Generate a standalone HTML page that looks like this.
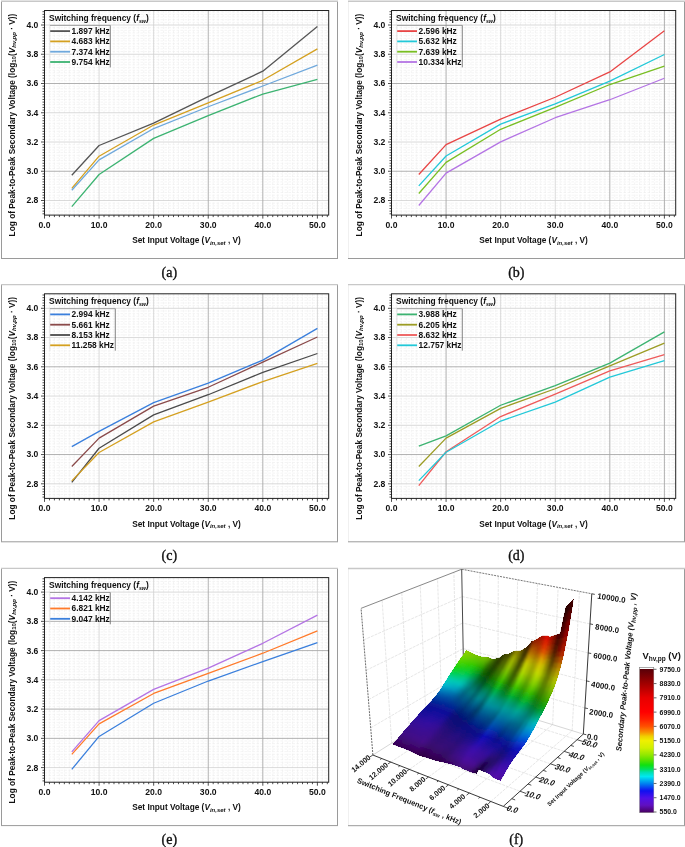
<!DOCTYPE html>
<html><head><meta charset="utf-8"><style>html,body{margin:0;padding:0;background:#fff;width:685px;height:847px;overflow:hidden} svg{display:block;filter:blur(0.3px)}</style></head>
<body><svg width="685" height="847" viewBox="0 0 685 847">
<style>text{font-family:'Liberation Sans', sans-serif;font-weight:bold;fill:#111} .tk{font-size:8.6px} .lg{font-size:8.4px} .at{font-size:8.3px} .cap{font-family:'Liberation Serif', serif;font-weight:normal;font-size:14px;stroke:#111;stroke-width:0.35px} .f3{font-size:7.9px} .f3v{font-size:8px} .f3f{font-size:7.4px} .f3t{font-size:7.5px} .f3t2{font-size:5.8px} .f3z{font-size:7.7px;font-style:italic} .cbl{font-size:6.9px} .cbt{font-size:9.4px}</style>
<rect width="685" height="847" fill="#fff"/>
<path d="M1.5 1V258.5" stroke="#9a9a9a" stroke-width="1" fill="none"/>
<path d="M337.5 1V258.5M1 258.5H338" stroke="#9a9a9a" stroke-width="1" fill="none"/>
<path d="M1 1.3H338" stroke="#c8c8c8" stroke-width="1.4" fill="none"/>
<path d="M49.46 10.50V215.10M54.42 10.50V215.10M59.39 10.50V215.10M64.35 10.50V215.10M69.31 10.50V215.10M74.27 10.50V215.10M79.23 10.50V215.10M84.19 10.50V215.10M89.16 10.50V215.10M94.12 10.50V215.10M104.04 10.50V215.10M109.00 10.50V215.10M113.97 10.50V215.10M118.93 10.50V215.10M123.89 10.50V215.10M128.85 10.50V215.10M133.81 10.50V215.10M138.77 10.50V215.10M143.74 10.50V215.10M148.70 10.50V215.10M158.62 10.50V215.10M163.58 10.50V215.10M168.55 10.50V215.10M173.51 10.50V215.10M178.47 10.50V215.10M183.43 10.50V215.10M188.39 10.50V215.10M193.35 10.50V215.10M198.32 10.50V215.10M203.28 10.50V215.10M213.20 10.50V215.10M218.16 10.50V215.10M223.13 10.50V215.10M228.09 10.50V215.10M233.05 10.50V215.10M238.01 10.50V215.10M242.97 10.50V215.10M247.93 10.50V215.10M252.90 10.50V215.10M257.86 10.50V215.10M267.78 10.50V215.10M272.74 10.50V215.10M277.71 10.50V215.10M282.67 10.50V215.10M287.63 10.50V215.10M292.59 10.50V215.10M297.55 10.50V215.10M302.51 10.50V215.10M307.48 10.50V215.10M312.44 10.50V215.10M322.36 10.50V215.10M327.32 10.50V215.10M44.50 213.80H328.70M44.50 211.14H328.70M44.50 208.48H328.70M44.50 205.82H328.70M44.50 203.16H328.70M44.50 197.84H328.70M44.50 195.18H328.70M44.50 192.52H328.70M44.50 189.86H328.70M44.50 187.20H328.70M44.50 184.55H328.70M44.50 181.89H328.70M44.50 179.23H328.70M44.50 176.57H328.70M44.50 173.91H328.70M44.50 168.59H328.70M44.50 165.93H328.70M44.50 163.27H328.70M44.50 160.61H328.70M44.50 157.95H328.70M44.50 155.30H328.70M44.50 152.64H328.70M44.50 149.98H328.70M44.50 147.32H328.70M44.50 144.66H328.70M44.50 139.34H328.70M44.50 136.68H328.70M44.50 134.02H328.70M44.50 131.36H328.70M44.50 128.70H328.70M44.50 126.05H328.70M44.50 123.39H328.70M44.50 120.73H328.70M44.50 118.07H328.70M44.50 115.41H328.70M44.50 110.09H328.70M44.50 107.43H328.70M44.50 104.77H328.70M44.50 102.11H328.70M44.50 99.45H328.70M44.50 96.80H328.70M44.50 94.14H328.70M44.50 91.48H328.70M44.50 88.82H328.70M44.50 86.16H328.70M44.50 80.84H328.70M44.50 78.18H328.70M44.50 75.52H328.70M44.50 72.86H328.70M44.50 70.20H328.70M44.50 67.55H328.70M44.50 64.89H328.70M44.50 62.23H328.70M44.50 59.57H328.70M44.50 56.91H328.70M44.50 51.59H328.70M44.50 48.93H328.70M44.50 46.27H328.70M44.50 43.61H328.70M44.50 40.95H328.70M44.50 38.30H328.70M44.50 35.64H328.70M44.50 32.98H328.70M44.50 30.32H328.70M44.50 27.66H328.70M44.50 22.34H328.70M44.50 19.68H328.70M44.50 17.02H328.70M44.50 14.36H328.70M44.50 11.70H328.70" stroke="#ececec" stroke-width="0.6" stroke-dasharray="2.5 1.5" fill="none"/>
<path d="M99.08 10.50V215.10M153.66 10.50V215.10M317.40 10.50V215.10M44.50 200.50H328.70M44.50 142.00H328.70M44.50 112.75H328.70M44.50 54.25H328.70M44.50 25.00H328.70" stroke="#d0d0d0" stroke-width="0.8" fill="none"/>
<path d="M208.24 10.50V215.10M262.82 10.50V215.10M44.50 171.25H328.70M44.50 83.50H328.70" stroke="#a8a8a8" stroke-width="0.9" fill="none"/>
<polyline points="71.79,175.20 99.08,145.51 153.66,123.13 208.24,96.66 262.82,71.21 317.40,26.61" fill="none" stroke="#555555" stroke-width="1.3" stroke-linejoin="round"/>
<polyline points="71.79,188.36 99.08,156.19 153.66,125.03 208.24,102.80 262.82,80.28 317.40,48.84" fill="none" stroke="#D4A020" stroke-width="1.3" stroke-linejoin="round"/>
<polyline points="71.79,190.26 99.08,159.84 153.66,128.55 208.24,106.75 262.82,85.99 317.40,65.22" fill="none" stroke="#6FA8DC" stroke-width="1.3" stroke-linejoin="round"/>
<polyline points="71.79,206.64 99.08,174.47 153.66,138.34 208.24,115.53 262.82,94.03 317.40,79.26" fill="none" stroke="#3CB371" stroke-width="1.3" stroke-linejoin="round"/>
<rect x="44.50" y="10.50" width="284.20" height="204.60" fill="none" stroke="#222" stroke-width="1"/>
<path d="M44.50 215.10v3.5M49.46 215.10v2.0M54.42 215.10v2.0M59.39 215.10v2.0M64.35 215.10v2.0M69.31 215.10v2.0M74.27 215.10v2.0M79.23 215.10v2.0M84.19 215.10v2.0M89.16 215.10v2.0M94.12 215.10v2.0M99.08 215.10v3.5M104.04 215.10v2.0M109.00 215.10v2.0M113.97 215.10v2.0M118.93 215.10v2.0M123.89 215.10v2.0M128.85 215.10v2.0M133.81 215.10v2.0M138.77 215.10v2.0M143.74 215.10v2.0M148.70 215.10v2.0M153.66 215.10v3.5M158.62 215.10v2.0M163.58 215.10v2.0M168.55 215.10v2.0M173.51 215.10v2.0M178.47 215.10v2.0M183.43 215.10v2.0M188.39 215.10v2.0M193.35 215.10v2.0M198.32 215.10v2.0M203.28 215.10v2.0M208.24 215.10v3.5M213.20 215.10v2.0M218.16 215.10v2.0M223.13 215.10v2.0M228.09 215.10v2.0M233.05 215.10v2.0M238.01 215.10v2.0M242.97 215.10v2.0M247.93 215.10v2.0M252.90 215.10v2.0M257.86 215.10v2.0M262.82 215.10v3.5M267.78 215.10v2.0M272.74 215.10v2.0M277.71 215.10v2.0M282.67 215.10v2.0M287.63 215.10v2.0M292.59 215.10v2.0M297.55 215.10v2.0M302.51 215.10v2.0M307.48 215.10v2.0M312.44 215.10v2.0M317.40 215.10v3.5M322.36 215.10v2.0M327.32 215.10v2.0M44.50 213.80h-2.0M44.50 211.14h-2.0M44.50 208.48h-2.0M44.50 205.82h-2.0M44.50 203.16h-2.0M44.50 200.50h-3.5M44.50 197.84h-2.0M44.50 195.18h-2.0M44.50 192.52h-2.0M44.50 189.86h-2.0M44.50 187.20h-2.0M44.50 184.55h-2.0M44.50 181.89h-2.0M44.50 179.23h-2.0M44.50 176.57h-2.0M44.50 173.91h-2.0M44.50 171.25h-3.5M44.50 168.59h-2.0M44.50 165.93h-2.0M44.50 163.27h-2.0M44.50 160.61h-2.0M44.50 157.95h-2.0M44.50 155.30h-2.0M44.50 152.64h-2.0M44.50 149.98h-2.0M44.50 147.32h-2.0M44.50 144.66h-2.0M44.50 142.00h-3.5M44.50 139.34h-2.0M44.50 136.68h-2.0M44.50 134.02h-2.0M44.50 131.36h-2.0M44.50 128.70h-2.0M44.50 126.05h-2.0M44.50 123.39h-2.0M44.50 120.73h-2.0M44.50 118.07h-2.0M44.50 115.41h-2.0M44.50 112.75h-3.5M44.50 110.09h-2.0M44.50 107.43h-2.0M44.50 104.77h-2.0M44.50 102.11h-2.0M44.50 99.45h-2.0M44.50 96.80h-2.0M44.50 94.14h-2.0M44.50 91.48h-2.0M44.50 88.82h-2.0M44.50 86.16h-2.0M44.50 83.50h-3.5M44.50 80.84h-2.0M44.50 78.18h-2.0M44.50 75.52h-2.0M44.50 72.86h-2.0M44.50 70.20h-2.0M44.50 67.55h-2.0M44.50 64.89h-2.0M44.50 62.23h-2.0M44.50 59.57h-2.0M44.50 56.91h-2.0M44.50 54.25h-3.5M44.50 51.59h-2.0M44.50 48.93h-2.0M44.50 46.27h-2.0M44.50 43.61h-2.0M44.50 40.95h-2.0M44.50 38.30h-2.0M44.50 35.64h-2.0M44.50 32.98h-2.0M44.50 30.32h-2.0M44.50 27.66h-2.0M44.50 25.00h-3.5M44.50 22.34h-2.0M44.50 19.68h-2.0M44.50 17.02h-2.0M44.50 14.36h-2.0M44.50 11.70h-2.0" stroke="#222" stroke-width="0.8" fill="none"/>
<text x="44.50" y="228.00" text-anchor="middle" class="tk">0.0</text>
<text x="99.08" y="228.00" text-anchor="middle" class="tk">10.0</text>
<text x="153.66" y="228.00" text-anchor="middle" class="tk">20.0</text>
<text x="208.24" y="228.00" text-anchor="middle" class="tk">30.0</text>
<text x="262.82" y="228.00" text-anchor="middle" class="tk">40.0</text>
<text x="317.40" y="228.00" text-anchor="middle" class="tk">50.0</text>
<text x="38.40" y="203.40" text-anchor="end" class="tk">2.8</text>
<text x="38.40" y="174.15" text-anchor="end" class="tk">3.0</text>
<text x="38.40" y="144.90" text-anchor="end" class="tk">3.2</text>
<text x="38.40" y="115.65" text-anchor="end" class="tk">3.4</text>
<text x="38.40" y="86.40" text-anchor="end" class="tk">3.6</text>
<text x="38.40" y="57.15" text-anchor="end" class="tk">3.8</text>
<text x="38.40" y="27.90" text-anchor="end" class="tk">4.0</text>
<text x="186.50" y="243.20" text-anchor="middle" class="at">Set Input Voltage (<tspan font-style="italic">V</tspan><tspan font-style="italic" font-size="6" dy="1.8">in,set</tspan><tspan dy="-1.8"> , V)</tspan></text>
<text transform="translate(14.60,125.00) rotate(-90)" text-anchor="middle" class="at" style="font-size:8.3px">Log of Peak-to-Peak Secondary Voltage (log<tspan font-size="6" dy="1.8">10</tspan><tspan dy="-1.8">(</tspan><tspan font-style="italic">V</tspan><tspan font-style="italic" font-size="6" dy="1.8">hv,pp</tspan><tspan dy="-1.8"> · V))</tspan></text>
<text x="49.10" y="20.60" class="lg">Switching frequency (<tspan font-style="italic">f</tspan><tspan font-style="italic" font-size="5.3" dy="2">sw</tspan><tspan dy="-2">)</tspan></text>
<path d="M49.90 67.40V25.40" fill="none" stroke="#ddd" stroke-width="0.7"/>
<path d="M49.90 25.40H110.30" fill="none" stroke="#8c8c8c" stroke-width="0.8"/>
<path d="M110.30 25.40V67.40" fill="none" stroke="#666" stroke-width="0.8"/>
<line x1="50.20" y1="31.10" x2="70.00" y2="31.10" stroke="#555555" stroke-width="1.8"/>
<text x="71.60" y="34.00" class="lg">1.897 kHz</text>
<line x1="50.20" y1="41.40" x2="70.00" y2="41.40" stroke="#D4A020" stroke-width="1.8"/>
<text x="71.60" y="44.30" class="lg">4.683 kHz</text>
<line x1="50.20" y1="51.70" x2="70.00" y2="51.70" stroke="#6FA8DC" stroke-width="1.8"/>
<text x="71.60" y="54.60" class="lg">7.374 kHz</text>
<line x1="50.20" y1="62.00" x2="70.00" y2="62.00" stroke="#3CB371" stroke-width="1.8"/>
<text x="71.60" y="64.90" class="lg">9.754 kHz</text>
<text x="169.30" y="277.00" text-anchor="middle" class="cap">(a)</text>
<path d="M348.5 1V258.5" stroke="#f0f0f0" stroke-width="1" fill="none"/>
<path d="M684.5 1V258.5M348 258.5H685" stroke="#9a9a9a" stroke-width="1" fill="none"/>
<path d="M348 1.3H685" stroke="#c8c8c8" stroke-width="1.4" fill="none"/>
<path d="M396.46 10.50V215.10M401.42 10.50V215.10M406.39 10.50V215.10M411.35 10.50V215.10M416.31 10.50V215.10M421.27 10.50V215.10M426.23 10.50V215.10M431.19 10.50V215.10M436.16 10.50V215.10M441.12 10.50V215.10M451.04 10.50V215.10M456.00 10.50V215.10M460.97 10.50V215.10M465.93 10.50V215.10M470.89 10.50V215.10M475.85 10.50V215.10M480.81 10.50V215.10M485.77 10.50V215.10M490.74 10.50V215.10M495.70 10.50V215.10M505.62 10.50V215.10M510.58 10.50V215.10M515.55 10.50V215.10M520.51 10.50V215.10M525.47 10.50V215.10M530.43 10.50V215.10M535.39 10.50V215.10M540.35 10.50V215.10M545.32 10.50V215.10M550.28 10.50V215.10M560.20 10.50V215.10M565.16 10.50V215.10M570.13 10.50V215.10M575.09 10.50V215.10M580.05 10.50V215.10M585.01 10.50V215.10M589.97 10.50V215.10M594.93 10.50V215.10M599.90 10.50V215.10M604.86 10.50V215.10M614.78 10.50V215.10M619.74 10.50V215.10M624.71 10.50V215.10M629.67 10.50V215.10M634.63 10.50V215.10M639.59 10.50V215.10M644.55 10.50V215.10M649.51 10.50V215.10M654.48 10.50V215.10M659.44 10.50V215.10M669.36 10.50V215.10M674.32 10.50V215.10M391.50 213.80H675.70M391.50 211.14H675.70M391.50 208.48H675.70M391.50 205.82H675.70M391.50 203.16H675.70M391.50 197.84H675.70M391.50 195.18H675.70M391.50 192.52H675.70M391.50 189.86H675.70M391.50 187.20H675.70M391.50 184.55H675.70M391.50 181.89H675.70M391.50 179.23H675.70M391.50 176.57H675.70M391.50 173.91H675.70M391.50 168.59H675.70M391.50 165.93H675.70M391.50 163.27H675.70M391.50 160.61H675.70M391.50 157.95H675.70M391.50 155.30H675.70M391.50 152.64H675.70M391.50 149.98H675.70M391.50 147.32H675.70M391.50 144.66H675.70M391.50 139.34H675.70M391.50 136.68H675.70M391.50 134.02H675.70M391.50 131.36H675.70M391.50 128.70H675.70M391.50 126.05H675.70M391.50 123.39H675.70M391.50 120.73H675.70M391.50 118.07H675.70M391.50 115.41H675.70M391.50 110.09H675.70M391.50 107.43H675.70M391.50 104.77H675.70M391.50 102.11H675.70M391.50 99.45H675.70M391.50 96.80H675.70M391.50 94.14H675.70M391.50 91.48H675.70M391.50 88.82H675.70M391.50 86.16H675.70M391.50 80.84H675.70M391.50 78.18H675.70M391.50 75.52H675.70M391.50 72.86H675.70M391.50 70.20H675.70M391.50 67.55H675.70M391.50 64.89H675.70M391.50 62.23H675.70M391.50 59.57H675.70M391.50 56.91H675.70M391.50 51.59H675.70M391.50 48.93H675.70M391.50 46.27H675.70M391.50 43.61H675.70M391.50 40.95H675.70M391.50 38.30H675.70M391.50 35.64H675.70M391.50 32.98H675.70M391.50 30.32H675.70M391.50 27.66H675.70M391.50 22.34H675.70M391.50 19.68H675.70M391.50 17.02H675.70M391.50 14.36H675.70M391.50 11.70H675.70" stroke="#ececec" stroke-width="0.6" stroke-dasharray="2.5 1.5" fill="none"/>
<path d="M500.66 10.50V215.10M555.24 10.50V215.10M391.50 200.50H675.70M391.50 142.00H675.70M391.50 112.75H675.70M391.50 54.25H675.70M391.50 25.00H675.70" stroke="#d0d0d0" stroke-width="0.8" fill="none"/>
<path d="M446.08 10.50V215.10M609.82 10.50V215.10M664.40 10.50V215.10M391.50 171.25H675.70M391.50 83.50H675.70" stroke="#a8a8a8" stroke-width="0.9" fill="none"/>
<polyline points="418.79,174.47 446.08,144.63 500.66,119.04 555.24,97.25 609.82,71.95 664.40,30.85" fill="none" stroke="#E84545" stroke-width="1.3" stroke-linejoin="round"/>
<polyline points="418.79,185.88 446.08,156.04 500.66,124.16 555.24,103.83 609.82,81.16 664.40,54.54" fill="none" stroke="#22C8D8" stroke-width="1.3" stroke-linejoin="round"/>
<polyline points="418.79,193.48 446.08,162.33 500.66,129.28 555.24,107.34 609.82,84.52 664.40,66.24" fill="none" stroke="#78BE22" stroke-width="1.3" stroke-linejoin="round"/>
<polyline points="418.79,205.47 446.08,173.15 500.66,141.85 555.24,117.72 609.82,99.73 664.40,78.23" fill="none" stroke="#B474E4" stroke-width="1.3" stroke-linejoin="round"/>
<rect x="391.50" y="10.50" width="284.20" height="204.60" fill="none" stroke="#222" stroke-width="1"/>
<path d="M391.50 215.10v3.5M396.46 215.10v2.0M401.42 215.10v2.0M406.39 215.10v2.0M411.35 215.10v2.0M416.31 215.10v2.0M421.27 215.10v2.0M426.23 215.10v2.0M431.19 215.10v2.0M436.16 215.10v2.0M441.12 215.10v2.0M446.08 215.10v3.5M451.04 215.10v2.0M456.00 215.10v2.0M460.97 215.10v2.0M465.93 215.10v2.0M470.89 215.10v2.0M475.85 215.10v2.0M480.81 215.10v2.0M485.77 215.10v2.0M490.74 215.10v2.0M495.70 215.10v2.0M500.66 215.10v3.5M505.62 215.10v2.0M510.58 215.10v2.0M515.55 215.10v2.0M520.51 215.10v2.0M525.47 215.10v2.0M530.43 215.10v2.0M535.39 215.10v2.0M540.35 215.10v2.0M545.32 215.10v2.0M550.28 215.10v2.0M555.24 215.10v3.5M560.20 215.10v2.0M565.16 215.10v2.0M570.13 215.10v2.0M575.09 215.10v2.0M580.05 215.10v2.0M585.01 215.10v2.0M589.97 215.10v2.0M594.93 215.10v2.0M599.90 215.10v2.0M604.86 215.10v2.0M609.82 215.10v3.5M614.78 215.10v2.0M619.74 215.10v2.0M624.71 215.10v2.0M629.67 215.10v2.0M634.63 215.10v2.0M639.59 215.10v2.0M644.55 215.10v2.0M649.51 215.10v2.0M654.48 215.10v2.0M659.44 215.10v2.0M664.40 215.10v3.5M669.36 215.10v2.0M674.32 215.10v2.0M391.50 213.80h-2.0M391.50 211.14h-2.0M391.50 208.48h-2.0M391.50 205.82h-2.0M391.50 203.16h-2.0M391.50 200.50h-3.5M391.50 197.84h-2.0M391.50 195.18h-2.0M391.50 192.52h-2.0M391.50 189.86h-2.0M391.50 187.20h-2.0M391.50 184.55h-2.0M391.50 181.89h-2.0M391.50 179.23h-2.0M391.50 176.57h-2.0M391.50 173.91h-2.0M391.50 171.25h-3.5M391.50 168.59h-2.0M391.50 165.93h-2.0M391.50 163.27h-2.0M391.50 160.61h-2.0M391.50 157.95h-2.0M391.50 155.30h-2.0M391.50 152.64h-2.0M391.50 149.98h-2.0M391.50 147.32h-2.0M391.50 144.66h-2.0M391.50 142.00h-3.5M391.50 139.34h-2.0M391.50 136.68h-2.0M391.50 134.02h-2.0M391.50 131.36h-2.0M391.50 128.70h-2.0M391.50 126.05h-2.0M391.50 123.39h-2.0M391.50 120.73h-2.0M391.50 118.07h-2.0M391.50 115.41h-2.0M391.50 112.75h-3.5M391.50 110.09h-2.0M391.50 107.43h-2.0M391.50 104.77h-2.0M391.50 102.11h-2.0M391.50 99.45h-2.0M391.50 96.80h-2.0M391.50 94.14h-2.0M391.50 91.48h-2.0M391.50 88.82h-2.0M391.50 86.16h-2.0M391.50 83.50h-3.5M391.50 80.84h-2.0M391.50 78.18h-2.0M391.50 75.52h-2.0M391.50 72.86h-2.0M391.50 70.20h-2.0M391.50 67.55h-2.0M391.50 64.89h-2.0M391.50 62.23h-2.0M391.50 59.57h-2.0M391.50 56.91h-2.0M391.50 54.25h-3.5M391.50 51.59h-2.0M391.50 48.93h-2.0M391.50 46.27h-2.0M391.50 43.61h-2.0M391.50 40.95h-2.0M391.50 38.30h-2.0M391.50 35.64h-2.0M391.50 32.98h-2.0M391.50 30.32h-2.0M391.50 27.66h-2.0M391.50 25.00h-3.5M391.50 22.34h-2.0M391.50 19.68h-2.0M391.50 17.02h-2.0M391.50 14.36h-2.0M391.50 11.70h-2.0" stroke="#222" stroke-width="0.8" fill="none"/>
<text x="391.50" y="228.00" text-anchor="middle" class="tk">0.0</text>
<text x="446.08" y="228.00" text-anchor="middle" class="tk">10.0</text>
<text x="500.66" y="228.00" text-anchor="middle" class="tk">20.0</text>
<text x="555.24" y="228.00" text-anchor="middle" class="tk">30.0</text>
<text x="609.82" y="228.00" text-anchor="middle" class="tk">40.0</text>
<text x="664.40" y="228.00" text-anchor="middle" class="tk">50.0</text>
<text x="385.40" y="203.40" text-anchor="end" class="tk">2.8</text>
<text x="385.40" y="174.15" text-anchor="end" class="tk">3.0</text>
<text x="385.40" y="144.90" text-anchor="end" class="tk">3.2</text>
<text x="385.40" y="115.65" text-anchor="end" class="tk">3.4</text>
<text x="385.40" y="86.40" text-anchor="end" class="tk">3.6</text>
<text x="385.40" y="57.15" text-anchor="end" class="tk">3.8</text>
<text x="385.40" y="27.90" text-anchor="end" class="tk">4.0</text>
<text x="533.50" y="243.20" text-anchor="middle" class="at">Set Input Voltage (<tspan font-style="italic">V</tspan><tspan font-style="italic" font-size="6" dy="1.8">in,set</tspan><tspan dy="-1.8"> , V)</tspan></text>
<text transform="translate(361.60,125.00) rotate(-90)" text-anchor="middle" class="at" style="font-size:8.3px">Log of Peak-to-Peak Secondary Voltage (log<tspan font-size="6" dy="1.8">10</tspan><tspan dy="-1.8">(</tspan><tspan font-style="italic">V</tspan><tspan font-style="italic" font-size="6" dy="1.8">hv,pp</tspan><tspan dy="-1.8"> · V))</tspan></text>
<text x="396.10" y="20.60" class="lg">Switching frequency (<tspan font-style="italic">f</tspan><tspan font-style="italic" font-size="5.3" dy="2">sw</tspan><tspan dy="-2">)</tspan></text>
<path d="M396.90 67.40V25.40" fill="none" stroke="#ddd" stroke-width="0.7"/>
<path d="M396.90 25.40H462.30" fill="none" stroke="#8c8c8c" stroke-width="0.8"/>
<path d="M462.30 25.40V67.40" fill="none" stroke="#666" stroke-width="0.8"/>
<line x1="397.20" y1="31.10" x2="417.00" y2="31.10" stroke="#E84545" stroke-width="1.8"/>
<text x="418.60" y="34.00" class="lg">2.596 kHz</text>
<line x1="397.20" y1="41.40" x2="417.00" y2="41.40" stroke="#22C8D8" stroke-width="1.8"/>
<text x="418.60" y="44.30" class="lg">5.632 kHz</text>
<line x1="397.20" y1="51.70" x2="417.00" y2="51.70" stroke="#78BE22" stroke-width="1.8"/>
<text x="418.60" y="54.60" class="lg">7.639 kHz</text>
<line x1="397.20" y1="62.00" x2="417.00" y2="62.00" stroke="#B474E4" stroke-width="1.8"/>
<text x="418.60" y="64.90" class="lg">10.334 kHz</text>
<text x="516.30" y="277.00" text-anchor="middle" class="cap">(b)</text>
<path d="M1.5 284.3V541.8" stroke="#9a9a9a" stroke-width="1" fill="none"/>
<path d="M337.5 284.3V541.8M1 541.8H338" stroke="#9a9a9a" stroke-width="1" fill="none"/>
<path d="M1 284.6H338" stroke="#c8c8c8" stroke-width="1.4" fill="none"/>
<path d="M49.46 293.80V498.40M54.42 293.80V498.40M59.39 293.80V498.40M64.35 293.80V498.40M69.31 293.80V498.40M74.27 293.80V498.40M79.23 293.80V498.40M84.19 293.80V498.40M89.16 293.80V498.40M94.12 293.80V498.40M104.04 293.80V498.40M109.00 293.80V498.40M113.97 293.80V498.40M118.93 293.80V498.40M123.89 293.80V498.40M128.85 293.80V498.40M133.81 293.80V498.40M138.77 293.80V498.40M143.74 293.80V498.40M148.70 293.80V498.40M158.62 293.80V498.40M163.58 293.80V498.40M168.55 293.80V498.40M173.51 293.80V498.40M178.47 293.80V498.40M183.43 293.80V498.40M188.39 293.80V498.40M193.35 293.80V498.40M198.32 293.80V498.40M203.28 293.80V498.40M213.20 293.80V498.40M218.16 293.80V498.40M223.13 293.80V498.40M228.09 293.80V498.40M233.05 293.80V498.40M238.01 293.80V498.40M242.97 293.80V498.40M247.93 293.80V498.40M252.90 293.80V498.40M257.86 293.80V498.40M267.78 293.80V498.40M272.74 293.80V498.40M277.71 293.80V498.40M282.67 293.80V498.40M287.63 293.80V498.40M292.59 293.80V498.40M297.55 293.80V498.40M302.51 293.80V498.40M307.48 293.80V498.40M312.44 293.80V498.40M322.36 293.80V498.40M327.32 293.80V498.40M44.50 497.10H328.70M44.50 494.44H328.70M44.50 491.78H328.70M44.50 489.12H328.70M44.50 486.46H328.70M44.50 481.14H328.70M44.50 478.48H328.70M44.50 475.82H328.70M44.50 473.16H328.70M44.50 470.50H328.70M44.50 467.85H328.70M44.50 465.19H328.70M44.50 462.53H328.70M44.50 459.87H328.70M44.50 457.21H328.70M44.50 451.89H328.70M44.50 449.23H328.70M44.50 446.57H328.70M44.50 443.91H328.70M44.50 441.25H328.70M44.50 438.60H328.70M44.50 435.94H328.70M44.50 433.28H328.70M44.50 430.62H328.70M44.50 427.96H328.70M44.50 422.64H328.70M44.50 419.98H328.70M44.50 417.32H328.70M44.50 414.66H328.70M44.50 412.00H328.70M44.50 409.35H328.70M44.50 406.69H328.70M44.50 404.03H328.70M44.50 401.37H328.70M44.50 398.71H328.70M44.50 393.39H328.70M44.50 390.73H328.70M44.50 388.07H328.70M44.50 385.41H328.70M44.50 382.75H328.70M44.50 380.10H328.70M44.50 377.44H328.70M44.50 374.78H328.70M44.50 372.12H328.70M44.50 369.46H328.70M44.50 364.14H328.70M44.50 361.48H328.70M44.50 358.82H328.70M44.50 356.16H328.70M44.50 353.50H328.70M44.50 350.85H328.70M44.50 348.19H328.70M44.50 345.53H328.70M44.50 342.87H328.70M44.50 340.21H328.70M44.50 334.89H328.70M44.50 332.23H328.70M44.50 329.57H328.70M44.50 326.91H328.70M44.50 324.25H328.70M44.50 321.60H328.70M44.50 318.94H328.70M44.50 316.28H328.70M44.50 313.62H328.70M44.50 310.96H328.70M44.50 305.64H328.70M44.50 302.98H328.70M44.50 300.32H328.70M44.50 297.66H328.70M44.50 295.00H328.70" stroke="#ececec" stroke-width="0.6" stroke-dasharray="2.5 1.5" fill="none"/>
<path d="M99.08 293.80V498.40M153.66 293.80V498.40M317.40 293.80V498.40M44.50 483.80H328.70M44.50 425.30H328.70M44.50 396.05H328.70M44.50 337.55H328.70M44.50 308.30H328.70" stroke="#d0d0d0" stroke-width="0.8" fill="none"/>
<path d="M208.24 293.80V498.40M262.82 293.80V498.40M44.50 454.55H328.70M44.50 366.80H328.70" stroke="#a8a8a8" stroke-width="0.9" fill="none"/>
<polyline points="71.79,446.65 99.08,431.44 153.66,402.63 208.24,383.18 262.82,360.07 317.40,328.34" fill="none" stroke="#3A7FDC" stroke-width="1.3" stroke-linejoin="round"/>
<polyline points="71.79,466.54 99.08,438.17 153.66,406.14 208.24,387.27 262.82,362.12 317.40,336.97" fill="none" stroke="#8A4A4A" stroke-width="1.3" stroke-linejoin="round"/>
<polyline points="71.79,482.34 99.08,448.26 153.66,414.92 208.24,394.73 262.82,372.36 317.40,353.49" fill="none" stroke="#4A4A4A" stroke-width="1.3" stroke-linejoin="round"/>
<polyline points="71.79,480.88 99.08,452.50 153.66,421.94 208.24,402.05 262.82,381.57 317.40,363.44" fill="none" stroke="#D4A020" stroke-width="1.3" stroke-linejoin="round"/>
<rect x="44.50" y="293.80" width="284.20" height="204.60" fill="none" stroke="#222" stroke-width="1"/>
<path d="M44.50 498.40v3.5M49.46 498.40v2.0M54.42 498.40v2.0M59.39 498.40v2.0M64.35 498.40v2.0M69.31 498.40v2.0M74.27 498.40v2.0M79.23 498.40v2.0M84.19 498.40v2.0M89.16 498.40v2.0M94.12 498.40v2.0M99.08 498.40v3.5M104.04 498.40v2.0M109.00 498.40v2.0M113.97 498.40v2.0M118.93 498.40v2.0M123.89 498.40v2.0M128.85 498.40v2.0M133.81 498.40v2.0M138.77 498.40v2.0M143.74 498.40v2.0M148.70 498.40v2.0M153.66 498.40v3.5M158.62 498.40v2.0M163.58 498.40v2.0M168.55 498.40v2.0M173.51 498.40v2.0M178.47 498.40v2.0M183.43 498.40v2.0M188.39 498.40v2.0M193.35 498.40v2.0M198.32 498.40v2.0M203.28 498.40v2.0M208.24 498.40v3.5M213.20 498.40v2.0M218.16 498.40v2.0M223.13 498.40v2.0M228.09 498.40v2.0M233.05 498.40v2.0M238.01 498.40v2.0M242.97 498.40v2.0M247.93 498.40v2.0M252.90 498.40v2.0M257.86 498.40v2.0M262.82 498.40v3.5M267.78 498.40v2.0M272.74 498.40v2.0M277.71 498.40v2.0M282.67 498.40v2.0M287.63 498.40v2.0M292.59 498.40v2.0M297.55 498.40v2.0M302.51 498.40v2.0M307.48 498.40v2.0M312.44 498.40v2.0M317.40 498.40v3.5M322.36 498.40v2.0M327.32 498.40v2.0M44.50 497.10h-2.0M44.50 494.44h-2.0M44.50 491.78h-2.0M44.50 489.12h-2.0M44.50 486.46h-2.0M44.50 483.80h-3.5M44.50 481.14h-2.0M44.50 478.48h-2.0M44.50 475.82h-2.0M44.50 473.16h-2.0M44.50 470.50h-2.0M44.50 467.85h-2.0M44.50 465.19h-2.0M44.50 462.53h-2.0M44.50 459.87h-2.0M44.50 457.21h-2.0M44.50 454.55h-3.5M44.50 451.89h-2.0M44.50 449.23h-2.0M44.50 446.57h-2.0M44.50 443.91h-2.0M44.50 441.25h-2.0M44.50 438.60h-2.0M44.50 435.94h-2.0M44.50 433.28h-2.0M44.50 430.62h-2.0M44.50 427.96h-2.0M44.50 425.30h-3.5M44.50 422.64h-2.0M44.50 419.98h-2.0M44.50 417.32h-2.0M44.50 414.66h-2.0M44.50 412.00h-2.0M44.50 409.35h-2.0M44.50 406.69h-2.0M44.50 404.03h-2.0M44.50 401.37h-2.0M44.50 398.71h-2.0M44.50 396.05h-3.5M44.50 393.39h-2.0M44.50 390.73h-2.0M44.50 388.07h-2.0M44.50 385.41h-2.0M44.50 382.75h-2.0M44.50 380.10h-2.0M44.50 377.44h-2.0M44.50 374.78h-2.0M44.50 372.12h-2.0M44.50 369.46h-2.0M44.50 366.80h-3.5M44.50 364.14h-2.0M44.50 361.48h-2.0M44.50 358.82h-2.0M44.50 356.16h-2.0M44.50 353.50h-2.0M44.50 350.85h-2.0M44.50 348.19h-2.0M44.50 345.53h-2.0M44.50 342.87h-2.0M44.50 340.21h-2.0M44.50 337.55h-3.5M44.50 334.89h-2.0M44.50 332.23h-2.0M44.50 329.57h-2.0M44.50 326.91h-2.0M44.50 324.25h-2.0M44.50 321.60h-2.0M44.50 318.94h-2.0M44.50 316.28h-2.0M44.50 313.62h-2.0M44.50 310.96h-2.0M44.50 308.30h-3.5M44.50 305.64h-2.0M44.50 302.98h-2.0M44.50 300.32h-2.0M44.50 297.66h-2.0M44.50 295.00h-2.0" stroke="#222" stroke-width="0.8" fill="none"/>
<text x="44.50" y="511.30" text-anchor="middle" class="tk">0.0</text>
<text x="99.08" y="511.30" text-anchor="middle" class="tk">10.0</text>
<text x="153.66" y="511.30" text-anchor="middle" class="tk">20.0</text>
<text x="208.24" y="511.30" text-anchor="middle" class="tk">30.0</text>
<text x="262.82" y="511.30" text-anchor="middle" class="tk">40.0</text>
<text x="317.40" y="511.30" text-anchor="middle" class="tk">50.0</text>
<text x="38.40" y="486.70" text-anchor="end" class="tk">2.8</text>
<text x="38.40" y="457.45" text-anchor="end" class="tk">3.0</text>
<text x="38.40" y="428.20" text-anchor="end" class="tk">3.2</text>
<text x="38.40" y="398.95" text-anchor="end" class="tk">3.4</text>
<text x="38.40" y="369.70" text-anchor="end" class="tk">3.6</text>
<text x="38.40" y="340.45" text-anchor="end" class="tk">3.8</text>
<text x="38.40" y="311.20" text-anchor="end" class="tk">4.0</text>
<text x="186.50" y="526.50" text-anchor="middle" class="at">Set Input Voltage (<tspan font-style="italic">V</tspan><tspan font-style="italic" font-size="6" dy="1.8">in,set</tspan><tspan dy="-1.8"> , V)</tspan></text>
<text transform="translate(14.60,408.30) rotate(-90)" text-anchor="middle" class="at" style="font-size:8.3px">Log of Peak-to-Peak Secondary Voltage (log<tspan font-size="6" dy="1.8">10</tspan><tspan dy="-1.8">(</tspan><tspan font-style="italic">V</tspan><tspan font-style="italic" font-size="6" dy="1.8">hv,pp</tspan><tspan dy="-1.8"> · V))</tspan></text>
<text x="49.10" y="303.90" class="lg">Switching frequency (<tspan font-style="italic">f</tspan><tspan font-style="italic" font-size="5.3" dy="2">sw</tspan><tspan dy="-2">)</tspan></text>
<path d="M49.90 350.70V308.70" fill="none" stroke="#ddd" stroke-width="0.7"/>
<path d="M49.90 308.70H115.30" fill="none" stroke="#8c8c8c" stroke-width="0.8"/>
<path d="M115.30 308.70V350.70" fill="none" stroke="#666" stroke-width="0.8"/>
<line x1="50.20" y1="314.40" x2="70.00" y2="314.40" stroke="#3A7FDC" stroke-width="1.8"/>
<text x="71.60" y="317.30" class="lg">2.994 kHz</text>
<line x1="50.20" y1="324.70" x2="70.00" y2="324.70" stroke="#8A4A4A" stroke-width="1.8"/>
<text x="71.60" y="327.60" class="lg">5.661 kHz</text>
<line x1="50.20" y1="335.00" x2="70.00" y2="335.00" stroke="#4A4A4A" stroke-width="1.8"/>
<text x="71.60" y="337.90" class="lg">8.153 kHz</text>
<line x1="50.20" y1="345.30" x2="70.00" y2="345.30" stroke="#D4A020" stroke-width="1.8"/>
<text x="71.60" y="348.20" class="lg">11.258 kHz</text>
<text x="169.30" y="560.30" text-anchor="middle" class="cap">(c)</text>
<path d="M348.5 284.3V541.8" stroke="#f0f0f0" stroke-width="1" fill="none"/>
<path d="M684.5 284.3V541.8M348 541.8H685" stroke="#9a9a9a" stroke-width="1" fill="none"/>
<path d="M348 284.6H685" stroke="#c8c8c8" stroke-width="1.4" fill="none"/>
<path d="M396.46 293.80V498.40M401.42 293.80V498.40M406.39 293.80V498.40M411.35 293.80V498.40M416.31 293.80V498.40M421.27 293.80V498.40M426.23 293.80V498.40M431.19 293.80V498.40M436.16 293.80V498.40M441.12 293.80V498.40M451.04 293.80V498.40M456.00 293.80V498.40M460.97 293.80V498.40M465.93 293.80V498.40M470.89 293.80V498.40M475.85 293.80V498.40M480.81 293.80V498.40M485.77 293.80V498.40M490.74 293.80V498.40M495.70 293.80V498.40M505.62 293.80V498.40M510.58 293.80V498.40M515.55 293.80V498.40M520.51 293.80V498.40M525.47 293.80V498.40M530.43 293.80V498.40M535.39 293.80V498.40M540.35 293.80V498.40M545.32 293.80V498.40M550.28 293.80V498.40M560.20 293.80V498.40M565.16 293.80V498.40M570.13 293.80V498.40M575.09 293.80V498.40M580.05 293.80V498.40M585.01 293.80V498.40M589.97 293.80V498.40M594.93 293.80V498.40M599.90 293.80V498.40M604.86 293.80V498.40M614.78 293.80V498.40M619.74 293.80V498.40M624.71 293.80V498.40M629.67 293.80V498.40M634.63 293.80V498.40M639.59 293.80V498.40M644.55 293.80V498.40M649.51 293.80V498.40M654.48 293.80V498.40M659.44 293.80V498.40M669.36 293.80V498.40M674.32 293.80V498.40M391.50 497.10H675.70M391.50 494.44H675.70M391.50 491.78H675.70M391.50 489.12H675.70M391.50 486.46H675.70M391.50 481.14H675.70M391.50 478.48H675.70M391.50 475.82H675.70M391.50 473.16H675.70M391.50 470.50H675.70M391.50 467.85H675.70M391.50 465.19H675.70M391.50 462.53H675.70M391.50 459.87H675.70M391.50 457.21H675.70M391.50 451.89H675.70M391.50 449.23H675.70M391.50 446.57H675.70M391.50 443.91H675.70M391.50 441.25H675.70M391.50 438.60H675.70M391.50 435.94H675.70M391.50 433.28H675.70M391.50 430.62H675.70M391.50 427.96H675.70M391.50 422.64H675.70M391.50 419.98H675.70M391.50 417.32H675.70M391.50 414.66H675.70M391.50 412.00H675.70M391.50 409.35H675.70M391.50 406.69H675.70M391.50 404.03H675.70M391.50 401.37H675.70M391.50 398.71H675.70M391.50 393.39H675.70M391.50 390.73H675.70M391.50 388.07H675.70M391.50 385.41H675.70M391.50 382.75H675.70M391.50 380.10H675.70M391.50 377.44H675.70M391.50 374.78H675.70M391.50 372.12H675.70M391.50 369.46H675.70M391.50 364.14H675.70M391.50 361.48H675.70M391.50 358.82H675.70M391.50 356.16H675.70M391.50 353.50H675.70M391.50 350.85H675.70M391.50 348.19H675.70M391.50 345.53H675.70M391.50 342.87H675.70M391.50 340.21H675.70M391.50 334.89H675.70M391.50 332.23H675.70M391.50 329.57H675.70M391.50 326.91H675.70M391.50 324.25H675.70M391.50 321.60H675.70M391.50 318.94H675.70M391.50 316.28H675.70M391.50 313.62H675.70M391.50 310.96H675.70M391.50 305.64H675.70M391.50 302.98H675.70M391.50 300.32H675.70M391.50 297.66H675.70M391.50 295.00H675.70" stroke="#ececec" stroke-width="0.6" stroke-dasharray="2.5 1.5" fill="none"/>
<path d="M500.66 293.80V498.40M555.24 293.80V498.40M391.50 483.80H675.70M391.50 425.30H675.70M391.50 396.05H675.70M391.50 337.55H675.70M391.50 308.30H675.70" stroke="#d0d0d0" stroke-width="0.8" fill="none"/>
<path d="M446.08 293.80V498.40M609.82 293.80V498.40M664.40 293.80V498.40M391.50 454.55H675.70M391.50 366.80H675.70" stroke="#a8a8a8" stroke-width="0.9" fill="none"/>
<polyline points="418.79,446.07 446.08,435.83 500.66,405.26 555.24,385.67 609.82,363.14 664.40,331.85" fill="none" stroke="#3CB371" stroke-width="1.3" stroke-linejoin="round"/>
<polyline points="418.79,466.54 446.08,438.17 500.66,408.34 555.24,388.74 609.82,365.78 664.40,343.11" fill="none" stroke="#9C9C24" stroke-width="1.3" stroke-linejoin="round"/>
<polyline points="418.79,485.56 446.08,451.77 500.66,416.53 555.24,394.15 609.82,370.89 664.40,354.66" fill="none" stroke="#EE5A5A" stroke-width="1.3" stroke-linejoin="round"/>
<polyline points="418.79,480.58 446.08,452.21 500.66,421.06 555.24,402.05 609.82,377.04 664.40,360.51" fill="none" stroke="#22C8D8" stroke-width="1.3" stroke-linejoin="round"/>
<rect x="391.50" y="293.80" width="284.20" height="204.60" fill="none" stroke="#222" stroke-width="1"/>
<path d="M391.50 498.40v3.5M396.46 498.40v2.0M401.42 498.40v2.0M406.39 498.40v2.0M411.35 498.40v2.0M416.31 498.40v2.0M421.27 498.40v2.0M426.23 498.40v2.0M431.19 498.40v2.0M436.16 498.40v2.0M441.12 498.40v2.0M446.08 498.40v3.5M451.04 498.40v2.0M456.00 498.40v2.0M460.97 498.40v2.0M465.93 498.40v2.0M470.89 498.40v2.0M475.85 498.40v2.0M480.81 498.40v2.0M485.77 498.40v2.0M490.74 498.40v2.0M495.70 498.40v2.0M500.66 498.40v3.5M505.62 498.40v2.0M510.58 498.40v2.0M515.55 498.40v2.0M520.51 498.40v2.0M525.47 498.40v2.0M530.43 498.40v2.0M535.39 498.40v2.0M540.35 498.40v2.0M545.32 498.40v2.0M550.28 498.40v2.0M555.24 498.40v3.5M560.20 498.40v2.0M565.16 498.40v2.0M570.13 498.40v2.0M575.09 498.40v2.0M580.05 498.40v2.0M585.01 498.40v2.0M589.97 498.40v2.0M594.93 498.40v2.0M599.90 498.40v2.0M604.86 498.40v2.0M609.82 498.40v3.5M614.78 498.40v2.0M619.74 498.40v2.0M624.71 498.40v2.0M629.67 498.40v2.0M634.63 498.40v2.0M639.59 498.40v2.0M644.55 498.40v2.0M649.51 498.40v2.0M654.48 498.40v2.0M659.44 498.40v2.0M664.40 498.40v3.5M669.36 498.40v2.0M674.32 498.40v2.0M391.50 497.10h-2.0M391.50 494.44h-2.0M391.50 491.78h-2.0M391.50 489.12h-2.0M391.50 486.46h-2.0M391.50 483.80h-3.5M391.50 481.14h-2.0M391.50 478.48h-2.0M391.50 475.82h-2.0M391.50 473.16h-2.0M391.50 470.50h-2.0M391.50 467.85h-2.0M391.50 465.19h-2.0M391.50 462.53h-2.0M391.50 459.87h-2.0M391.50 457.21h-2.0M391.50 454.55h-3.5M391.50 451.89h-2.0M391.50 449.23h-2.0M391.50 446.57h-2.0M391.50 443.91h-2.0M391.50 441.25h-2.0M391.50 438.60h-2.0M391.50 435.94h-2.0M391.50 433.28h-2.0M391.50 430.62h-2.0M391.50 427.96h-2.0M391.50 425.30h-3.5M391.50 422.64h-2.0M391.50 419.98h-2.0M391.50 417.32h-2.0M391.50 414.66h-2.0M391.50 412.00h-2.0M391.50 409.35h-2.0M391.50 406.69h-2.0M391.50 404.03h-2.0M391.50 401.37h-2.0M391.50 398.71h-2.0M391.50 396.05h-3.5M391.50 393.39h-2.0M391.50 390.73h-2.0M391.50 388.07h-2.0M391.50 385.41h-2.0M391.50 382.75h-2.0M391.50 380.10h-2.0M391.50 377.44h-2.0M391.50 374.78h-2.0M391.50 372.12h-2.0M391.50 369.46h-2.0M391.50 366.80h-3.5M391.50 364.14h-2.0M391.50 361.48h-2.0M391.50 358.82h-2.0M391.50 356.16h-2.0M391.50 353.50h-2.0M391.50 350.85h-2.0M391.50 348.19h-2.0M391.50 345.53h-2.0M391.50 342.87h-2.0M391.50 340.21h-2.0M391.50 337.55h-3.5M391.50 334.89h-2.0M391.50 332.23h-2.0M391.50 329.57h-2.0M391.50 326.91h-2.0M391.50 324.25h-2.0M391.50 321.60h-2.0M391.50 318.94h-2.0M391.50 316.28h-2.0M391.50 313.62h-2.0M391.50 310.96h-2.0M391.50 308.30h-3.5M391.50 305.64h-2.0M391.50 302.98h-2.0M391.50 300.32h-2.0M391.50 297.66h-2.0M391.50 295.00h-2.0" stroke="#222" stroke-width="0.8" fill="none"/>
<text x="391.50" y="511.30" text-anchor="middle" class="tk">0.0</text>
<text x="446.08" y="511.30" text-anchor="middle" class="tk">10.0</text>
<text x="500.66" y="511.30" text-anchor="middle" class="tk">20.0</text>
<text x="555.24" y="511.30" text-anchor="middle" class="tk">30.0</text>
<text x="609.82" y="511.30" text-anchor="middle" class="tk">40.0</text>
<text x="664.40" y="511.30" text-anchor="middle" class="tk">50.0</text>
<text x="385.40" y="486.70" text-anchor="end" class="tk">2.8</text>
<text x="385.40" y="457.45" text-anchor="end" class="tk">3.0</text>
<text x="385.40" y="428.20" text-anchor="end" class="tk">3.2</text>
<text x="385.40" y="398.95" text-anchor="end" class="tk">3.4</text>
<text x="385.40" y="369.70" text-anchor="end" class="tk">3.6</text>
<text x="385.40" y="340.45" text-anchor="end" class="tk">3.8</text>
<text x="385.40" y="311.20" text-anchor="end" class="tk">4.0</text>
<text x="533.50" y="526.50" text-anchor="middle" class="at">Set Input Voltage (<tspan font-style="italic">V</tspan><tspan font-style="italic" font-size="6" dy="1.8">in,set</tspan><tspan dy="-1.8"> , V)</tspan></text>
<text transform="translate(361.60,408.30) rotate(-90)" text-anchor="middle" class="at" style="font-size:8.3px">Log of Peak-to-Peak Secondary Voltage (log<tspan font-size="6" dy="1.8">10</tspan><tspan dy="-1.8">(</tspan><tspan font-style="italic">V</tspan><tspan font-style="italic" font-size="6" dy="1.8">hv,pp</tspan><tspan dy="-1.8"> · V))</tspan></text>
<text x="396.10" y="303.90" class="lg">Switching frequency (<tspan font-style="italic">f</tspan><tspan font-style="italic" font-size="5.3" dy="2">sw</tspan><tspan dy="-2">)</tspan></text>
<path d="M396.90 350.70V308.70" fill="none" stroke="#ddd" stroke-width="0.7"/>
<path d="M396.90 308.70H462.30" fill="none" stroke="#8c8c8c" stroke-width="0.8"/>
<path d="M462.30 308.70V350.70" fill="none" stroke="#666" stroke-width="0.8"/>
<line x1="397.20" y1="314.40" x2="417.00" y2="314.40" stroke="#3CB371" stroke-width="1.8"/>
<text x="418.60" y="317.30" class="lg">3.988 kHz</text>
<line x1="397.20" y1="324.70" x2="417.00" y2="324.70" stroke="#9C9C24" stroke-width="1.8"/>
<text x="418.60" y="327.60" class="lg">6.205 kHz</text>
<line x1="397.20" y1="335.00" x2="417.00" y2="335.00" stroke="#EE5A5A" stroke-width="1.8"/>
<text x="418.60" y="337.90" class="lg">8.632 kHz</text>
<line x1="397.20" y1="345.30" x2="417.00" y2="345.30" stroke="#22C8D8" stroke-width="1.8"/>
<text x="418.60" y="348.20" class="lg">12.757 kHz</text>
<text x="516.30" y="560.30" text-anchor="middle" class="cap">(d)</text>
<path d="M1.5 568.1V825.6" stroke="#9a9a9a" stroke-width="1" fill="none"/>
<path d="M337.5 568.1V825.6M1 825.6H338" stroke="#9a9a9a" stroke-width="1" fill="none"/>
<path d="M1 568.4H338" stroke="#c8c8c8" stroke-width="1.4" fill="none"/>
<path d="M49.46 577.60V782.20M54.42 577.60V782.20M59.39 577.60V782.20M64.35 577.60V782.20M69.31 577.60V782.20M74.27 577.60V782.20M79.23 577.60V782.20M84.19 577.60V782.20M89.16 577.60V782.20M94.12 577.60V782.20M104.04 577.60V782.20M109.00 577.60V782.20M113.97 577.60V782.20M118.93 577.60V782.20M123.89 577.60V782.20M128.85 577.60V782.20M133.81 577.60V782.20M138.77 577.60V782.20M143.74 577.60V782.20M148.70 577.60V782.20M158.62 577.60V782.20M163.58 577.60V782.20M168.55 577.60V782.20M173.51 577.60V782.20M178.47 577.60V782.20M183.43 577.60V782.20M188.39 577.60V782.20M193.35 577.60V782.20M198.32 577.60V782.20M203.28 577.60V782.20M213.20 577.60V782.20M218.16 577.60V782.20M223.13 577.60V782.20M228.09 577.60V782.20M233.05 577.60V782.20M238.01 577.60V782.20M242.97 577.60V782.20M247.93 577.60V782.20M252.90 577.60V782.20M257.86 577.60V782.20M267.78 577.60V782.20M272.74 577.60V782.20M277.71 577.60V782.20M282.67 577.60V782.20M287.63 577.60V782.20M292.59 577.60V782.20M297.55 577.60V782.20M302.51 577.60V782.20M307.48 577.60V782.20M312.44 577.60V782.20M322.36 577.60V782.20M327.32 577.60V782.20M44.50 780.90H328.70M44.50 778.24H328.70M44.50 775.58H328.70M44.50 772.92H328.70M44.50 770.26H328.70M44.50 764.94H328.70M44.50 762.28H328.70M44.50 759.62H328.70M44.50 756.96H328.70M44.50 754.30H328.70M44.50 751.65H328.70M44.50 748.99H328.70M44.50 746.33H328.70M44.50 743.67H328.70M44.50 741.01H328.70M44.50 735.69H328.70M44.50 733.03H328.70M44.50 730.37H328.70M44.50 727.71H328.70M44.50 725.05H328.70M44.50 722.40H328.70M44.50 719.74H328.70M44.50 717.08H328.70M44.50 714.42H328.70M44.50 711.76H328.70M44.50 706.44H328.70M44.50 703.78H328.70M44.50 701.12H328.70M44.50 698.46H328.70M44.50 695.80H328.70M44.50 693.15H328.70M44.50 690.49H328.70M44.50 687.83H328.70M44.50 685.17H328.70M44.50 682.51H328.70M44.50 677.19H328.70M44.50 674.53H328.70M44.50 671.87H328.70M44.50 669.21H328.70M44.50 666.55H328.70M44.50 663.90H328.70M44.50 661.24H328.70M44.50 658.58H328.70M44.50 655.92H328.70M44.50 653.26H328.70M44.50 647.94H328.70M44.50 645.28H328.70M44.50 642.62H328.70M44.50 639.96H328.70M44.50 637.30H328.70M44.50 634.65H328.70M44.50 631.99H328.70M44.50 629.33H328.70M44.50 626.67H328.70M44.50 624.01H328.70M44.50 618.69H328.70M44.50 616.03H328.70M44.50 613.37H328.70M44.50 610.71H328.70M44.50 608.05H328.70M44.50 605.40H328.70M44.50 602.74H328.70M44.50 600.08H328.70M44.50 597.42H328.70M44.50 594.76H328.70M44.50 589.44H328.70M44.50 586.78H328.70M44.50 584.12H328.70M44.50 581.46H328.70M44.50 578.80H328.70" stroke="#ececec" stroke-width="0.6" stroke-dasharray="2.5 1.5" fill="none"/>
<path d="M99.08 577.60V782.20M153.66 577.60V782.20M317.40 577.60V782.20M44.50 767.60H328.70M44.50 679.85H328.70M44.50 592.10H328.70" stroke="#d0d0d0" stroke-width="0.8" fill="none"/>
<path d="M208.24 577.60V782.20M262.82 577.60V782.20M44.50 738.35H328.70M44.50 709.10H328.70M44.50 650.60H328.70M44.50 621.35H328.70" stroke="#a8a8a8" stroke-width="0.9" fill="none"/>
<polyline points="71.79,751.81 99.08,720.65 153.66,689.36 208.24,668.15 262.82,643.29 317.40,615.06" fill="none" stroke="#B474E4" stroke-width="1.3" stroke-linejoin="round"/>
<polyline points="71.79,754.44 99.08,723.87 153.66,693.45 208.24,673.27 262.82,653.23 317.40,630.86" fill="none" stroke="#FF7A2A" stroke-width="1.3" stroke-linejoin="round"/>
<polyline points="71.79,769.36 99.08,736.45 153.66,703.25 208.24,681.02 262.82,661.57 317.40,642.70" fill="none" stroke="#3A7FDC" stroke-width="1.3" stroke-linejoin="round"/>
<rect x="44.50" y="577.60" width="284.20" height="204.60" fill="none" stroke="#222" stroke-width="1"/>
<path d="M44.50 782.20v3.5M49.46 782.20v2.0M54.42 782.20v2.0M59.39 782.20v2.0M64.35 782.20v2.0M69.31 782.20v2.0M74.27 782.20v2.0M79.23 782.20v2.0M84.19 782.20v2.0M89.16 782.20v2.0M94.12 782.20v2.0M99.08 782.20v3.5M104.04 782.20v2.0M109.00 782.20v2.0M113.97 782.20v2.0M118.93 782.20v2.0M123.89 782.20v2.0M128.85 782.20v2.0M133.81 782.20v2.0M138.77 782.20v2.0M143.74 782.20v2.0M148.70 782.20v2.0M153.66 782.20v3.5M158.62 782.20v2.0M163.58 782.20v2.0M168.55 782.20v2.0M173.51 782.20v2.0M178.47 782.20v2.0M183.43 782.20v2.0M188.39 782.20v2.0M193.35 782.20v2.0M198.32 782.20v2.0M203.28 782.20v2.0M208.24 782.20v3.5M213.20 782.20v2.0M218.16 782.20v2.0M223.13 782.20v2.0M228.09 782.20v2.0M233.05 782.20v2.0M238.01 782.20v2.0M242.97 782.20v2.0M247.93 782.20v2.0M252.90 782.20v2.0M257.86 782.20v2.0M262.82 782.20v3.5M267.78 782.20v2.0M272.74 782.20v2.0M277.71 782.20v2.0M282.67 782.20v2.0M287.63 782.20v2.0M292.59 782.20v2.0M297.55 782.20v2.0M302.51 782.20v2.0M307.48 782.20v2.0M312.44 782.20v2.0M317.40 782.20v3.5M322.36 782.20v2.0M327.32 782.20v2.0M44.50 780.90h-2.0M44.50 778.24h-2.0M44.50 775.58h-2.0M44.50 772.92h-2.0M44.50 770.26h-2.0M44.50 767.60h-3.5M44.50 764.94h-2.0M44.50 762.28h-2.0M44.50 759.62h-2.0M44.50 756.96h-2.0M44.50 754.30h-2.0M44.50 751.65h-2.0M44.50 748.99h-2.0M44.50 746.33h-2.0M44.50 743.67h-2.0M44.50 741.01h-2.0M44.50 738.35h-3.5M44.50 735.69h-2.0M44.50 733.03h-2.0M44.50 730.37h-2.0M44.50 727.71h-2.0M44.50 725.05h-2.0M44.50 722.40h-2.0M44.50 719.74h-2.0M44.50 717.08h-2.0M44.50 714.42h-2.0M44.50 711.76h-2.0M44.50 709.10h-3.5M44.50 706.44h-2.0M44.50 703.78h-2.0M44.50 701.12h-2.0M44.50 698.46h-2.0M44.50 695.80h-2.0M44.50 693.15h-2.0M44.50 690.49h-2.0M44.50 687.83h-2.0M44.50 685.17h-2.0M44.50 682.51h-2.0M44.50 679.85h-3.5M44.50 677.19h-2.0M44.50 674.53h-2.0M44.50 671.87h-2.0M44.50 669.21h-2.0M44.50 666.55h-2.0M44.50 663.90h-2.0M44.50 661.24h-2.0M44.50 658.58h-2.0M44.50 655.92h-2.0M44.50 653.26h-2.0M44.50 650.60h-3.5M44.50 647.94h-2.0M44.50 645.28h-2.0M44.50 642.62h-2.0M44.50 639.96h-2.0M44.50 637.30h-2.0M44.50 634.65h-2.0M44.50 631.99h-2.0M44.50 629.33h-2.0M44.50 626.67h-2.0M44.50 624.01h-2.0M44.50 621.35h-3.5M44.50 618.69h-2.0M44.50 616.03h-2.0M44.50 613.37h-2.0M44.50 610.71h-2.0M44.50 608.05h-2.0M44.50 605.40h-2.0M44.50 602.74h-2.0M44.50 600.08h-2.0M44.50 597.42h-2.0M44.50 594.76h-2.0M44.50 592.10h-3.5M44.50 589.44h-2.0M44.50 586.78h-2.0M44.50 584.12h-2.0M44.50 581.46h-2.0M44.50 578.80h-2.0" stroke="#222" stroke-width="0.8" fill="none"/>
<text x="44.50" y="795.10" text-anchor="middle" class="tk">0.0</text>
<text x="99.08" y="795.10" text-anchor="middle" class="tk">10.0</text>
<text x="153.66" y="795.10" text-anchor="middle" class="tk">20.0</text>
<text x="208.24" y="795.10" text-anchor="middle" class="tk">30.0</text>
<text x="262.82" y="795.10" text-anchor="middle" class="tk">40.0</text>
<text x="317.40" y="795.10" text-anchor="middle" class="tk">50.0</text>
<text x="38.40" y="770.50" text-anchor="end" class="tk">2.8</text>
<text x="38.40" y="741.25" text-anchor="end" class="tk">3.0</text>
<text x="38.40" y="712.00" text-anchor="end" class="tk">3.2</text>
<text x="38.40" y="682.75" text-anchor="end" class="tk">3.4</text>
<text x="38.40" y="653.50" text-anchor="end" class="tk">3.6</text>
<text x="38.40" y="624.25" text-anchor="end" class="tk">3.8</text>
<text x="38.40" y="595.00" text-anchor="end" class="tk">4.0</text>
<text x="186.50" y="810.30" text-anchor="middle" class="at">Set Input Voltage (<tspan font-style="italic">V</tspan><tspan font-style="italic" font-size="6" dy="1.8">in,set</tspan><tspan dy="-1.8"> , V)</tspan></text>
<text transform="translate(14.60,692.10) rotate(-90)" text-anchor="middle" class="at" style="font-size:8.3px">Log of Peak-to-Peak Secondary Voltage (log<tspan font-size="6" dy="1.8">10</tspan><tspan dy="-1.8">(</tspan><tspan font-style="italic">V</tspan><tspan font-style="italic" font-size="6" dy="1.8">hv,pp</tspan><tspan dy="-1.8"> · V))</tspan></text>
<text x="49.10" y="587.70" class="lg">Switching frequency (<tspan font-style="italic">f</tspan><tspan font-style="italic" font-size="5.3" dy="2">sw</tspan><tspan dy="-2">)</tspan></text>
<path d="M49.90 624.30V592.50" fill="none" stroke="#ddd" stroke-width="0.7"/>
<path d="M49.90 592.50H110.30" fill="none" stroke="#8c8c8c" stroke-width="0.8"/>
<path d="M110.30 592.50V624.30" fill="none" stroke="#666" stroke-width="0.8"/>
<line x1="50.20" y1="598.20" x2="70.00" y2="598.20" stroke="#B474E4" stroke-width="1.8"/>
<text x="71.60" y="601.10" class="lg">4.142 kHz</text>
<line x1="50.20" y1="608.50" x2="70.00" y2="608.50" stroke="#FF7A2A" stroke-width="1.8"/>
<text x="71.60" y="611.40" class="lg">6.821 kHz</text>
<line x1="50.20" y1="618.80" x2="70.00" y2="618.80" stroke="#3A7FDC" stroke-width="1.8"/>
<text x="71.60" y="621.70" class="lg">9.047 kHz</text>
<text x="169.30" y="844.10" text-anchor="middle" class="cap">(e)</text>
<path d="M348.5 568.2V825.7" stroke="#f0f0f0" stroke-width="1" fill="none"/>
<path d="M684.5 568.2V825.7M348 825.7H685" stroke="#9a9a9a" stroke-width="1" fill="none"/>
<path d="M348 568.5H685" stroke="#c8c8c8" stroke-width="1.4" fill="none"/>
<text x="516.30" y="844.40" text-anchor="middle" class="cap">(f)</text>
<defs><clipPath id="cf"><rect x="349" y="569" width="335" height="256"/></clipPath></defs>
<g clip-path="url(#cf)">
<line x1="391.72" y1="743.14" x2="382.10" y2="600.16" stroke="#d2d2d2" stroke-width="0.55" stroke-dasharray="3 1"/>
<line x1="409.45" y1="731.95" x2="401.77" y2="592.52" stroke="#d2d2d2" stroke-width="0.55" stroke-dasharray="3 1"/>
<line x1="426.17" y1="721.40" x2="420.22" y2="585.35" stroke="#d2d2d2" stroke-width="0.55" stroke-dasharray="3 1"/>
<line x1="441.95" y1="711.43" x2="437.56" y2="578.62" stroke="#d2d2d2" stroke-width="0.55" stroke-dasharray="3 1"/>
<line x1="456.89" y1="702.00" x2="453.89" y2="572.28" stroke="#d2d2d2" stroke-width="0.55" stroke-dasharray="3 1"/>
<line x1="370.70" y1="727.84" x2="463.62" y2="673.42" stroke="#d2d2d2" stroke-width="0.55" stroke-dasharray="3 1"/>
<line x1="368.43" y1="699.64" x2="463.16" y2="648.62" stroke="#d2d2d2" stroke-width="0.55" stroke-dasharray="3 1"/>
<line x1="366.07" y1="670.36" x2="462.69" y2="623.01" stroke="#d2d2d2" stroke-width="0.55" stroke-dasharray="3 1"/>
<line x1="363.62" y1="639.94" x2="462.20" y2="596.57" stroke="#d2d2d2" stroke-width="0.55" stroke-dasharray="3 1"/>
<line x1="572.14" y1="730.66" x2="579.50" y2="591.45" stroke="#d2d2d2" stroke-width="0.55" stroke-dasharray="3 1"/>
<line x1="552.65" y1="724.67" x2="558.11" y2="587.42" stroke="#d2d2d2" stroke-width="0.55" stroke-dasharray="3 1"/>
<line x1="533.79" y1="718.88" x2="537.47" y2="583.53" stroke="#d2d2d2" stroke-width="0.55" stroke-dasharray="3 1"/>
<line x1="515.52" y1="713.27" x2="517.54" y2="579.77" stroke="#d2d2d2" stroke-width="0.55" stroke-dasharray="3 1"/>
<line x1="497.83" y1="707.84" x2="498.29" y2="576.14" stroke="#d2d2d2" stroke-width="0.55" stroke-dasharray="3 1"/>
<line x1="480.68" y1="702.57" x2="479.69" y2="572.63" stroke="#d2d2d2" stroke-width="0.55" stroke-dasharray="3 1"/>
<line x1="584.89" y1="707.97" x2="463.62" y2="673.42" stroke="#d2d2d2" stroke-width="0.55" stroke-dasharray="3 1"/>
<line x1="586.53" y1="680.94" x2="463.16" y2="648.62" stroke="#d2d2d2" stroke-width="0.55" stroke-dasharray="3 1"/>
<line x1="588.22" y1="652.93" x2="462.69" y2="623.01" stroke="#d2d2d2" stroke-width="0.55" stroke-dasharray="3 1"/>
<line x1="589.97" y1="623.89" x2="462.20" y2="596.57" stroke="#d2d2d2" stroke-width="0.55" stroke-dasharray="3 1"/>
<line x1="490.84" y1="801.48" x2="572.14" y2="730.66" stroke="#d2d2d2" stroke-width="0.55" stroke-dasharray="3 1"/>
<line x1="469.26" y1="792.99" x2="552.65" y2="724.67" stroke="#d2d2d2" stroke-width="0.55" stroke-dasharray="3 1"/>
<line x1="448.51" y1="784.81" x2="533.79" y2="718.88" stroke="#d2d2d2" stroke-width="0.55" stroke-dasharray="3 1"/>
<line x1="428.54" y1="776.95" x2="515.52" y2="713.27" stroke="#d2d2d2" stroke-width="0.55" stroke-dasharray="3 1"/>
<line x1="409.31" y1="769.38" x2="497.83" y2="707.84" stroke="#d2d2d2" stroke-width="0.55" stroke-dasharray="3 1"/>
<line x1="390.77" y1="762.08" x2="480.68" y2="702.57" stroke="#d2d2d2" stroke-width="0.55" stroke-dasharray="3 1"/>
<line x1="520.06" y1="791.22" x2="391.72" y2="743.14" stroke="#d2d2d2" stroke-width="0.55" stroke-dasharray="3 1"/>
<line x1="535.74" y1="777.06" x2="409.45" y2="731.95" stroke="#d2d2d2" stroke-width="0.55" stroke-dasharray="3 1"/>
<line x1="550.42" y1="763.80" x2="426.17" y2="721.40" stroke="#d2d2d2" stroke-width="0.55" stroke-dasharray="3 1"/>
<line x1="564.19" y1="751.36" x2="441.95" y2="711.43" stroke="#d2d2d2" stroke-width="0.55" stroke-dasharray="3 1"/>
<line x1="577.13" y1="739.68" x2="456.89" y2="702.00" stroke="#d2d2d2" stroke-width="0.55" stroke-dasharray="3 1"/>
<line x1="372.89" y1="755.04" x2="464.06" y2="697.47" stroke="#bbb" stroke-width="0.6"/>
<line x1="464.06" y1="697.47" x2="583.32" y2="734.09" stroke="#bbb" stroke-width="0.6"/>
<line x1="361.07" y1="608.32" x2="461.70" y2="569.24" stroke="#555" stroke-width="0.7"/>
<line x1="372.89" y1="755.04" x2="361.07" y2="608.32" stroke="#444" stroke-width="0.8" stroke-dasharray="2 1"/>
<line x1="464.06" y1="697.47" x2="461.70" y2="569.24" stroke="#333" stroke-width="0.9"/>
<line x1="461.70" y1="569.24" x2="591.79" y2="593.77" stroke="#555" stroke-width="0.8" stroke-dasharray="2 1"/>
</g>
<defs><filter id="sblur0" x="-5%" y="-5%" width="110%" height="110%"><feGaussianBlur stdDeviation="0.35"/></filter></defs>
<defs><filter id="sblur" x="-5%" y="-5%" width="110%" height="110%"><feGaussianBlur stdDeviation="1.0"/></filter>
<clipPath id="ssil"><path d="M421.9 710.6L401.8 733.4L392.8 744.4L406.4 749.5L415.1 753.8L420.5 756.0L435.9 760.8L443.5 762.3L455.2 765.5L460.7 767.5L461.0 768.1L470.8 772.2L476.5 773.7L478.9 769.8L488.7 773.6L493.0 777.8L500.7 780.8L509.3 765.6L513.4 759.5L521.6 748.8L525.6 743.1L529.5 736.8L533.5 730.0L541.2 715.2L548.9 700.0L552.7 691.6L556.5 681.4L560.5 668.3L564.6 651.2L569.0 628.8L573.7 599.2L565.6 607.3L560.0 633.5L549.6 636.7L548.1 635.4L542.5 635.5L532.7 641.6L532.4 640.3L526.8 647.2L520.8 650.5L515.4 650.8L512.9 651.4L508.0 654.4L503.5 654.4L499.6 657.6L493.1 659.2L487.8 656.9L479.6 656.4L466.3 650.3L458.8 660.7L451.3 671.9L439.7 690.3L435.7 695.7L431.6 700.4L421.9 710.6Z" clip-rule="evenodd"/></clipPath>
<g id="surf" shape-rendering="crispEdges">
<path d="M467.7 653.3L465.1 652.0L466.3 650.4L469.0 651.6Z" fill="#8bce00"/>
<path d="M466.5 655.0L463.9 653.7L465.1 652.0L467.7 653.3Z" fill="#83d000"/>
<path d="M470.4 654.5L467.7 653.3L469.0 651.6L471.6 652.8Z" fill="#84ca00"/>
<path d="M465.3 656.7L462.6 655.4L463.9 653.7L466.5 655.0Z" fill="#7ad200"/>
<path d="M469.1 656.3L466.5 655.0L467.7 653.3L470.4 654.5Z" fill="#7bcd00"/>
<path d="M473.0 655.8L470.4 654.5L471.6 652.8L474.2 654.0Z" fill="#7dc700"/>
<path d="M464.0 658.5L461.4 657.1L462.6 655.4L465.3 656.7Z" fill="#70d300"/>
<path d="M467.9 658.1L465.3 656.7L466.5 655.0L469.1 656.3Z" fill="#72cf00"/>
<path d="M471.8 657.6L469.1 656.3L470.4 654.5L473.0 655.8Z" fill="#74ca00"/>
<path d="M475.7 657.0L473.0 655.8L474.2 654.0L476.9 655.2Z" fill="#76c400"/>
<path d="M462.8 660.3L460.1 658.9L461.4 657.1L464.0 658.5Z" fill="#63d301"/>
<path d="M466.7 659.9L464.0 658.5L465.3 656.7L467.9 658.1Z" fill="#67d001"/>
<path d="M470.5 659.4L467.9 658.1L469.1 656.3L471.8 657.6Z" fill="#6acc00"/>
<path d="M474.4 658.9L471.8 657.6L473.0 655.8L475.7 657.0Z" fill="#6cc700"/>
<path d="M478.3 658.3L475.7 657.0L476.9 655.2L479.5 656.4Z" fill="#6fc100"/>
<path d="M461.5 662.1L458.9 660.7L460.1 658.9L462.8 660.3Z" fill="#56d401"/>
<path d="M465.4 661.7L462.8 660.3L464.0 658.5L466.7 659.9Z" fill="#59d102"/>
<path d="M469.3 661.2L466.7 659.9L467.9 658.1L470.5 659.4Z" fill="#5ecd01"/>
<path d="M473.2 660.8L470.5 659.4L471.8 657.6L474.4 658.9Z" fill="#62c900"/>
<path d="M477.1 660.2L474.4 658.9L475.7 657.0L478.3 658.3Z" fill="#64c400"/>
<path d="M460.3 664.0L457.6 662.6L458.9 660.7L461.5 662.1Z" fill="#47d404"/>
<path d="M464.2 663.5L461.5 662.1L462.8 660.3L465.4 661.7Z" fill="#4bd103"/>
<path d="M481.1 658.6L478.3 658.3L479.5 656.4L482.3 656.6Z" fill="#6ebf00"/>
<path d="M468.1 663.1L465.4 661.7L466.7 659.9L469.3 661.2Z" fill="#4fce03"/>
<path d="M472.0 662.6L469.3 661.2L470.5 659.4L473.2 660.8Z" fill="#55cb01"/>
<path d="M475.9 662.1L473.2 660.8L474.4 658.9L477.1 660.2Z" fill="#59c600"/>
<path d="M459.0 665.8L456.4 664.4L457.6 662.6L460.3 664.0Z" fill="#35d409"/>
<path d="M462.9 665.4L460.3 664.0L461.5 662.1L464.2 663.5Z" fill="#3cd207"/>
<path d="M479.9 660.7L477.1 660.2L478.3 658.3L481.1 658.6Z" fill="#61c000"/>
<path d="M466.8 664.9L464.2 663.5L465.4 661.7L468.1 663.1Z" fill="#40cf04"/>
<path d="M470.7 664.5L468.1 663.1L469.3 661.2L472.0 662.6Z" fill="#45cc04"/>
<path d="M474.6 664.0L472.0 662.6L473.2 660.8L475.9 662.1Z" fill="#4cc802"/>
<path d="M457.8 667.7L455.1 666.3L456.4 664.4L459.0 665.8Z" fill="#24d40e"/>
<path d="M483.8 659.0L481.1 658.6L482.3 656.6L485.0 656.8Z" fill="#72be00"/>
<path d="M461.7 667.2L459.0 665.8L460.3 664.0L462.9 665.4Z" fill="#2dd10f"/>
<path d="M478.6 662.7L475.9 662.1L477.1 660.2L479.9 660.7Z" fill="#55c100"/>
<path d="M465.6 666.8L462.9 665.4L464.2 663.5L466.8 664.9Z" fill="#32cf0b"/>
<path d="M469.5 666.4L466.8 664.9L468.1 663.1L470.7 664.5Z" fill="#35cd06"/>
<path d="M473.4 665.9L470.7 664.5L472.0 662.6L474.6 664.0Z" fill="#3bc905"/>
<path d="M482.6 661.1L479.9 660.7L481.1 658.6L483.8 659.0Z" fill="#63bc00"/>
<path d="M456.5 669.6L453.9 668.2L455.1 666.3L457.8 667.7Z" fill="#18d31b"/>
<path d="M460.4 669.1L457.8 667.7L459.0 665.8L461.7 667.2Z" fill="#1ed117"/>
<path d="M477.4 664.7L474.6 664.0L475.9 662.1L478.6 662.7Z" fill="#46c102"/>
<path d="M464.3 668.6L461.7 667.2L462.9 665.4L465.6 666.8Z" fill="#25cf15"/>
<path d="M468.3 668.2L465.6 666.8L466.8 664.9L469.5 666.4Z" fill="#28cd0e"/>
<path d="M486.6 659.3L483.8 659.0L485.0 656.8L487.8 656.9Z" fill="#76bd00"/>
<path d="M472.2 667.8L469.5 666.4L470.7 664.5L473.4 665.9Z" fill="#2bca08"/>
<path d="M481.4 663.4L478.6 662.7L479.9 660.7L482.6 661.1Z" fill="#53b900"/>
<path d="M455.2 671.4L452.6 670.1L453.9 668.2L456.5 669.6Z" fill="#10d32f"/>
<path d="M476.2 666.7L473.4 665.9L474.6 664.0L477.4 664.7Z" fill="#35c105"/>
<path d="M459.1 671.0L456.5 669.6L457.8 667.7L460.4 669.1Z" fill="#13d126"/>
<path d="M463.1 670.5L460.4 669.1L461.7 667.2L464.3 668.6Z" fill="#18cf20"/>
<path d="M485.4 661.6L482.6 661.1L483.8 659.0L486.6 659.3Z" fill="#64b700"/>
<path d="M467.0 670.1L464.3 668.6L465.6 666.8L468.3 668.2Z" fill="#1dcd1c"/>
<path d="M480.2 665.4L477.4 664.7L478.6 662.7L481.4 663.4Z" fill="#43b702"/>
<path d="M470.9 669.6L468.3 668.2L469.5 666.4L472.2 667.8Z" fill="#1ecb12"/>
<path d="M454.0 673.3L451.3 672.0L452.6 670.1L455.2 671.4Z" fill="#08d343"/>
<path d="M474.9 668.7L472.2 667.8L473.4 665.9L476.2 666.7Z" fill="#24c209"/>
<path d="M457.9 672.8L455.2 671.4L456.5 669.6L459.1 671.0Z" fill="#0dd13b"/>
<path d="M489.2 660.1L486.6 659.3L487.8 656.9L490.4 658.1Z" fill="#6cab00"/>
<path d="M461.8 672.4L459.1 671.0L460.4 669.1L463.1 670.5Z" fill="#0fcf31"/>
<path d="M484.2 664.0L481.4 663.4L482.6 661.1L485.4 661.6Z" fill="#52b200"/>
<path d="M465.7 671.9L463.1 670.5L464.3 668.6L467.0 670.1Z" fill="#12cd29"/>
<path d="M478.9 667.5L476.2 666.7L477.4 664.7L480.2 665.4Z" fill="#31b505"/>
<path d="M469.7 671.5L467.0 670.1L468.3 668.2L470.9 669.6Z" fill="#15cb22"/>
<path d="M452.7 675.3L450.0 674.0L451.3 672.0L454.0 673.3Z" fill="#03d25d"/>
<path d="M488.0 662.0L485.4 661.6L486.6 659.3L489.2 660.1Z" fill="#5ca500"/>
<path d="M473.7 670.6L470.9 669.6L472.2 667.8L474.9 668.7Z" fill="#17c113"/>
<path d="M456.6 674.7L454.0 673.3L455.2 671.4L457.9 672.8Z" fill="#06d051"/>
<path d="M482.9 666.1L480.2 665.4L481.4 663.4L484.2 664.0Z" fill="#40ac02"/>
<path d="M460.5 674.2L457.9 672.8L459.1 671.0L461.8 672.4Z" fill="#0ace48"/>
<path d="M491.9 660.8L489.2 660.1L490.4 658.1L493.1 659.2Z" fill="#558800"/>
<path d="M464.5 673.8L461.8 672.4L463.1 670.5L465.7 671.9Z" fill="#0bcd3c"/>
<path d="M477.7 669.6L474.9 668.7L476.2 666.7L478.9 667.5Z" fill="#20b208"/>
<path d="M468.4 673.4L465.7 671.9L467.0 670.1L469.7 671.5Z" fill="#0ccb32"/>
<path d="M451.4 677.3L448.8 676.0L450.0 674.0L452.7 675.3Z" fill="#02d17c"/>
<path d="M486.8 664.0L484.2 664.0L485.4 661.6L488.0 662.0Z" fill="#4c9e00"/>
<path d="M472.4 672.5L469.7 671.5L470.9 669.6L473.7 670.6Z" fill="#10c024"/>
<path d="M455.3 676.6L452.7 675.3L454.0 673.3L456.6 674.7Z" fill="#03d06a"/>
<path d="M481.7 668.3L478.9 667.5L480.2 665.4L482.9 666.1Z" fill="#2ea805"/>
<path d="M459.3 676.1L456.6 674.7L457.9 672.8L460.5 674.2Z" fill="#05ce5f"/>
<path d="M490.7 662.5L488.0 662.0L489.2 660.1L491.9 660.8Z" fill="#4a8400"/>
<path d="M476.5 671.5L473.7 670.6L474.9 668.7L477.7 669.6Z" fill="#14b012"/>
<path d="M463.2 675.6L460.5 674.2L461.8 672.4L464.5 673.8Z" fill="#07cc55"/>
<path d="M467.2 675.2L464.5 673.8L465.7 671.9L468.4 673.4Z" fill="#06ca47"/>
<path d="M450.1 679.2L447.5 678.0L448.8 676.0L451.4 677.3Z" fill="#01d09c"/>
<path d="M485.6 666.0L482.9 666.1L484.2 664.0L486.8 664.0Z" fill="#3c9901"/>
<path d="M480.5 670.5L477.7 669.6L478.9 667.5L481.7 668.3Z" fill="#1ca308"/>
<path d="M471.2 674.4L468.4 673.4L469.7 671.5L472.4 672.5Z" fill="#08c035"/>
<path d="M454.1 678.6L451.4 677.3L452.7 675.3L455.3 676.6Z" fill="#02cf86"/>
<path d="M495.1 660.3L491.9 660.8L493.1 659.2L496.3 658.4Z" fill="#416700"/>
<path d="M458.0 678.0L455.3 676.6L456.6 674.7L459.3 676.1Z" fill="#02cd77"/>
<path d="M475.2 673.5L472.4 672.5L473.7 670.6L476.5 671.5Z" fill="#0dae22"/>
<path d="M489.4 664.1L486.8 664.0L488.0 662.0L490.7 662.5Z" fill="#407f00"/>
<path d="M462.0 677.4L459.3 676.1L460.5 674.2L463.2 675.6Z" fill="#03cb6e"/>
<path d="M448.8 681.3L446.2 680.1L447.5 678.0L450.1 679.2Z" fill="#00cdb2"/>
<path d="M484.3 667.9L481.7 668.3L482.9 666.1L485.6 666.0Z" fill="#2d9404"/>
<path d="M465.9 677.0L463.2 675.6L464.5 673.8L467.2 675.2Z" fill="#04c962"/>
<path d="M479.2 672.5L476.5 671.5L477.7 669.6L480.5 670.5Z" fill="#109f11"/>
<path d="M452.8 680.5L450.1 679.2L451.4 677.3L454.1 678.6Z" fill="#01cea2"/>
<path d="M469.9 676.2L467.2 675.2L468.4 673.4L471.2 674.4Z" fill="#03be4a"/>
<path d="M493.9 662.2L490.7 662.5L491.9 660.8L495.1 660.3Z" fill="#3b6400"/>
<path d="M456.7 679.8L454.1 678.6L455.3 676.6L458.0 678.0Z" fill="#01cc90"/>
<path d="M474.0 675.5L471.2 674.4L472.4 672.5L475.2 673.5Z" fill="#06ab33"/>
<path d="M488.2 665.8L485.6 666.0L486.8 664.0L489.4 664.1Z" fill="#367b00"/>
<path d="M460.7 679.3L458.0 678.0L459.3 676.1L462.0 677.4Z" fill="#01ca84"/>
<path d="M447.5 683.3L444.9 682.2L446.2 680.1L448.8 681.3Z" fill="#00c6be"/>
<path d="M483.1 669.8L480.5 670.5L481.7 668.3L484.3 667.9Z" fill="#1d8f06"/>
<path d="M464.6 678.8L462.0 677.4L463.2 675.6L465.9 677.0Z" fill="#02c87c"/>
<path d="M478.0 674.5L475.2 673.5L476.5 671.5L479.2 672.5Z" fill="#0a9b21"/>
<path d="M451.5 682.5L448.8 681.3L450.1 679.2L452.8 680.5Z" fill="#00c9b5"/>
<path d="M468.7 678.1L465.9 677.0L467.2 675.2L469.9 676.2Z" fill="#02bd64"/>
<path d="M455.4 681.7L452.8 680.5L454.1 678.6L456.7 679.8Z" fill="#00cba8"/>
<path d="M492.7 664.0L489.4 664.1L490.7 662.5L493.9 662.2Z" fill="#346200"/>
<path d="M472.7 677.3L469.9 676.2L471.2 674.4L474.0 675.5Z" fill="#02a946"/>
<path d="M487.0 667.5L484.3 667.9L485.6 666.0L488.2 665.8Z" fill="#2c7801"/>
<path d="M498.4 659.7L495.1 660.3L496.3 658.4L499.6 657.6Z" fill="#304600"/>
<path d="M446.3 685.4L443.6 684.3L444.9 682.2L447.5 683.3Z" fill="#00bfca"/>
<path d="M459.4 681.1L456.7 679.8L458.0 678.0L460.7 679.3Z" fill="#01c999"/>
<path d="M481.9 671.7L479.2 672.5L480.5 670.5L483.1 669.8Z" fill="#128b0d"/>
<path d="M463.4 680.6L460.7 679.3L462.0 677.4L464.6 678.8Z" fill="#00c792"/>
<path d="M476.8 676.5L474.0 675.5L475.2 673.5L478.0 674.5Z" fill="#059730"/>
<path d="M450.2 684.4L447.5 683.3L448.8 681.3L451.5 682.5Z" fill="#00c1be"/>
<path d="M467.4 679.9L464.6 678.8L465.9 677.0L468.7 678.1Z" fill="#01bb7d"/>
<path d="M454.2 683.7L451.5 682.5L452.8 680.5L455.4 681.7Z" fill="#00c5b7"/>
<path d="M491.5 665.9L488.2 665.8L489.4 664.1L492.7 664.0Z" fill="#2f6000"/>
<path d="M471.5 679.2L468.7 678.1L469.9 676.2L472.7 677.3Z" fill="#01a65c"/>
<path d="M497.2 661.9L493.9 662.2L495.1 660.3L498.4 659.7Z" fill="#2d4700"/>
<path d="M445.0 687.3L442.3 686.3L443.6 684.3L446.3 685.4Z" fill="#00b1cd"/>
<path d="M485.7 669.2L483.1 669.8L484.3 667.9L487.0 667.5Z" fill="#237602"/>
<path d="M458.1 683.0L455.4 681.7L456.7 679.8L459.4 681.1Z" fill="#00c8ae"/>
<path d="M480.6 673.6L478.0 674.5L479.2 672.5L481.9 671.7Z" fill="#0c8719"/>
<path d="M462.1 682.4L459.4 681.1L460.7 679.3L463.4 680.6Z" fill="#00c6a3"/>
<path d="M475.5 678.4L472.7 677.3L474.0 675.5L476.8 676.5Z" fill="#019341"/>
<path d="M448.9 686.4L446.3 685.4L447.5 683.3L450.2 684.4Z" fill="#00b8c7"/>
<path d="M466.1 681.7L463.4 680.6L464.6 678.8L467.4 679.9Z" fill="#00ba91"/>
<path d="M452.9 685.6L450.2 684.4L451.5 682.5L454.2 683.7Z" fill="#00bbbd"/>
<path d="M490.2 667.8L487.0 667.5L488.2 665.8L491.5 665.9Z" fill="#296000"/>
<path d="M495.9 664.0L492.7 664.0L493.9 662.2L497.2 661.9Z" fill="#2a4700"/>
<path d="M470.2 681.1L467.4 679.9L468.7 678.1L471.5 679.2Z" fill="#00a472"/>
<path d="M443.6 689.3L441.0 688.3L442.3 686.3L445.0 687.3Z" fill="#009bc6"/>
<path d="M479.4 675.5L476.8 676.5L478.0 674.5L480.6 673.6Z" fill="#068425"/>
<path d="M484.5 670.9L481.9 671.7L483.1 669.8L485.7 669.2Z" fill="#1a7406"/>
<path d="M456.8 684.8L454.2 683.7L455.4 681.7L458.1 683.0Z" fill="#00c1ba"/>
<path d="M474.3 680.3L471.5 679.2L472.7 677.3L475.5 678.4Z" fill="#019054"/>
<path d="M460.8 684.3L458.1 683.0L459.4 681.1L462.1 682.4Z" fill="#00c5b3"/>
<path d="M447.6 688.3L445.0 687.3L446.3 685.4L448.9 686.4Z" fill="#00aac8"/>
<path d="M464.9 683.5L462.1 682.4L463.4 680.6L466.1 681.7Z" fill="#00b99e"/>
<path d="M451.6 687.5L448.9 686.4L450.2 684.4L452.9 685.6Z" fill="#00b1c4"/>
<path d="M494.7 666.1L491.5 665.9L492.7 664.0L495.9 664.0Z" fill="#264800"/>
<path d="M489.0 669.7L485.7 669.2L487.0 667.5L490.2 667.8Z" fill="#235f00"/>
<path d="M442.3 691.2L439.7 690.3L441.0 688.3L443.6 689.3Z" fill="#0085bf"/>
<path d="M468.9 682.8L466.1 681.7L467.4 679.9L470.2 681.1Z" fill="#00a282"/>
<path d="M502.3 656.3L498.4 659.7L499.6 657.6L503.5 654.5Z" fill="#2b3500"/>
<path d="M478.1 677.4L475.5 678.4L476.8 676.5L479.4 675.5Z" fill="#038132"/>
<path d="M455.6 686.7L452.9 685.6L454.2 683.7L456.8 684.8Z" fill="#00b6bd"/>
<path d="M483.3 672.7L480.6 673.6L481.9 671.7L484.5 670.9Z" fill="#13730b"/>
<path d="M473.0 682.2L470.2 681.1L471.5 679.2L474.3 680.3Z" fill="#008d66"/>
<path d="M459.5 686.1L456.8 684.8L458.1 683.0L460.8 684.3Z" fill="#00bebc"/>
<path d="M446.3 690.2L443.6 689.3L445.0 687.3L447.6 688.3Z" fill="#0095c2"/>
<path d="M463.6 685.3L460.8 684.3L462.1 682.4L464.9 683.5Z" fill="#00b7ac"/>
<path d="M450.3 689.3L447.6 688.3L448.9 686.4L451.6 687.5Z" fill="#00a3c4"/>
<path d="M493.5 668.2L490.2 667.8L491.5 665.9L494.7 666.1Z" fill="#214900"/>
<path d="M501.0 658.2L497.2 661.9L498.4 659.7L502.3 656.3Z" fill="#293600"/>
<path d="M487.8 671.6L484.5 670.9L485.7 669.2L489.0 669.7Z" fill="#1c5f02"/>
<path d="M441.0 693.0L438.4 692.1L439.7 690.3L442.3 691.2Z" fill="#0071b9"/>
<path d="M467.7 684.6L464.9 683.5L466.1 681.7L468.9 682.8Z" fill="#00a08d"/>
<path d="M476.9 679.2L474.3 680.3L475.5 678.4L478.1 677.4Z" fill="#027e41"/>
<path d="M454.3 688.6L451.6 687.5L452.9 685.6L455.6 686.7Z" fill="#00aac0"/>
<path d="M482.0 674.5L479.4 675.5L480.6 673.6L483.3 672.7Z" fill="#0b7210"/>
<path d="M445.0 692.1L442.3 691.2L443.6 689.3L446.3 690.2Z" fill="#0080bb"/>
<path d="M471.7 683.9L468.9 682.8L470.2 681.1L473.0 682.2Z" fill="#008a73"/>
<path d="M458.2 687.8L455.6 686.7L456.8 684.8L459.5 686.1Z" fill="#00b0bd"/>
<path d="M462.3 687.0L459.5 686.1L460.8 684.3L463.6 685.3Z" fill="#00b0b2"/>
<path d="M449.0 691.2L446.3 690.2L447.6 688.3L450.3 689.3Z" fill="#008fbd"/>
<path d="M492.3 670.2L489.0 669.7L490.2 667.8L493.5 668.2Z" fill="#1d4a00"/>
<path d="M499.8 660.0L495.9 664.0L497.2 661.9L501.0 658.2Z" fill="#273700"/>
<path d="M486.5 673.5L483.3 672.7L484.5 670.9L487.8 671.6Z" fill="#146003"/>
<path d="M439.7 694.8L437.0 693.9L438.4 692.1L441.0 693.0Z" fill="#0160b1"/>
<path d="M475.6 681.0L473.0 682.2L474.3 680.3L476.9 679.2Z" fill="#017c50"/>
<path d="M466.4 686.3L463.6 685.3L464.9 683.5L467.7 684.6Z" fill="#009f97"/>
<path d="M453.0 690.4L450.3 689.3L451.6 687.5L454.3 688.6Z" fill="#009cbf"/>
<path d="M480.8 676.3L478.1 677.4L479.4 675.5L482.0 674.5Z" fill="#067119"/>
<path d="M443.7 693.9L441.0 693.0L442.3 691.2L445.0 692.1Z" fill="#006eb5"/>
<path d="M470.5 685.7L467.7 684.6L468.9 682.8L471.7 683.9Z" fill="#00887b"/>
<path d="M456.9 689.6L454.3 688.6L455.6 686.7L458.2 687.8Z" fill="#00a3bd"/>
<path d="M504.5 656.5L502.3 656.3L503.5 654.5L505.7 654.4Z" fill="#363d00"/>
<path d="M447.7 693.0L445.0 692.1L446.3 690.2L449.0 691.2Z" fill="#007cb7"/>
<path d="M461.0 688.8L458.2 687.8L459.5 686.1L462.3 687.0Z" fill="#00a3b2"/>
<path d="M491.0 672.2L487.8 671.6L489.0 669.7L492.3 670.2Z" fill="#184c01"/>
<path d="M498.6 662.0L494.7 666.1L495.9 664.0L499.8 660.0Z" fill="#263900"/>
<path d="M485.3 675.4L482.0 674.5L483.3 672.7L486.5 673.5Z" fill="#0d6005"/>
<path d="M438.4 696.5L435.7 695.7L437.0 693.9L439.7 694.8Z" fill="#0250aa"/>
<path d="M474.3 682.8L471.7 683.9L473.0 682.2L475.6 681.0Z" fill="#007a5d"/>
<path d="M465.1 688.0L462.3 687.0L463.6 685.3L466.4 686.3Z" fill="#00999c"/>
<path d="M451.6 692.1L449.0 691.2L450.3 689.3L453.0 690.4Z" fill="#0089b9"/>
<path d="M479.5 678.1L476.9 679.2L478.1 677.4L480.8 676.3Z" fill="#047125"/>
<path d="M503.3 658.5L501.0 658.2L502.3 656.3L504.5 656.5Z" fill="#363f00"/>
<path d="M442.3 695.6L439.7 694.8L441.0 693.0L443.7 693.9Z" fill="#015eae"/>
<path d="M455.6 691.4L453.0 690.4L454.3 688.6L456.9 689.6Z" fill="#0094bb"/>
<path d="M469.2 687.4L466.4 686.3L467.7 684.6L470.5 685.7Z" fill="#008683"/>
<path d="M489.8 674.2L486.5 673.5L487.8 671.6L491.0 672.2Z" fill="#114d03"/>
<path d="M497.4 663.9L493.5 668.2L494.7 666.1L498.6 662.0Z" fill="#243c00"/>
<path d="M446.3 694.8L443.7 693.9L445.0 692.1L447.7 693.0Z" fill="#006bb1"/>
<path d="M506.8 656.6L504.5 656.5L505.7 654.4L508.0 654.4Z" fill="#464d00"/>
<path d="M459.7 690.5L456.9 689.6L458.2 687.8L461.0 688.8Z" fill="#0096b1"/>
<path d="M484.0 677.2L480.8 676.3L482.0 674.5L485.3 675.4Z" fill="#08610b"/>
<path d="M473.1 684.6L470.5 685.7L471.7 683.9L474.3 682.8Z" fill="#007966"/>
<path d="M437.0 698.1L434.4 697.3L435.7 695.7L438.4 696.5Z" fill="#0342a4"/>
<path d="M450.3 693.9L447.7 693.0L449.0 691.2L451.6 692.1Z" fill="#0077b3"/>
<path d="M478.3 679.9L475.6 681.0L476.9 679.2L479.5 678.1Z" fill="#027131"/>
<path d="M463.8 689.7L461.0 688.8L462.3 687.0L465.1 688.0Z" fill="#008e9c"/>
<path d="M502.1 660.5L499.8 660.0L501.0 658.2L503.3 658.5Z" fill="#354000"/>
<path d="M441.0 697.4L438.4 696.5L439.7 694.8L442.3 695.6Z" fill="#024ea8"/>
<path d="M454.3 693.1L451.6 692.1L453.0 690.4L455.6 691.4Z" fill="#0084b5"/>
<path d="M467.9 689.0L465.1 688.0L466.4 686.3L469.2 687.4Z" fill="#008186"/>
<path d="M505.5 658.8L503.3 658.5L504.5 656.5L506.8 656.6Z" fill="#475300"/>
<path d="M496.1 665.9L492.3 670.2L493.5 668.2L497.4 663.9Z" fill="#223e00"/>
<path d="M488.5 676.2L485.3 675.4L486.5 673.5L489.8 674.2Z" fill="#0b4f04"/>
<path d="M445.0 696.5L442.3 695.6L443.7 693.9L446.3 694.8Z" fill="#015cab"/>
<path d="M458.4 692.2L455.6 691.4L456.9 689.6L459.7 690.5Z" fill="#0089ae"/>
<path d="M482.8 679.1L479.5 678.1L480.8 676.3L484.0 677.2Z" fill="#056315"/>
<path d="M477.0 681.8L474.3 682.8L475.6 681.0L478.3 679.9Z" fill="#01723e"/>
<path d="M471.8 686.5L469.2 687.4L470.5 685.7L473.1 684.6Z" fill="#00796f"/>
<path d="M449.0 695.6L446.3 694.8L447.7 693.0L450.3 693.9Z" fill="#0067ad"/>
<path d="M462.5 691.4L459.7 690.5L461.0 688.8L463.8 689.7Z" fill="#00849c"/>
<path d="M435.7 699.7L433.0 698.8L434.4 697.3L437.0 698.1Z" fill="#04379f"/>
<path d="M500.8 662.6L498.6 662.0L499.8 660.0L502.1 660.5Z" fill="#344300"/>
<path d="M509.2 655.1L506.8 656.6L508.0 654.4L510.4 652.9Z" fill="#484e00"/>
<path d="M453.0 694.9L450.3 693.9L451.6 692.1L454.3 693.1Z" fill="#0073af"/>
<path d="M439.7 698.9L437.0 698.1L438.4 696.5L441.0 697.4Z" fill="#0341a2"/>
<path d="M504.3 661.0L502.1 660.5L503.3 658.5L505.5 658.8Z" fill="#495800"/>
<path d="M466.6 690.6L463.8 689.7L465.1 688.0L467.9 689.0Z" fill="#007986"/>
<path d="M494.9 667.9L491.0 672.2L492.3 670.2L496.1 665.9Z" fill="#1f4100"/>
<path d="M487.3 678.2L484.0 677.2L485.3 675.4L488.5 676.2Z" fill="#07510a"/>
<path d="M443.7 698.2L441.0 697.4L442.3 695.6L445.0 696.5Z" fill="#024da5"/>
<path d="M457.1 693.9L454.3 693.1L455.6 691.4L458.4 692.2Z" fill="#007baa"/>
<path d="M481.5 681.0L478.3 679.9L479.5 678.1L482.8 679.1Z" fill="#03651f"/>
<path d="M475.7 683.6L473.1 684.6L474.3 682.8L477.0 681.8Z" fill="#01744d"/>
<path d="M470.5 688.2L467.9 689.0L469.2 687.4L471.8 686.5Z" fill="#007675"/>
<path d="M447.7 697.3L445.0 696.5L446.3 694.8L449.0 695.6Z" fill="#0159a8"/>
<path d="M499.6 664.6L497.4 663.9L498.6 662.0L500.8 662.6Z" fill="#334600"/>
<path d="M508.0 657.3L505.5 658.8L506.8 656.6L509.2 655.1Z" fill="#4c5700"/>
<path d="M461.2 693.0L458.4 692.2L459.7 690.5L462.5 691.4Z" fill="#00799b"/>
<path d="M434.3 701.2L431.7 700.4L433.0 698.8L435.7 699.7Z" fill="#052c9a"/>
<path d="M503.1 663.2L500.8 662.6L502.1 660.5L504.3 661.0Z" fill="#485d00"/>
<path d="M493.7 669.9L489.8 674.2L491.0 672.2L494.9 667.9Z" fill="#1b4401"/>
<path d="M451.7 696.5L449.0 695.6L450.3 693.9L453.0 694.9Z" fill="#0064aa"/>
<path d="M486.1 680.1L482.8 679.1L484.0 677.2L487.3 678.2Z" fill="#045313"/>
<path d="M438.3 700.5L435.7 699.7L437.0 698.1L439.7 698.9Z" fill="#04379e"/>
<path d="M465.3 692.3L462.5 691.4L463.8 689.7L466.6 690.6Z" fill="#007187"/>
<path d="M455.8 695.6L453.0 694.9L454.3 693.1L457.1 693.9Z" fill="#006ca6"/>
<path d="M442.3 699.8L439.7 698.9L441.0 697.4L443.7 698.2Z" fill="#0340a0"/>
<path d="M480.3 682.9L477.0 681.8L478.3 679.9L481.5 681.0Z" fill="#01672c"/>
<path d="M506.8 659.5L504.3 661.0L505.5 658.8L508.0 657.3Z" fill="#515f00"/>
<path d="M474.4 685.5L471.8 686.5L473.1 684.6L475.7 683.6Z" fill="#00765d"/>
<path d="M498.4 666.7L496.1 665.9L497.4 663.9L499.6 664.6Z" fill="#324a00"/>
<path d="M469.2 690.0L466.6 690.6L467.9 689.0L470.5 688.2Z" fill="#007279"/>
<path d="M446.4 699.0L443.7 698.2L445.0 696.5L447.7 697.3Z" fill="#024ba3"/>
<path d="M501.9 665.4L499.6 664.6L500.8 662.6L503.1 663.2Z" fill="#466100"/>
<path d="M459.9 694.7L457.1 693.9L458.4 692.2L461.2 693.0Z" fill="#006e99"/>
<path d="M511.7 653.6L509.2 655.1L510.4 652.9L512.9 651.4Z" fill="#3e4000"/>
<path d="M432.9 702.7L430.3 701.9L431.7 700.4L434.3 701.2Z" fill="#062397"/>
<path d="M492.4 671.9L488.5 676.2L489.8 674.2L493.7 669.9Z" fill="#174702"/>
<path d="M484.8 682.1L481.5 681.0L482.8 679.1L486.1 680.1Z" fill="#02551b"/>
<path d="M450.4 698.2L447.7 697.3L449.0 695.6L451.7 696.5Z" fill="#0157a5"/>
<path d="M464.0 693.9L461.2 693.0L462.5 691.4L465.3 692.3Z" fill="#006987"/>
<path d="M437.0 702.1L434.3 701.2L435.7 699.7L438.3 700.5Z" fill="#052c9a"/>
<path d="M479.0 684.7L475.7 683.6L477.0 681.8L480.3 682.9Z" fill="#016a3d"/>
<path d="M505.5 661.8L503.1 663.2L504.3 661.0L506.8 659.5Z" fill="#526500"/>
<path d="M454.5 697.3L451.7 696.5L453.0 694.9L455.8 695.6Z" fill="#005fa2"/>
<path d="M441.0 701.4L438.3 700.5L439.7 698.9L442.3 699.8Z" fill="#04369d"/>
<path d="M497.2 668.8L494.9 667.9L496.1 665.9L498.4 666.7Z" fill="#2f4d00"/>
<path d="M473.2 687.4L470.5 688.2L471.8 686.5L474.4 685.5Z" fill="#007869"/>
<path d="M500.6 667.6L498.4 666.7L499.6 664.6L501.9 665.4Z" fill="#436500"/>
<path d="M510.5 655.8L508.0 657.3L509.2 655.1L511.7 653.6Z" fill="#454a00"/>
<path d="M467.9 691.8L465.3 692.3L466.6 690.6L469.2 690.0Z" fill="#006e7d"/>
<path d="M445.0 700.6L442.3 699.8L443.7 698.2L446.4 699.0Z" fill="#03409f"/>
<path d="M458.6 696.3L455.8 695.6L457.1 693.9L459.9 694.7Z" fill="#006497"/>
<path d="M491.2 674.0L487.3 678.2L488.5 676.2L492.4 671.9Z" fill="#134a05"/>
<path d="M483.5 683.9L480.3 682.9L481.5 681.0L484.8 682.1Z" fill="#015827"/>
<path d="M431.6 704.2L428.9 703.3L430.3 701.9L432.9 702.7Z" fill="#071c95"/>
<path d="M449.1 699.9L446.4 699.0L447.7 697.3L450.4 698.2Z" fill="#024aa0"/>
<path d="M462.7 695.5L459.9 694.7L461.2 693.0L464.0 693.9Z" fill="#006288"/>
<path d="M504.3 664.0L501.9 665.4L503.1 663.2L505.5 661.8Z" fill="#506b00"/>
<path d="M435.6 703.6L432.9 702.7L434.3 701.2L437.0 702.1Z" fill="#062397"/>
<path d="M477.7 686.6L474.4 685.5L475.7 683.6L479.0 684.7Z" fill="#006d4e"/>
<path d="M495.9 670.9L493.7 669.9L494.9 667.9L497.2 668.8Z" fill="#2c5100"/>
<path d="M453.2 698.9L450.4 698.2L451.7 696.5L454.5 697.3Z" fill="#01549f"/>
<path d="M509.2 658.1L506.8 659.5L508.0 657.3L510.5 655.8Z" fill="#4c5500"/>
<path d="M499.4 669.7L497.2 668.8L498.4 666.7L500.6 667.6Z" fill="#3f6800"/>
<path d="M471.9 689.4L469.2 690.0L470.5 688.2L473.2 687.4Z" fill="#007974"/>
<path d="M514.2 653.5L511.7 653.6L512.9 651.4L515.4 650.9Z" fill="#686500"/>
<path d="M439.6 702.9L437.0 702.1L438.3 700.5L441.0 701.4Z" fill="#052c99"/>
<path d="M466.7 693.6L464.0 693.9L465.3 692.3L467.9 691.8Z" fill="#00697f"/>
<path d="M489.9 676.0L486.1 680.1L487.3 678.2L491.2 674.0Z" fill="#0f4e09"/>
<path d="M443.7 702.2L441.0 701.4L442.3 699.8L445.0 700.6Z" fill="#04369c"/>
<path d="M457.3 698.0L454.5 697.3L455.8 695.6L458.6 696.3Z" fill="#005996"/>
<path d="M482.3 685.8L479.0 684.7L480.3 682.9L483.5 683.9Z" fill="#015b36"/>
<path d="M503.1 666.2L500.6 667.6L501.9 665.4L504.3 664.0Z" fill="#4e7000"/>
<path d="M430.2 705.6L427.5 704.8L428.9 703.3L431.6 704.2Z" fill="#081494"/>
<path d="M447.7 701.5L445.0 700.6L446.4 699.0L449.1 699.9Z" fill="#033f9d"/>
<path d="M461.4 697.1L458.6 696.3L459.9 694.7L462.7 695.5Z" fill="#005b89"/>
<path d="M494.7 673.0L492.4 671.9L493.7 669.9L495.9 670.9Z" fill="#285400"/>
<path d="M476.4 688.5L473.2 687.4L474.4 685.5L477.7 686.6Z" fill="#00715d"/>
<path d="M513.0 656.1L510.5 655.8L511.7 653.6L514.2 653.5Z" fill="#727400"/>
<path d="M508.0 660.3L505.5 661.8L506.8 659.5L509.2 658.1Z" fill="#515d00"/>
<path d="M498.2 671.9L495.9 670.9L497.2 668.8L499.4 669.7Z" fill="#396b00"/>
<path d="M434.2 705.0L431.6 704.2L432.9 702.7L435.6 703.6Z" fill="#071c96"/>
<path d="M470.6 691.3L467.9 691.8L469.2 690.0L471.9 689.4Z" fill="#007b7e"/>
<path d="M451.8 700.6L449.1 699.9L450.4 698.2L453.2 698.9Z" fill="#02489b"/>
<path d="M438.3 704.4L435.6 703.6L437.0 702.1L439.6 702.9Z" fill="#062397"/>
<path d="M488.7 678.1L484.8 682.1L486.1 680.1L489.9 676.0Z" fill="#0c510e"/>
<path d="M465.4 695.3L462.7 695.5L464.0 693.9L466.7 693.6Z" fill="#006382"/>
<path d="M481.0 687.7L477.7 686.6L479.0 684.7L482.3 685.8Z" fill="#005d44"/>
<path d="M456.0 699.7L453.2 698.9L454.5 697.3L457.3 698.0Z" fill="#015095"/>
<path d="M442.3 703.8L439.6 702.9L441.0 701.4L443.7 702.2Z" fill="#052c99"/>
<path d="M501.9 668.4L499.4 669.7L500.6 667.6L503.1 666.2Z" fill="#4a7400"/>
<path d="M511.8 658.7L509.2 658.1L510.5 655.8L513.0 656.1Z" fill="#7b8300"/>
<path d="M516.9 653.5L514.2 653.5L515.4 650.9L518.1 650.7Z" fill="#8f8700"/>
<path d="M506.8 662.5L504.3 664.0L505.5 661.8L508.0 660.3Z" fill="#526400"/>
<path d="M493.4 675.1L491.2 674.0L492.4 671.9L494.7 673.0Z" fill="#235801"/>
<path d="M446.4 703.1L443.7 702.2L445.0 700.6L447.7 701.5Z" fill="#04359b"/>
<path d="M496.9 674.1L494.7 673.0L495.9 670.9L498.2 671.9Z" fill="#336e00"/>
<path d="M475.2 690.4L471.9 689.4L473.2 687.4L476.4 688.5Z" fill="#00756a"/>
<path d="M428.8 707.1L426.2 706.2L427.5 704.8L430.2 705.6Z" fill="#0a0f93"/>
<path d="M460.1 698.7L457.3 698.0L458.6 696.3L461.4 697.1Z" fill="#00538a"/>
<path d="M469.3 693.2L466.7 693.6L467.9 691.8L470.6 691.3Z" fill="#007884"/>
<path d="M432.9 706.5L430.2 705.6L431.6 704.2L434.2 705.0Z" fill="#081495"/>
<path d="M450.5 702.2L447.7 701.5L449.1 699.9L451.8 700.6Z" fill="#033e99"/>
<path d="M487.4 680.2L483.5 683.9L484.8 682.1L488.7 678.1Z" fill="#095516"/>
<path d="M515.7 656.2L513.0 656.1L514.2 653.5L516.9 653.5Z" fill="#979700"/>
<path d="M436.9 705.9L434.2 705.0L435.6 703.6L438.3 704.4Z" fill="#081c96"/>
<path d="M500.6 670.6L498.2 671.9L499.4 669.7L501.9 668.4Z" fill="#437700"/>
<path d="M464.0 697.1L461.4 697.1L462.7 695.5L465.4 695.3Z" fill="#005c84"/>
<path d="M510.5 661.2L508.0 660.3L509.2 658.1L511.8 658.7Z" fill="#7f8e00"/>
<path d="M479.7 689.5L476.4 688.5L477.7 686.6L481.0 687.7Z" fill="#006151"/>
<path d="M505.6 664.8L503.1 666.2L504.3 664.0L506.8 662.5Z" fill="#536a00"/>
<path d="M454.6 701.3L451.8 700.6L453.2 698.9L456.0 699.7Z" fill="#024794"/>
<path d="M441.0 705.3L438.3 704.4L439.6 702.9L442.3 703.8Z" fill="#062397"/>
<path d="M492.2 677.2L489.9 676.0L491.2 674.0L493.4 675.1Z" fill="#1d5c02"/>
<path d="M495.7 676.2L493.4 675.1L494.7 673.0L496.9 674.1Z" fill="#2b7101"/>
<path d="M473.9 692.2L470.6 691.3L471.9 689.4L475.2 690.4Z" fill="#007976"/>
<path d="M445.0 704.6L442.3 703.8L443.7 702.2L446.4 703.1Z" fill="#052c98"/>
<path d="M458.8 700.4L456.0 699.7L457.3 698.0L460.1 698.7Z" fill="#014c8c"/>
<path d="M427.4 708.6L424.8 707.7L426.2 706.2L428.8 707.1Z" fill="#0d0d94"/>
<path d="M514.4 659.0L511.8 658.7L513.0 656.1L515.7 656.2Z" fill="#9fa800"/>
<path d="M468.0 695.2L465.4 695.3L466.7 693.6L469.3 693.2Z" fill="#007086"/>
<path d="M486.1 682.3L482.3 685.8L483.5 683.9L487.4 680.2Z" fill="#065a21"/>
<path d="M519.6 653.4L516.9 653.5L518.1 650.7L520.8 650.5Z" fill="#7f7400"/>
<path d="M509.3 663.7L506.8 662.5L508.0 660.3L510.5 661.2Z" fill="#7e9500"/>
<path d="M431.5 708.0L428.8 707.1L430.2 705.6L432.9 706.5Z" fill="#0b0f95"/>
<path d="M499.4 672.8L496.9 674.1L498.2 671.9L500.6 670.6Z" fill="#3d7900"/>
<path d="M449.2 703.8L446.4 703.1L447.7 701.5L450.5 702.2Z" fill="#043598"/>
<path d="M504.3 667.0L501.9 668.4L503.1 666.2L505.6 664.8Z" fill="#516f00"/>
<path d="M462.7 698.8L460.1 698.7L461.4 697.1L464.0 697.1Z" fill="#005686"/>
<path d="M478.4 691.3L475.2 690.4L476.4 688.5L479.7 689.5Z" fill="#00655c"/>
<path d="M435.5 707.4L432.9 706.5L434.2 705.0L436.9 705.9Z" fill="#091496"/>
<path d="M490.9 679.3L488.7 678.1L489.9 676.0L492.2 677.2Z" fill="#166003"/>
<path d="M494.4 678.3L492.2 677.2L493.4 675.1L495.7 676.2Z" fill="#217403"/>
<path d="M453.3 703.0L450.5 702.2L451.8 700.6L454.6 701.3Z" fill="#033e94"/>
<path d="M513.2 661.6L510.5 661.2L511.8 658.7L514.4 659.0Z" fill="#a1b300"/>
<path d="M439.6 706.8L436.9 705.9L438.3 704.4L441.0 705.3Z" fill="#081c97"/>
<path d="M472.6 694.1L469.3 693.2L470.6 691.3L473.9 692.2Z" fill="#00787e"/>
<path d="M518.3 656.3L515.7 656.2L516.9 653.5L519.6 653.4Z" fill="#827f00"/>
<path d="M443.7 706.2L441.0 705.3L442.3 703.8L445.0 704.6Z" fill="#072397"/>
<path d="M508.1 666.2L505.6 664.8L506.8 662.5L509.3 663.7Z" fill="#7d9c00"/>
<path d="M484.9 684.4L481.0 687.7L482.3 685.8L486.1 682.3Z" fill="#035f2c"/>
<path d="M457.5 702.0L454.6 701.3L456.0 699.7L458.8 700.4Z" fill="#01458d"/>
<path d="M466.7 697.1L464.0 697.1L465.4 695.3L468.0 695.2Z" fill="#006889"/>
<path d="M498.1 675.0L495.7 676.2L496.9 674.1L499.4 672.8Z" fill="#347c01"/>
<path d="M426.0 710.0L423.4 709.1L424.8 707.7L427.4 708.6Z" fill="#100b95"/>
<path d="M503.1 669.3L500.6 670.6L501.9 668.4L504.3 667.0Z" fill="#4c7300"/>
<path d="M447.8 705.5L445.0 704.6L446.4 703.1L449.2 703.8Z" fill="#052c97"/>
<path d="M430.1 709.5L427.4 708.6L428.8 707.1L431.5 708.0Z" fill="#0e0d96"/>
<path d="M477.2 693.2L473.9 692.2L475.2 690.4L478.4 691.3Z" fill="#006966"/>
<path d="M489.7 681.4L487.4 680.2L488.7 678.1L490.9 679.3Z" fill="#106509"/>
<path d="M512.0 664.1L509.3 663.7L510.5 661.2L513.2 661.6Z" fill="#9cb800"/>
<path d="M517.1 659.2L514.4 659.0L515.7 656.2L518.3 656.3Z" fill="#868b00"/>
<path d="M493.2 680.5L490.9 679.3L492.2 677.2L494.4 678.3Z" fill="#177705"/>
<path d="M461.4 700.6L458.8 700.4L460.1 698.7L462.7 698.8Z" fill="#014e88"/>
<path d="M434.2 708.9L431.5 708.0L432.9 706.5L435.5 707.4Z" fill="#0b0f96"/>
<path d="M452.0 704.6L449.2 703.8L450.5 702.2L453.3 703.0Z" fill="#043594"/>
<path d="M471.3 695.9L468.0 695.2L469.3 693.2L472.6 694.1Z" fill="#007181"/>
<path d="M506.8 668.6L504.3 667.0L505.6 664.8L508.1 666.2Z" fill="#78a100"/>
<path d="M438.2 708.3L435.5 707.4L436.9 705.9L439.6 706.8Z" fill="#091497"/>
<path d="M483.6 686.6L479.7 689.5L481.0 687.7L484.9 684.4Z" fill="#016439"/>
<path d="M496.9 677.2L494.4 678.3L495.7 676.2L498.1 675.0Z" fill="#2a7e03"/>
<path d="M465.4 698.9L462.7 698.8L464.0 697.1L466.7 697.1Z" fill="#00608a"/>
<path d="M522.6 651.8L519.6 653.4L520.8 650.5L523.8 648.9Z" fill="#665700"/>
<path d="M501.8 671.5L499.4 672.8L500.6 670.6L503.1 669.3Z" fill="#477700"/>
<path d="M456.1 703.7L453.3 703.0L454.6 701.3L457.5 702.0Z" fill="#023d8f"/>
<path d="M442.3 707.7L439.6 706.8L441.0 705.3L443.7 706.2Z" fill="#081c98"/>
<path d="M515.9 661.9L513.2 661.6L514.4 659.0L517.1 659.2Z" fill="#859300"/>
<path d="M510.7 666.7L508.1 666.2L509.3 663.7L512.0 664.1Z" fill="#98be00"/>
<path d="M424.6 711.6L422.0 710.6L423.4 709.1L426.0 710.0Z" fill="#140a97"/>
<path d="M488.4 683.5L486.1 682.3L487.4 680.2L489.7 681.4Z" fill="#0b6a13"/>
<path d="M491.9 682.6L489.7 681.4L490.9 679.3L493.2 680.5Z" fill="#0f7a0d"/>
<path d="M446.5 707.0L443.7 706.2L445.0 704.6L447.8 705.5Z" fill="#062397"/>
<path d="M475.9 695.0L472.6 694.1L473.9 692.2L477.2 693.2Z" fill="#00696e"/>
<path d="M428.7 711.0L426.0 710.0L427.4 708.6L430.1 709.5Z" fill="#110b97"/>
<path d="M460.1 702.3L457.5 702.0L458.8 700.4L461.4 700.6Z" fill="#01478a"/>
<path d="M505.6 670.9L503.1 669.3L504.3 667.0L506.8 668.6Z" fill="#70a400"/>
<path d="M521.4 654.8L518.3 656.3L519.6 653.4L522.6 651.8Z" fill="#676000"/>
<path d="M432.8 710.4L430.1 709.5L431.5 708.0L434.2 708.9Z" fill="#0e0d98"/>
<path d="M470.0 697.8L466.7 697.1L468.0 695.2L471.3 695.9Z" fill="#006a84"/>
<path d="M450.6 706.3L447.8 705.5L449.2 703.8L452.0 704.6Z" fill="#052c95"/>
<path d="M514.6 664.6L512.0 664.1L513.2 661.6L515.9 661.9Z" fill="#809500"/>
<path d="M495.6 679.3L493.2 680.5L494.4 678.3L496.9 677.2Z" fill="#1f8005"/>
<path d="M482.3 688.8L478.4 691.3L479.7 689.5L483.6 686.6Z" fill="#01694a"/>
<path d="M500.6 673.7L498.1 675.0L499.4 672.8L501.8 671.5Z" fill="#407900"/>
<path d="M509.5 669.2L506.8 668.6L508.1 666.2L510.7 666.7Z" fill="#8fc100"/>
<path d="M436.9 709.8L434.2 708.9L435.5 707.4L438.2 708.3Z" fill="#0b0f98"/>
<path d="M464.1 700.8L461.4 700.6L462.7 698.8L465.4 698.9Z" fill="#00578a"/>
<path d="M454.8 705.4L452.0 704.6L453.3 703.0L456.1 703.7Z" fill="#043491"/>
<path d="M487.1 685.7L484.9 684.4L486.1 682.3L488.4 683.5Z" fill="#06701d"/>
<path d="M441.0 709.2L438.2 708.3L439.6 706.8L442.3 707.7Z" fill="#091498"/>
<path d="M490.7 684.7L488.4 683.5L489.7 681.4L491.9 682.6Z" fill="#0a7d1a"/>
<path d="M520.1 657.7L517.1 659.2L518.3 656.3L521.4 654.8Z" fill="#686900"/>
<path d="M423.2 713.1L420.6 712.2L422.0 710.6L424.6 711.6Z" fill="#190a98"/>
<path d="M474.6 696.7L471.3 695.9L472.6 694.1L475.9 695.0Z" fill="#006471"/>
<path d="M504.4 673.3L501.8 671.5L503.1 669.3L505.6 670.9Z" fill="#67a600"/>
<path d="M445.1 708.6L442.3 707.7L443.7 706.2L446.5 707.0Z" fill="#081b97"/>
<path d="M513.4 667.3L510.7 666.7L512.0 664.1L514.6 664.6Z" fill="#7b9800"/>
<path d="M458.8 704.0L456.1 703.7L457.5 702.0L460.1 702.3Z" fill="#023f8b"/>
<path d="M427.3 712.5L424.6 711.6L426.0 710.0L428.7 711.0Z" fill="#150a98"/>
<path d="M494.4 681.5L491.9 682.6L493.2 680.5L495.6 679.3Z" fill="#16820b"/>
<path d="M468.7 699.6L465.4 698.9L466.7 697.1L470.0 697.8Z" fill="#006185"/>
<path d="M508.3 671.6L505.6 670.9L506.8 668.6L509.5 669.2Z" fill="#82c200"/>
<path d="M499.3 676.0L496.9 677.2L498.1 675.0L500.6 673.7Z" fill="#377b01"/>
<path d="M481.0 691.0L477.2 693.2L478.4 691.3L482.3 688.8Z" fill="#006e5b"/>
<path d="M449.3 707.9L446.5 707.0L447.8 705.5L450.6 706.3Z" fill="#062395"/>
<path d="M431.4 711.9L428.7 711.0L430.1 709.5L432.8 710.4Z" fill="#110b99"/>
<path d="M518.9 660.5L515.9 661.9L517.1 659.2L520.1 657.7Z" fill="#676e00"/>
<path d="M462.8 702.6L460.1 702.3L461.4 700.6L464.1 700.8Z" fill="#004d8a"/>
<path d="M435.5 711.3L432.8 710.4L434.2 708.9L436.9 709.8Z" fill="#0e0d99"/>
<path d="M485.8 687.8L483.6 686.6L484.9 684.4L487.1 685.7Z" fill="#02752e"/>
<path d="M489.4 686.9L487.1 685.7L488.4 683.5L490.7 684.7Z" fill="#057f27"/>
<path d="M453.5 707.1L450.6 706.3L452.0 704.6L454.8 705.4Z" fill="#052c92"/>
<path d="M512.2 669.8L509.5 669.2L510.7 666.7L513.4 667.3Z" fill="#739a00"/>
<path d="M503.1 675.6L500.6 673.7L501.8 671.5L504.4 673.3Z" fill="#5ca800"/>
<path d="M525.7 650.2L522.6 651.8L523.8 648.9L526.9 647.2Z" fill="#473300"/>
<path d="M439.6 710.7L436.9 709.8L438.2 708.3L441.0 709.2Z" fill="#0b0f99"/>
<path d="M473.3 698.5L470.0 697.8L471.3 695.9L474.6 696.7Z" fill="#006075"/>
<path d="M421.8 714.6L419.2 713.7L420.6 712.2L423.2 713.1Z" fill="#1e0a99"/>
<path d="M507.0 674.0L504.4 673.3L505.6 670.9L508.3 671.6Z" fill="#76c400"/>
<path d="M493.1 683.7L490.7 684.7L491.9 682.6L494.4 681.5Z" fill="#0f8317"/>
<path d="M517.7 663.2L514.6 664.6L515.9 661.9L518.9 660.5Z" fill="#637000"/>
<path d="M443.8 710.2L441.0 709.2L442.3 707.7L445.1 708.6Z" fill="#091498"/>
<path d="M457.4 705.8L454.8 705.4L456.1 703.7L458.8 704.0Z" fill="#03368c"/>
<path d="M498.1 678.2L495.6 679.3L496.9 677.2L499.3 676.0Z" fill="#2e7d02"/>
<path d="M425.9 714.1L423.2 713.1L424.6 711.6L427.3 712.5Z" fill="#1a0a9a"/>
<path d="M467.4 701.4L464.1 700.8L465.4 698.9L468.7 699.6Z" fill="#005885"/>
<path d="M479.7 693.1L475.9 695.0L477.2 693.2L481.0 691.0Z" fill="#007168"/>
<path d="M524.4 653.2L521.4 654.8L522.6 651.8L525.7 650.2Z" fill="#463a00"/>
<path d="M447.9 709.6L445.1 708.6L446.5 707.0L449.3 707.9Z" fill="#081b96"/>
<path d="M430.0 713.5L427.3 712.5L428.7 711.0L431.4 711.9Z" fill="#160a9a"/>
<path d="M484.6 690.0L482.3 688.8L483.6 686.6L485.8 687.8Z" fill="#017a44"/>
<path d="M488.1 689.0L485.8 687.8L487.1 685.7L489.4 686.9Z" fill="#028238"/>
<path d="M510.9 672.3L508.3 671.6L509.5 669.2L512.2 669.8Z" fill="#689b00"/>
<path d="M461.4 704.3L458.8 704.0L460.1 702.3L462.8 702.6Z" fill="#014489"/>
<path d="M501.9 677.9L499.3 676.0L500.6 673.7L503.1 675.6Z" fill="#4fa800"/>
<path d="M434.1 712.8L431.4 711.9L432.8 710.4L435.5 711.3Z" fill="#120b9b"/>
<path d="M452.1 708.8L449.3 707.9L450.6 706.3L453.5 707.1Z" fill="#062394"/>
<path d="M516.4 666.0L513.4 667.3L514.6 664.6L517.7 663.2Z" fill="#5e7200"/>
<path d="M505.8 676.3L503.1 675.6L504.4 673.3L507.0 674.0Z" fill="#67c300"/>
<path d="M472.0 700.3L468.7 699.6L470.0 697.8L473.3 698.5Z" fill="#005a77"/>
<path d="M491.8 685.9L489.4 686.9L490.7 684.7L493.1 683.7Z" fill="#078423"/>
<path d="M438.2 712.3L435.5 711.3L436.9 709.8L439.6 710.7Z" fill="#0f0d9b"/>
<path d="M523.2 656.2L520.1 657.7L521.4 654.8L524.4 653.2Z" fill="#464200"/>
<path d="M496.8 680.4L494.4 681.5L495.6 679.3L498.1 678.2Z" fill="#247e05"/>
<path d="M420.4 716.2L417.7 715.3L419.2 713.7L421.8 714.6Z" fill="#230a9a"/>
<path d="M456.1 707.5L453.5 707.1L454.8 705.4L457.4 705.8Z" fill="#042e8e"/>
<path d="M442.4 711.8L439.6 710.7L441.0 709.2L443.8 710.2Z" fill="#0b0f99"/>
<path d="M478.4 695.3L474.6 696.7L475.9 695.0L479.7 693.1Z" fill="#007272"/>
<path d="M466.0 703.2L462.8 702.6L464.1 700.8L467.4 701.4Z" fill="#004f84"/>
<path d="M509.7 674.8L507.0 674.0L508.3 671.6L510.9 672.3Z" fill="#5e9b00"/>
<path d="M424.5 715.6L421.8 714.6L423.2 713.1L425.9 714.1Z" fill="#1e0b9b"/>
<path d="M483.3 692.1L481.0 691.0L482.3 688.8L484.6 690.0Z" fill="#007f5b"/>
<path d="M486.8 691.1L484.6 690.0L485.8 687.8L488.1 689.0Z" fill="#01834e"/>
<path d="M500.6 680.1L498.1 678.2L499.3 676.0L501.9 677.9Z" fill="#41a701"/>
<path d="M515.2 668.6L512.2 669.8L513.4 667.3L516.4 666.0Z" fill="#597400"/>
<path d="M446.6 711.2L443.8 710.2L445.1 708.6L447.9 709.6Z" fill="#091397"/>
<path d="M428.6 715.0L425.9 714.1L427.3 712.5L430.0 713.5Z" fill="#1a0a9b"/>
<path d="M522.0 659.0L518.9 660.5L520.1 657.7L523.2 656.2Z" fill="#464700"/>
<path d="M460.1 706.1L457.4 705.8L458.8 704.0L461.4 704.3Z" fill="#023a88"/>
<path d="M504.5 678.6L501.9 677.9L503.1 675.6L505.8 676.3Z" fill="#57c201"/>
<path d="M450.8 710.5L447.9 709.6L449.3 707.9L452.1 708.8Z" fill="#081a95"/>
<path d="M432.7 714.4L430.0 713.5L431.4 711.9L434.1 712.8Z" fill="#160a9c"/>
<path d="M490.6 688.1L488.1 689.0L489.4 686.9L491.8 685.9Z" fill="#038532"/>
<path d="M495.6 682.7L493.1 683.7L494.4 681.5L496.8 680.4Z" fill="#197e0a"/>
<path d="M470.7 702.1L467.4 701.4L468.7 699.6L472.0 700.3Z" fill="#005278"/>
<path d="M436.8 713.8L434.1 712.8L435.5 711.3L438.2 712.3Z" fill="#120c9c"/>
<path d="M508.5 677.1L505.8 676.3L507.0 674.0L509.7 674.8Z" fill="#529c00"/>
<path d="M477.2 697.4L473.3 698.5L474.6 696.7L478.4 695.3Z" fill="#00737c"/>
<path d="M419.0 717.8L416.3 716.9L417.7 715.3L420.4 716.2Z" fill="#280b9a"/>
<path d="M528.4 647.1L525.7 650.2L526.9 647.2L529.7 643.8Z" fill="#391c00"/>
<path d="M514.0 671.2L510.9 672.3L512.2 669.8L515.2 668.6Z" fill="#527600"/>
<path d="M454.8 709.2L452.1 708.8L453.5 707.1L456.1 707.5Z" fill="#06258e"/>
<path d="M482.0 694.2L479.7 693.1L481.0 691.0L483.3 692.1Z" fill="#00826d"/>
<path d="M464.7 705.0L461.4 704.3L462.8 702.6L466.0 703.2Z" fill="#014583"/>
<path d="M520.7 661.8L517.7 663.2L518.9 660.5L522.0 659.0Z" fill="#444900"/>
<path d="M485.6 693.3L483.3 692.1L484.6 690.0L486.8 691.1Z" fill="#008564"/>
<path d="M499.4 682.3L496.8 680.4L498.1 678.2L500.6 680.1Z" fill="#33a704"/>
<path d="M441.0 713.4L438.2 712.3L439.6 710.7L442.4 711.8Z" fill="#0f0d9b"/>
<path d="M423.1 717.2L420.4 716.2L421.8 714.6L424.5 715.6Z" fill="#230b9c"/>
<path d="M503.3 680.9L500.6 680.1L501.9 677.9L504.5 678.6Z" fill="#46c101"/>
<path d="M445.2 712.9L442.4 711.8L443.8 710.2L446.6 711.2Z" fill="#0c0e98"/>
<path d="M458.8 707.8L456.1 707.5L457.4 705.8L460.1 706.1Z" fill="#033187"/>
<path d="M427.2 716.6L424.5 715.6L425.9 714.1L428.6 715.0Z" fill="#1f0b9d"/>
<path d="M494.3 684.9L491.8 685.9L493.1 683.7L495.6 682.7Z" fill="#0e7f10"/>
<path d="M489.3 690.3L486.8 691.1L488.1 689.0L490.6 688.1Z" fill="#028446"/>
<path d="M527.2 650.3L524.4 653.2L525.7 650.2L528.4 647.1Z" fill="#3b2500"/>
<path d="M449.4 712.3L446.6 711.2L447.9 709.6L450.8 710.5Z" fill="#091296"/>
<path d="M519.5 664.7L516.4 666.0L517.7 663.2L520.7 661.8Z" fill="#434c00"/>
<path d="M507.2 679.4L504.5 678.6L505.8 676.3L508.5 677.1Z" fill="#459b01"/>
<path d="M431.3 716.0L428.6 715.0L430.0 713.5L432.7 714.4Z" fill="#1b0b9d"/>
<path d="M512.7 673.7L509.7 674.8L510.9 672.3L514.0 671.2Z" fill="#4b7700"/>
<path d="M469.3 703.8L466.0 703.2L467.4 701.4L470.7 702.1Z" fill="#004b79"/>
<path d="M475.9 699.4L472.0 700.3L473.3 698.5L477.2 697.4Z" fill="#006e82"/>
<path d="M480.7 696.3L478.4 695.3L479.7 693.1L482.0 694.2Z" fill="#00857b"/>
<path d="M498.1 684.5L495.6 682.7L496.8 680.4L499.4 682.3Z" fill="#23a50a"/>
<path d="M435.4 715.4L432.7 714.4L434.1 712.8L436.8 713.8Z" fill="#170b9e"/>
<path d="M484.3 695.3L482.0 694.2L483.3 692.1L485.6 693.3Z" fill="#008573"/>
<path d="M525.9 653.6L523.2 656.2L524.4 653.2L527.2 650.3Z" fill="#3e2d00"/>
<path d="M417.6 719.4L414.9 718.5L416.3 716.9L419.0 717.8Z" fill="#2d0b9a"/>
<path d="M453.4 710.9L450.8 710.5L452.1 708.8L454.8 709.2Z" fill="#071c8f"/>
<path d="M463.4 706.7L460.1 706.1L461.4 704.3L464.7 705.0Z" fill="#023c81"/>
<path d="M502.0 683.1L499.4 682.3L500.6 680.1L503.3 680.9Z" fill="#35bf06"/>
<path d="M439.6 715.0L436.8 713.8L438.2 712.3L441.0 713.4Z" fill="#130b9c"/>
<path d="M421.7 718.8L419.0 717.8L420.4 716.2L423.1 717.2Z" fill="#280b9c"/>
<path d="M493.0 687.2L490.6 688.1L491.8 685.9L494.3 684.9Z" fill="#077e1b"/>
<path d="M518.2 667.4L515.2 668.6L516.4 666.0L519.5 664.7Z" fill="#414f00"/>
<path d="M488.0 692.5L485.6 693.3L486.8 691.1L489.3 690.3Z" fill="#01835a"/>
<path d="M443.8 714.5L441.0 713.4L442.4 711.8L445.2 712.9Z" fill="#100c99"/>
<path d="M457.4 709.5L454.8 709.2L456.1 707.5L458.8 707.8Z" fill="#042885"/>
<path d="M511.5 676.2L508.5 677.1L509.7 674.8L512.7 673.7Z" fill="#437900"/>
<path d="M506.0 681.8L503.3 680.9L504.5 678.6L507.2 679.4Z" fill="#389b01"/>
<path d="M425.8 718.2L423.1 717.2L424.5 715.6L427.2 716.6Z" fill="#240b9d"/>
<path d="M524.7 656.6L522.0 659.0L523.2 656.2L525.9 653.6Z" fill="#413600"/>
<path d="M448.0 714.0L445.2 712.9L446.6 711.2L449.4 712.3Z" fill="#0c0d97"/>
<path d="M468.0 705.6L464.7 705.0L466.0 703.2L469.3 703.8Z" fill="#00447a"/>
<path d="M496.8 686.6L494.3 684.9L495.6 682.7L498.1 684.5Z" fill="#13a310"/>
<path d="M429.9 717.5L427.2 716.6L428.6 715.0L431.3 716.0Z" fill="#200b9e"/>
<path d="M479.4 698.4L477.2 697.4L478.4 695.3L480.7 696.3Z" fill="#00888a"/>
<path d="M483.0 697.3L480.7 696.3L482.0 694.2L484.3 695.3Z" fill="#00837d"/>
<path d="M474.5 701.4L470.7 702.1L472.0 700.3L475.9 699.4Z" fill="#006582"/>
<path d="M500.8 685.3L498.1 684.5L499.4 682.3L502.0 683.1Z" fill="#24bd0f"/>
<path d="M434.0 716.9L431.3 716.0L432.7 714.4L435.4 715.4Z" fill="#1c0b9f"/>
<path d="M517.0 670.0L514.0 671.2L515.2 668.6L518.2 667.4Z" fill="#3f5300"/>
<path d="M462.1 708.4L458.8 707.8L460.1 706.1L463.4 706.7Z" fill="#033380"/>
<path d="M452.1 712.6L449.4 712.3L450.8 710.5L453.4 710.9Z" fill="#081390"/>
<path d="M416.1 721.0L413.5 720.1L414.9 718.5L417.6 719.4Z" fill="#310b99"/>
<path d="M491.7 689.4L489.3 690.3L490.6 688.1L493.0 687.2Z" fill="#047c2c"/>
<path d="M523.5 659.7L520.7 661.8L522.0 659.0L524.7 656.6Z" fill="#443f00"/>
<path d="M486.7 694.6L484.3 695.3L485.6 693.3L488.0 692.5Z" fill="#008168"/>
<path d="M438.2 716.6L435.4 715.4L436.8 713.8L439.6 715.0Z" fill="#180b9e"/>
<path d="M510.2 678.6L507.2 679.4L508.5 677.1L511.5 676.2Z" fill="#397a01"/>
<path d="M504.7 683.9L502.0 683.1L503.3 680.9L506.0 681.8Z" fill="#2a9b05"/>
<path d="M420.3 720.4L417.6 719.4L419.0 717.8L421.7 718.8Z" fill="#2d0b9c"/>
<path d="M442.5 716.2L439.6 715.0L441.0 713.4L443.8 714.5Z" fill="#150b9b"/>
<path d="M531.2 643.9L528.4 647.1L529.7 643.8L532.4 640.3Z" fill="#3d1500"/>
<path d="M456.1 711.2L453.4 710.9L454.8 709.2L457.4 709.5Z" fill="#062084"/>
<path d="M424.4 719.8L421.7 718.8L423.1 717.2L425.8 718.2Z" fill="#290b9d"/>
<path d="M495.6 688.7L493.0 687.2L494.3 684.9L496.8 686.6Z" fill="#09a01c"/>
<path d="M478.1 700.4L475.9 699.4L477.2 697.4L479.4 698.4Z" fill="#008390"/>
<path d="M446.7 715.7L443.8 714.5L445.2 712.9L448.0 714.0Z" fill="#110c98"/>
<path d="M515.8 672.7L512.7 673.7L514.0 671.2L517.0 670.0Z" fill="#3d5700"/>
<path d="M481.7 699.4L479.4 698.4L480.7 696.3L483.0 697.3Z" fill="#008287"/>
<path d="M466.7 707.3L463.4 706.7L464.7 705.0L468.0 705.6Z" fill="#013c79"/>
<path d="M522.2 662.7L519.5 664.7L520.7 661.8L523.5 659.7Z" fill="#484800"/>
<path d="M499.5 687.5L496.8 686.6L498.1 684.5L500.8 685.3Z" fill="#13bb17"/>
<path d="M473.2 703.4L469.3 703.8L470.7 702.1L474.5 701.4Z" fill="#005c83"/>
<path d="M428.5 719.1L425.8 718.2L427.2 716.6L429.9 717.5Z" fill="#250b9f"/>
<path d="M530.0 647.4L527.2 650.3L528.4 647.1L531.2 643.9Z" fill="#462100"/>
<path d="M490.5 691.7L488.0 692.5L489.3 690.3L491.7 689.4Z" fill="#017a3d"/>
<path d="M509.0 681.1L506.0 681.8L507.2 679.4L510.2 678.6Z" fill="#307c01"/>
<path d="M460.7 710.1L457.4 709.5L458.8 707.8L462.1 708.4Z" fill="#042a7e"/>
<path d="M450.7 714.2L448.0 714.0L449.4 712.3L452.1 712.6Z" fill="#0b0e90"/>
<path d="M432.6 718.5L429.9 717.5L431.3 716.0L434.0 716.9Z" fill="#210ba0"/>
<path d="M485.4 696.7L483.0 697.3L484.3 695.3L486.7 694.6Z" fill="#007e71"/>
<path d="M414.7 722.7L412.0 721.7L413.5 720.1L416.1 721.0Z" fill="#330b97"/>
<path d="M503.4 686.1L500.8 685.3L502.0 683.1L504.7 683.9Z" fill="#1d9b0d"/>
<path d="M436.9 718.2L434.0 716.9L435.4 715.4L438.2 716.6Z" fill="#1d0b9e"/>
<path d="M528.7 650.9L525.9 653.6L527.2 650.3L530.0 647.4Z" fill="#502d00"/>
<path d="M521.0 665.6L518.2 667.4L519.5 664.7L522.2 662.7Z" fill="#4a4f00"/>
<path d="M418.8 722.0L416.1 721.0L417.6 719.4L420.3 720.4Z" fill="#310b9b"/>
<path d="M514.5 675.3L511.5 676.2L512.7 673.7L515.8 672.7Z" fill="#395b00"/>
<path d="M494.3 690.8L491.7 689.4L493.0 687.2L495.6 688.7Z" fill="#069c30"/>
<path d="M441.1 717.8L438.2 716.6L439.6 715.0L442.5 716.2Z" fill="#190a9b"/>
<path d="M454.7 712.9L452.1 712.6L453.4 710.9L456.1 711.2Z" fill="#071783"/>
<path d="M531.5 645.4L531.2 643.9L532.4 640.3L532.7 641.6Z" fill="#641f00"/>
<path d="M476.8 702.3L474.5 701.4L475.9 699.4L478.1 700.4Z" fill="#00778f"/>
<path d="M480.4 701.3L478.1 700.4L479.4 698.4L481.7 699.4Z" fill="#007b8a"/>
<path d="M423.0 721.4L420.3 720.4L421.7 718.8L424.4 719.8Z" fill="#2e0b9d"/>
<path d="M498.2 689.5L495.6 688.7L496.8 686.6L499.5 687.5Z" fill="#09b826"/>
<path d="M445.3 717.4L442.5 716.2L443.8 714.5L446.7 715.7Z" fill="#160b99"/>
<path d="M465.4 709.1L462.1 708.4L463.4 706.7L466.7 707.3Z" fill="#023478"/>
<path d="M471.9 705.2L468.0 705.6L469.3 703.8L473.2 703.4Z" fill="#005382"/>
<path d="M527.5 654.2L524.7 656.6L525.9 653.6L528.7 650.9Z" fill="#593c00"/>
<path d="M507.7 683.4L504.7 683.9L506.0 681.8L509.0 681.1Z" fill="#267e04"/>
<path d="M489.2 693.9L486.7 694.6L488.0 692.5L490.5 691.7Z" fill="#00774c"/>
<path d="M427.1 720.8L424.4 719.8L425.8 718.2L428.5 719.1Z" fill="#2a0b9f"/>
<path d="M530.2 649.2L530.0 647.4L531.2 643.9L531.5 645.4Z" fill="#733500"/>
<path d="M484.1 698.8L481.7 699.4L483.0 697.3L485.4 696.7Z" fill="#007a7a"/>
<path d="M502.2 688.3L499.5 687.5L500.8 685.3L503.4 686.1Z" fill="#0f9c14"/>
<path d="M519.7 668.5L517.0 670.0L518.2 667.4L521.0 665.6Z" fill="#4a5600"/>
<path d="M459.4 711.8L456.1 711.2L457.4 709.5L460.7 710.1Z" fill="#05227c"/>
<path d="M449.3 715.9L446.7 715.7L448.0 714.0L450.7 714.2Z" fill="#100c90"/>
<path d="M431.2 720.1L428.5 719.1L429.9 717.5L432.6 718.5Z" fill="#260ba1"/>
<path d="M513.3 677.8L510.2 678.6L511.5 676.2L514.5 675.3Z" fill="#345f00"/>
<path d="M413.3 724.3L410.6 723.3L412.0 721.7L414.7 722.7Z" fill="#360b95"/>
<path d="M528.9 653.0L528.7 650.9L530.0 647.4L530.2 649.2Z" fill="#834b00"/>
<path d="M493.0 692.9L490.5 691.7L491.7 689.4L494.3 690.8Z" fill="#029843"/>
<path d="M526.2 657.5L523.5 659.7L524.7 656.6L527.5 654.2Z" fill="#635100"/>
<path d="M435.5 719.8L432.6 718.5L434.0 716.9L436.9 718.2Z" fill="#220b9f"/>
<path d="M417.4 723.7L414.7 722.7L416.1 721.0L418.8 722.0Z" fill="#340b99"/>
<path d="M534.7 643.8L531.5 645.4L532.7 641.6L535.9 639.6Z" fill="#8d2700"/>
<path d="M475.5 704.3L473.2 703.4L474.5 701.4L476.8 702.3Z" fill="#006b8e"/>
<path d="M497.0 691.6L494.3 690.8L495.6 688.7L498.2 689.5Z" fill="#05b43c"/>
<path d="M439.7 719.5L436.9 718.2L438.2 716.6L441.1 717.8Z" fill="#1f0b9c"/>
<path d="M453.4 714.5L450.7 714.2L452.1 712.6L454.7 712.9Z" fill="#091183"/>
<path d="M479.1 703.2L476.8 702.3L478.1 700.4L480.4 701.3Z" fill="#006f88"/>
<path d="M506.5 685.7L503.4 686.1L504.7 683.9L507.7 683.4Z" fill="#1b8009"/>
<path d="M518.5 671.3L515.8 672.7L517.0 670.0L519.7 668.5Z" fill="#4b5d00"/>
<path d="M527.7 656.4L527.5 654.2L528.7 650.9L528.9 653.0Z" fill="#906400"/>
<path d="M421.5 723.0L418.8 722.0L420.3 720.4L423.0 721.4Z" fill="#320b9c"/>
<path d="M487.9 696.0L485.4 696.7L486.7 694.6L489.2 693.9Z" fill="#007458"/>
<path d="M533.4 647.9L530.2 649.2L531.5 645.4L534.7 643.8Z" fill="#9d4400"/>
<path d="M464.0 710.7L460.7 710.1L462.1 708.4L465.4 709.1Z" fill="#032c78"/>
<path d="M470.6 707.1L466.7 707.3L468.0 705.6L471.9 705.2Z" fill="#014980"/>
<path d="M443.9 719.1L441.1 717.8L442.5 716.2L445.3 717.4Z" fill="#1b0a99"/>
<path d="M525.0 660.7L522.2 662.7L523.5 659.7L526.2 657.5Z" fill="#6c6500"/>
<path d="M500.9 690.3L498.2 689.5L499.5 687.5L502.2 688.3Z" fill="#079c22"/>
<path d="M482.8 700.8L480.4 701.3L481.7 699.4L484.1 698.8Z" fill="#00737e"/>
<path d="M512.0 680.3L509.0 681.1L510.2 678.6L513.3 677.8Z" fill="#2e6300"/>
<path d="M425.7 722.4L423.0 721.4L424.4 719.8L427.1 720.8Z" fill="#2f0b9f"/>
<path d="M532.1 652.1L528.9 653.0L530.2 649.2L533.4 647.9Z" fill="#ac6100"/>
<path d="M458.0 713.5L454.7 712.9L456.1 711.2L459.4 711.8Z" fill="#061b7b"/>
<path d="M448.0 717.6L445.3 717.4L446.7 715.7L449.3 715.9Z" fill="#140b91"/>
<path d="M526.4 659.8L526.2 657.5L527.5 654.2L527.7 656.4Z" fill="#9b8000"/>
<path d="M491.7 694.9L489.2 693.9L490.5 691.7L493.0 692.9Z" fill="#009455"/>
<path d="M429.8 721.7L427.1 720.8L428.5 719.1L431.2 720.1Z" fill="#2b0ba0"/>
<path d="M411.8 726.0L409.1 725.0L410.6 723.3L413.3 724.3Z" fill="#380b93"/>
<path d="M517.2 674.0L514.5 675.3L515.8 672.7L518.5 671.3Z" fill="#496200"/>
<path d="M530.9 655.7L527.7 656.4L528.9 653.0L532.1 652.1Z" fill="#b87e00"/>
<path d="M523.7 663.8L521.0 665.6L522.2 662.7L525.0 660.7Z" fill="#727400"/>
<path d="M434.1 721.4L431.2 720.1L432.6 718.5L435.5 719.8Z" fill="#270ba0"/>
<path d="M495.7 693.7L493.0 692.9L494.3 690.8L497.0 691.6Z" fill="#02b053"/>
<path d="M474.2 706.1L471.9 705.2L473.2 703.4L475.5 704.3Z" fill="#005f8b"/>
<path d="M505.2 688.0L502.2 688.3L503.4 686.1L506.5 685.7Z" fill="#10830f"/>
<path d="M415.9 725.3L413.3 724.3L414.7 722.7L417.4 723.7Z" fill="#370b96"/>
<path d="M477.8 705.1L475.5 704.3L476.8 702.3L479.1 703.2Z" fill="#006385"/>
<path d="M486.6 698.2L484.1 698.8L485.4 696.7L487.9 696.0Z" fill="#007164"/>
<path d="M452.0 716.2L449.3 715.9L450.7 714.2L453.4 714.5Z" fill="#0c0e82"/>
<path d="M525.2 663.2L525.0 660.7L526.2 657.5L526.4 659.8Z" fill="#a59d00"/>
<path d="M438.3 721.2L435.5 719.8L436.9 718.2L439.7 719.5Z" fill="#240b9c"/>
<path d="M510.8 682.8L507.7 683.4L509.0 681.1L512.0 680.3Z" fill="#276802"/>
<path d="M529.6 659.4L526.4 659.8L527.7 656.4L530.9 655.7Z" fill="#be9d00"/>
<path d="M420.1 724.6L417.4 723.7L418.8 722.0L421.5 723.0Z" fill="#350b9a"/>
<path d="M469.3 708.9L465.4 709.1L466.7 707.3L470.6 707.1Z" fill="#01407f"/>
<path d="M499.7 692.4L497.0 691.6L498.2 689.5L500.9 690.3Z" fill="#049c35"/>
<path d="M462.7 712.5L459.4 711.8L460.7 710.1L464.0 710.7Z" fill="#042577"/>
<path d="M442.5 720.8L439.7 719.5L441.1 717.8L443.9 719.1Z" fill="#200a99"/>
<path d="M481.5 702.8L479.1 703.2L480.4 701.3L482.8 700.8Z" fill="#00697c"/>
<path d="M522.5 666.9L519.7 668.5L521.0 665.6L523.7 663.8Z" fill="#747d00"/>
<path d="M424.2 724.0L421.5 723.0L423.0 721.4L425.7 722.4Z" fill="#330b9d"/>
<path d="M516.0 676.7L513.3 677.8L514.5 675.3L517.2 674.0Z" fill="#446700"/>
<path d="M490.4 696.9L487.9 696.0L489.2 693.9L491.7 694.9Z" fill="#008f64"/>
<path d="M524.0 666.3L523.7 663.8L525.0 660.7L525.2 663.2Z" fill="#a9af00"/>
<path d="M456.7 715.2L453.4 714.5L454.7 712.9L458.0 713.5Z" fill="#07147a"/>
<path d="M446.6 719.3L443.9 719.1L445.3 717.4L448.0 717.6Z" fill="#190a91"/>
<path d="M528.4 663.1L525.2 663.2L526.4 659.8L529.6 659.4Z" fill="#c4bc00"/>
<path d="M428.4 723.4L425.7 722.4L427.1 720.8L429.8 721.7Z" fill="#300ba0"/>
<path d="M410.4 727.6L407.7 726.7L409.1 725.0L411.8 726.0Z" fill="#390b90"/>
<path d="M494.4 695.6L491.7 694.9L493.0 692.9L495.7 693.7Z" fill="#00ad66"/>
<path d="M503.9 690.2L500.9 690.3L502.2 688.3L505.2 688.0Z" fill="#09861a"/>
<path d="M472.9 707.9L470.6 707.1L471.9 705.2L474.2 706.1Z" fill="#005488"/>
<path d="M509.5 685.2L506.5 685.7L507.7 683.4L510.8 682.8Z" fill="#1e6d05"/>
<path d="M432.6 723.1L429.8 721.7L431.2 720.1L434.1 721.4Z" fill="#2c0b9f"/>
<path d="M485.3 700.2L482.8 700.8L484.1 698.8L486.6 698.2Z" fill="#006b6b"/>
<path d="M476.5 706.9L474.2 706.1L475.5 704.3L477.8 705.1Z" fill="#005882"/>
<path d="M414.5 727.0L411.8 726.0L413.3 724.3L415.9 725.3Z" fill="#380b94"/>
<path d="M521.2 669.9L518.5 671.3L519.7 668.5L522.5 666.9Z" fill="#778700"/>
<path d="M450.6 717.9L448.0 717.6L449.3 715.9L452.0 716.2Z" fill="#0f0a82"/>
<path d="M527.1 666.3L524.0 666.3L525.2 663.2L528.4 663.1Z" fill="#c3cd00"/>
<path d="M436.9 722.8L434.1 721.4L435.5 719.8L438.3 721.2Z" fill="#290b9c"/>
<path d="M498.4 694.4L495.7 693.7L497.0 691.6L499.7 692.4Z" fill="#019c49"/>
<path d="M522.7 669.3L522.5 666.9L523.7 663.8L524.0 666.3Z" fill="#a6b700"/>
<path d="M537.9 642.1L534.7 643.8L535.9 639.6L539.2 637.6Z" fill="#951e00"/>
<path d="M514.7 679.4L512.0 680.3L513.3 677.8L516.0 676.7Z" fill="#3f6c00"/>
<path d="M467.9 710.6L464.0 710.7L465.4 709.1L469.3 708.9Z" fill="#02377d"/>
<path d="M480.2 704.7L477.8 705.1L479.1 703.2L481.5 702.8Z" fill="#005e7a"/>
<path d="M418.7 726.3L415.9 725.3L417.4 723.7L420.1 724.6Z" fill="#370b97"/>
<path d="M461.3 714.2L458.0 713.5L459.4 711.8L462.7 712.5Z" fill="#051d77"/>
<path d="M441.2 722.5L438.3 721.2L439.7 719.5L442.5 720.8Z" fill="#260a99"/>
<path d="M536.6 646.6L533.4 647.9L534.7 643.8L537.9 642.1Z" fill="#a03600"/>
<path d="M489.2 698.9L486.6 698.2L487.9 696.0L490.4 696.9Z" fill="#008b74"/>
<path d="M535.4 651.2L532.1 652.1L533.4 647.9L536.6 646.6Z" fill="#aa4f00"/>
<path d="M422.8 725.6L420.1 724.6L421.5 723.0L424.2 724.0Z" fill="#350b9b"/>
<path d="M525.9 669.5L522.7 669.3L524.0 666.3L527.1 666.3Z" fill="#bbd200"/>
<path d="M455.3 716.9L452.0 716.2L453.4 714.5L456.7 715.2Z" fill="#090f7a"/>
<path d="M445.2 721.1L442.5 720.8L443.9 719.1L446.6 719.3Z" fill="#1e0a91"/>
<path d="M520.0 672.8L517.2 674.0L518.5 671.3L521.2 669.9Z" fill="#748e00"/>
<path d="M502.7 692.4L499.7 692.4L500.9 690.3L503.9 690.2Z" fill="#06892c"/>
<path d="M521.4 672.4L521.2 669.9L522.5 666.9L522.7 669.3Z" fill="#a3bf00"/>
<path d="M493.1 697.6L490.4 696.9L491.7 694.9L494.4 695.6Z" fill="#00a978"/>
<path d="M508.2 687.7L505.2 688.0L506.5 685.7L509.5 685.2Z" fill="#157208"/>
<path d="M534.1 655.1L530.9 655.7L532.1 652.1L535.4 651.2Z" fill="#b16b00"/>
<path d="M427.0 725.0L424.2 724.0L425.7 722.4L428.4 723.4Z" fill="#340b9e"/>
<path d="M408.9 729.3L406.2 728.3L407.7 726.7L410.4 727.6Z" fill="#3b0b8c"/>
<path d="M484.0 702.3L481.5 702.8L482.8 700.8L485.3 700.2Z" fill="#00646c"/>
<path d="M471.5 709.7L469.3 708.9L470.6 707.1L472.9 707.9Z" fill="#004984"/>
<path d="M513.5 682.0L510.8 682.8L512.0 680.3L514.7 679.4Z" fill="#387001"/>
<path d="M475.2 708.7L472.9 707.9L474.2 706.1L476.5 706.9Z" fill="#004e7f"/>
<path d="M431.2 724.7L428.4 723.4L429.8 721.7L432.6 723.1Z" fill="#310b9f"/>
<path d="M497.1 696.4L494.4 695.6L495.7 693.7L498.4 694.4Z" fill="#009c5d"/>
<path d="M532.8 659.0L529.6 659.4L530.9 655.7L534.1 655.1Z" fill="#b48900"/>
<path d="M413.1 728.6L410.4 727.6L411.8 726.0L414.5 727.0Z" fill="#3a0b90"/>
<path d="M449.3 719.6L446.6 719.3L448.0 717.6L450.6 717.9Z" fill="#130982"/>
<path d="M524.6 672.7L521.4 672.4L522.7 669.3L525.9 669.5Z" fill="#b3d600"/>
<path d="M435.5 724.4L432.6 723.1L434.1 721.4L436.9 722.8Z" fill="#2d0b9b"/>
<path d="M478.9 706.6L476.5 706.9L477.8 705.1L480.2 704.7Z" fill="#005478"/>
<path d="M466.6 712.4L462.7 712.5L464.0 710.7L467.9 710.6Z" fill="#032f7b"/>
<path d="M520.2 675.2L520.0 672.8L521.2 669.9L521.4 672.4Z" fill="#9bc300"/>
<path d="M460.0 715.9L456.7 715.2L458.0 713.5L461.3 714.2Z" fill="#061777"/>
<path d="M518.7 675.6L516.0 676.7L517.2 674.0L520.0 672.8Z" fill="#6b9200"/>
<path d="M417.2 727.9L414.5 727.0L415.9 725.3L418.7 726.3Z" fill="#390b94"/>
<path d="M487.9 700.9L485.3 700.2L486.6 698.2L489.2 698.9Z" fill="#00857d"/>
<path d="M439.8 724.1L436.9 722.8L438.3 721.2L441.2 722.5Z" fill="#2a0a98"/>
<path d="M531.6 662.9L528.4 663.1L529.6 659.4L532.8 659.0Z" fill="#b6a700"/>
<path d="M507.0 690.0L503.9 690.2L505.2 688.0L508.2 687.7Z" fill="#0e7811"/>
<path d="M501.4 694.6L498.4 694.4L499.7 692.4L502.7 692.4Z" fill="#028c3d"/>
<path d="M421.4 727.3L418.7 726.3L420.1 724.6L422.8 725.6Z" fill="#380b98"/>
<path d="M491.8 699.6L489.2 698.9L490.4 696.9L493.1 697.6Z" fill="#00a58a"/>
<path d="M512.2 684.6L509.5 685.2L510.8 682.8L513.5 682.0Z" fill="#2e7502"/>
<path d="M443.8 722.8L441.2 722.5L442.5 720.8L445.2 721.1Z" fill="#230a90"/>
<path d="M453.9 718.6L450.6 717.9L452.0 716.2L455.3 716.9Z" fill="#0b0b7a"/>
<path d="M523.4 675.6L520.2 675.2L521.4 672.4L524.6 672.7Z" fill="#a5d800"/>
<path d="M482.7 704.3L480.2 704.7L481.5 702.8L484.0 702.3Z" fill="#005c6c"/>
<path d="M530.3 666.3L527.1 666.3L528.4 663.1L531.6 662.9Z" fill="#b4b800"/>
<path d="M407.4 731.0L404.7 730.0L406.2 728.3L408.9 729.3Z" fill="#3c0b8a"/>
<path d="M425.5 726.6L422.8 725.6L424.2 724.0L427.0 725.0Z" fill="#360b9c"/>
<path d="M470.2 711.4L467.9 710.6L469.3 708.9L471.5 709.7Z" fill="#013f81"/>
<path d="M518.9 678.0L518.7 675.6L520.0 672.8L520.2 675.2Z" fill="#8cc400"/>
<path d="M473.8 710.4L471.5 709.7L472.9 707.9L475.2 708.7Z" fill="#00447c"/>
<path d="M495.8 698.4L493.1 697.6L494.4 695.6L497.1 696.4Z" fill="#009c6f"/>
<path d="M517.4 678.5L514.7 679.4L516.0 676.7L518.7 675.6Z" fill="#639600"/>
<path d="M429.8 726.3L427.0 725.0L428.4 723.4L431.2 724.7Z" fill="#340b9d"/>
<path d="M411.6 730.3L408.9 729.3L410.4 727.6L413.1 728.6Z" fill="#3b0b8d"/>
<path d="M447.9 721.3L445.2 721.1L446.6 719.3L449.3 719.6Z" fill="#170982"/>
<path d="M477.6 708.4L475.2 708.7L476.5 706.9L478.9 706.6Z" fill="#004b75"/>
<path d="M434.1 726.1L431.2 724.7L432.6 723.1L435.5 724.4Z" fill="#310b9a"/>
<path d="M486.6 702.8L484.0 702.3L485.3 700.2L487.9 700.9Z" fill="#007d7f"/>
<path d="M529.1 669.7L525.9 669.5L527.1 666.3L530.3 666.3Z" fill="#acbc00"/>
<path d="M465.2 714.1L461.3 714.2L462.7 712.5L466.6 712.4Z" fill="#042679"/>
<path d="M458.6 717.6L455.3 716.9L456.7 715.2L460.0 715.9Z" fill="#081177"/>
<path d="M505.7 692.4L502.7 692.4L503.9 690.2L507.0 690.0Z" fill="#097d20"/>
<path d="M415.8 729.6L413.1 728.6L414.5 727.0L417.2 727.9Z" fill="#3a0b91"/>
<path d="M522.1 678.5L518.9 678.0L520.2 675.2L523.4 675.6Z" fill="#92d600"/>
<path d="M510.9 687.2L508.2 687.7L509.5 685.2L512.2 684.6Z" fill="#237a03"/>
<path d="M438.4 725.8L435.5 724.4L436.9 722.8L439.8 724.1Z" fill="#2e0a97"/>
<path d="M541.2 640.4L537.9 642.1L539.2 637.6L542.5 635.5Z" fill="#9e1400"/>
<path d="M500.1 696.7L497.1 696.4L498.4 694.4L501.4 694.6Z" fill="#008f50"/>
<path d="M539.9 645.3L536.6 646.6L537.9 642.1L541.2 640.4Z" fill="#a32900"/>
<path d="M538.6 650.2L535.4 651.2L536.6 646.6L539.9 645.3Z" fill="#a83e00"/>
<path d="M517.7 680.7L517.4 678.5L518.7 675.6L518.9 678.0Z" fill="#7dc500"/>
<path d="M490.5 701.6L487.9 700.9L489.2 698.9L491.8 699.6Z" fill="#00a095"/>
<path d="M537.3 654.4L534.1 655.1L535.4 651.2L538.6 650.2Z" fill="#aa5700"/>
<path d="M419.9 728.9L417.2 727.9L418.7 726.3L421.4 727.3Z" fill="#390b95"/>
<path d="M516.2 681.3L513.5 682.0L514.7 679.4L517.4 678.5Z" fill="#589800"/>
<path d="M452.6 720.3L449.3 719.6L450.6 717.9L453.9 718.6Z" fill="#0e087a"/>
<path d="M442.4 724.5L439.8 724.1L441.2 722.5L443.8 722.8Z" fill="#280a90"/>
<path d="M481.4 706.2L478.9 706.6L480.2 704.7L482.7 704.3Z" fill="#00546c"/>
<path d="M527.8 673.1L524.6 672.7L525.9 669.5L529.1 669.7Z" fill="#a4c000"/>
<path d="M406.0 732.7L403.3 731.7L404.7 730.0L407.4 731.0Z" fill="#3e0b87"/>
<path d="M536.1 658.6L532.8 659.0L534.1 655.1L537.3 654.4Z" fill="#a97500"/>
<path d="M494.5 700.3L491.8 699.6L493.1 697.6L495.8 698.4Z" fill="#009c82"/>
<path d="M424.1 728.3L421.4 727.3L422.8 725.6L425.5 726.6Z" fill="#380b99"/>
<path d="M468.9 713.1L466.6 712.4L467.9 710.6L470.2 711.4Z" fill="#02367e"/>
<path d="M472.5 712.1L470.2 711.4L471.5 709.7L473.8 710.4Z" fill="#013b79"/>
<path d="M520.8 681.4L517.7 680.7L518.9 678.0L522.1 678.5Z" fill="#7fd400"/>
<path d="M428.4 727.9L425.5 726.6L427.0 725.0L429.8 726.3Z" fill="#360b9a"/>
<path d="M534.8 662.7L531.6 662.9L532.8 659.0L536.1 658.6Z" fill="#a99300"/>
<path d="M410.1 732.0L407.4 731.0L408.9 729.3L411.6 730.3Z" fill="#3d0b8a"/>
<path d="M446.5 723.1L443.8 722.8L445.2 721.1L447.9 721.3Z" fill="#1c0982"/>
<path d="M485.3 704.8L482.7 704.3L484.0 702.3L486.6 702.8Z" fill="#007681"/>
<path d="M509.7 689.7L507.0 690.0L508.2 687.7L510.9 687.2Z" fill="#1a7e0a"/>
<path d="M504.4 694.7L501.4 694.6L502.7 692.4L505.7 692.4Z" fill="#04832f"/>
<path d="M476.3 710.2L473.8 710.4L475.2 708.7L477.6 708.4Z" fill="#004273"/>
<path d="M516.4 683.3L516.2 681.3L517.4 678.5L517.7 680.7Z" fill="#6bc400"/>
<path d="M526.5 676.0L523.4 675.6L524.6 672.7L527.8 673.1Z" fill="#97c100"/>
<path d="M463.9 715.9L460.0 715.9L461.3 714.2L465.2 714.1Z" fill="#051f78"/>
<path d="M432.7 727.7L429.8 726.3L431.2 724.7L434.1 726.1Z" fill="#350b99"/>
<path d="M514.9 684.0L512.2 684.6L513.5 682.0L516.2 681.3Z" fill="#499901"/>
<path d="M498.8 698.7L495.8 698.4L497.1 696.4L500.1 696.7Z" fill="#009265"/>
<path d="M457.3 719.3L453.9 718.6L455.3 716.9L458.6 717.6Z" fill="#090b78"/>
<path d="M414.3 731.3L411.6 730.3L413.1 728.6L415.8 729.6Z" fill="#3b0b8e"/>
<path d="M533.5 666.3L530.3 666.3L531.6 662.9L534.8 662.7Z" fill="#a4a300"/>
<path d="M436.9 727.4L434.1 726.1L435.5 724.4L438.4 725.8Z" fill="#320a96"/>
<path d="M489.2 703.5L486.6 702.8L487.9 700.9L490.5 701.6Z" fill="#009899"/>
<path d="M480.1 708.1L477.6 708.4L478.9 706.6L481.4 706.2Z" fill="#004c6b"/>
<path d="M418.5 730.6L415.8 729.6L417.2 727.9L419.9 728.9Z" fill="#3b0b92"/>
<path d="M519.6 683.9L516.4 683.3L517.7 680.7L520.8 681.4Z" fill="#6ad101"/>
<path d="M451.2 722.1L447.9 721.3L449.3 719.6L452.6 720.3Z" fill="#13087a"/>
<path d="M441.0 726.2L438.4 725.8L439.8 724.1L442.4 724.5Z" fill="#2c0a8f"/>
<path d="M493.2 702.3L490.5 701.6L491.8 699.6L494.5 700.3Z" fill="#009a8e"/>
<path d="M532.3 669.8L529.1 669.7L530.3 666.3L533.5 666.3Z" fill="#9ca700"/>
<path d="M525.3 679.0L522.1 678.5L523.4 675.6L526.5 676.0Z" fill="#85bf00"/>
<path d="M404.5 734.4L401.8 733.5L403.3 731.7L406.0 732.7Z" fill="#400b85"/>
<path d="M515.2 685.8L514.9 684.0L516.2 681.3L516.4 683.3Z" fill="#57c101"/>
<path d="M467.5 714.8L465.2 714.1L466.6 712.4L468.9 713.1Z" fill="#032d7b"/>
<path d="M422.7 729.9L419.9 728.9L421.4 727.3L424.1 728.3Z" fill="#3a0b96"/>
<path d="M508.4 692.2L505.7 692.4L507.0 690.0L509.7 689.7Z" fill="#118317"/>
<path d="M471.2 713.7L468.9 713.1L470.2 711.4L472.5 712.1Z" fill="#023378"/>
<path d="M503.1 696.9L500.1 696.7L501.4 694.6L504.4 694.7Z" fill="#018842"/>
<path d="M513.6 686.7L510.9 687.2L512.2 684.6L514.9 684.0Z" fill="#3a9a01"/>
<path d="M483.9 706.7L481.4 706.2L482.7 704.3L485.3 704.8Z" fill="#006d82"/>
<path d="M427.0 729.6L424.1 728.3L425.5 726.6L428.4 727.9Z" fill="#380b98"/>
<path d="M445.1 724.8L442.4 724.5L443.8 722.8L446.5 723.1Z" fill="#210983"/>
<path d="M408.7 733.7L406.0 732.7L407.4 731.0L410.1 732.0Z" fill="#3e0b88"/>
<path d="M474.9 711.9L472.5 712.1L473.8 710.4L476.3 710.2Z" fill="#013b72"/>
<path d="M544.0 640.1L541.2 640.4L542.5 635.5L545.3 635.5Z" fill="#b40e00"/>
<path d="M497.5 700.8L494.5 700.3L495.8 698.4L498.8 698.7Z" fill="#009479"/>
<path d="M542.7 644.8L539.9 645.3L541.2 640.4L544.0 640.1Z" fill="#b62100"/>
<path d="M541.4 649.4L538.6 650.2L539.9 645.3L542.7 644.8Z" fill="#b73400"/>
<path d="M462.5 717.6L458.6 717.6L460.0 715.9L463.9 715.9Z" fill="#061778"/>
<path d="M531.0 673.4L527.8 673.1L529.1 669.7L532.3 669.8Z" fill="#94aa00"/>
<path d="M431.2 729.3L428.4 727.9L429.8 726.3L432.7 727.7Z" fill="#370b97"/>
<path d="M455.9 721.0L452.6 720.3L453.9 718.6L457.3 719.3Z" fill="#0c0878"/>
<path d="M540.1 653.4L537.3 654.4L538.6 650.2L541.4 649.4Z" fill="#b74d00"/>
<path d="M518.3 686.5L515.2 685.8L516.4 683.3L519.6 683.9Z" fill="#54cc02"/>
<path d="M487.9 705.4L485.3 704.8L486.6 702.8L489.2 703.5Z" fill="#00919d"/>
<path d="M412.8 733.0L410.1 732.0L411.6 730.3L414.3 731.3Z" fill="#3d0b8b"/>
<path d="M524.0 682.0L520.8 681.4L522.1 678.5L525.3 679.0Z" fill="#73bd00"/>
<path d="M435.5 729.0L432.7 727.7L434.1 726.1L436.9 727.4Z" fill="#350a95"/>
<path d="M513.9 688.4L513.6 686.7L514.9 684.0L515.2 685.8Z" fill="#43bd02"/>
<path d="M538.9 657.5L536.1 658.6L537.3 654.4L540.1 653.4Z" fill="#b46c00"/>
<path d="M478.7 710.0L476.3 710.2L477.6 708.4L480.1 708.1Z" fill="#00456a"/>
<path d="M417.0 732.3L414.3 731.3L415.8 729.6L418.5 730.6Z" fill="#3c0b8f"/>
<path d="M507.1 694.6L504.4 694.7L505.7 692.4L508.4 692.2Z" fill="#088724"/>
<path d="M449.8 723.8L446.5 723.1L447.9 721.3L451.2 722.1Z" fill="#17087a"/>
<path d="M512.4 689.3L509.7 689.7L510.9 687.2L513.6 686.7Z" fill="#2c9a07"/>
<path d="M491.9 704.2L489.2 703.5L490.5 701.6L493.2 702.3Z" fill="#009595"/>
<path d="M439.6 727.9L436.9 727.4L438.4 725.8L441.0 726.2Z" fill="#300a8f"/>
<path d="M529.7 676.5L526.5 676.0L527.8 673.1L531.0 673.4Z" fill="#88aa00"/>
<path d="M537.6 661.5L534.8 662.7L536.1 658.6L538.9 657.5Z" fill="#b18b00"/>
<path d="M501.9 699.1L498.8 698.7L500.1 696.7L503.1 696.9Z" fill="#018c59"/>
<path d="M403.0 736.2L400.3 735.3L401.8 733.5L404.5 734.4Z" fill="#400a80"/>
<path d="M466.2 716.5L463.9 715.9L465.2 714.1L467.5 714.8Z" fill="#04257a"/>
<path d="M421.2 731.6L418.5 730.6L419.9 728.9L422.7 729.9Z" fill="#3b0b93"/>
<path d="M469.8 715.4L467.5 714.8L468.9 713.1L471.2 713.7Z" fill="#032c76"/>
<path d="M482.6 708.5L480.1 708.1L481.4 706.2L483.9 706.7Z" fill="#00627f"/>
<path d="M517.1 689.1L513.9 688.4L515.2 685.8L518.3 686.5Z" fill="#3dc604"/>
<path d="M522.8 684.6L519.6 683.9L520.8 681.4L524.0 682.0Z" fill="#61b901"/>
<path d="M496.3 702.8L493.2 702.3L494.5 700.3L497.5 700.8Z" fill="#009588"/>
<path d="M443.7 726.6L441.0 726.2L442.4 724.5L445.1 724.8Z" fill="#250983"/>
<path d="M536.3 665.0L533.5 666.3L534.8 662.7L537.6 661.5Z" fill="#ab9e00"/>
<path d="M407.2 735.4L404.5 734.4L406.0 732.7L408.7 733.7Z" fill="#400b86"/>
<path d="M425.5 731.2L422.7 729.9L424.1 728.3L427.0 729.6Z" fill="#3a0b95"/>
<path d="M473.6 713.7L471.2 713.7L472.5 712.1L474.9 711.9Z" fill="#013471"/>
<path d="M461.2 719.3L457.3 719.3L458.6 717.6L462.5 717.6Z" fill="#071078"/>
<path d="M512.6 690.7L512.4 689.3L513.6 686.7L513.9 688.4Z" fill="#30b909"/>
<path d="M486.6 707.3L483.9 706.7L485.3 704.8L487.9 705.4Z" fill="#00869d"/>
<path d="M454.5 722.8L451.2 722.1L452.6 720.3L455.9 721.0Z" fill="#100878"/>
<path d="M429.8 730.9L427.0 729.6L428.4 727.9L431.2 729.3Z" fill="#380b95"/>
<path d="M528.5 679.5L525.3 679.0L526.5 676.0L529.7 676.5Z" fill="#78a700"/>
<path d="M511.1 691.9L508.4 692.2L509.7 689.7L512.4 689.3Z" fill="#1d9a12"/>
<path d="M411.4 734.7L408.7 733.7L410.1 732.0L412.8 733.0Z" fill="#3f0b89"/>
<path d="M505.8 696.9L503.1 696.9L504.4 694.7L507.1 694.6Z" fill="#038b37"/>
<path d="M434.1 730.6L431.2 729.3L432.7 727.7L435.5 729.0Z" fill="#370b93"/>
<path d="M535.1 668.5L532.3 669.8L533.5 666.3L536.3 665.0Z" fill="#a4a400"/>
<path d="M477.4 711.8L474.9 711.9L476.3 710.2L478.7 710.0Z" fill="#003e6a"/>
<path d="M546.8 639.8L544.0 640.1L545.3 635.5L548.1 635.5Z" fill="#d70c00"/>
<path d="M490.6 706.1L487.9 705.4L489.2 703.5L491.9 704.2Z" fill="#00919b"/>
<path d="M448.4 725.5L445.1 724.8L446.5 723.1L449.8 723.8Z" fill="#1c087b"/>
<path d="M500.6 701.3L497.5 700.8L498.8 698.7L501.9 699.1Z" fill="#009070"/>
<path d="M415.6 734.0L412.8 733.0L414.3 731.3L417.0 732.3Z" fill="#3d0b8c"/>
<path d="M545.5 644.2L542.7 644.8L544.0 640.1L546.8 639.8Z" fill="#d82000"/>
<path d="M438.2 729.6L435.5 729.0L436.9 727.4L439.6 727.9Z" fill="#330a8e"/>
<path d="M521.5 687.2L518.3 686.5L519.6 683.9L522.8 684.6Z" fill="#4db502"/>
<path d="M544.2 648.6L541.4 649.4L542.7 644.8L545.5 644.2Z" fill="#d83300"/>
<path d="M515.8 691.4L512.6 690.7L513.9 688.4L517.1 689.1Z" fill="#2bc10c"/>
<path d="M401.5 738.1L398.8 737.1L400.3 735.3L403.0 736.2Z" fill="#3e0978"/>
<path d="M464.8 718.2L462.5 717.6L463.9 715.9L466.2 716.5Z" fill="#051e79"/>
<path d="M527.2 682.6L524.0 682.0L525.3 679.0L528.5 679.5Z" fill="#68a500"/>
<path d="M481.3 710.4L478.7 710.0L480.1 708.1L482.6 708.5Z" fill="#00587d"/>
<path d="M533.8 672.1L531.0 673.4L532.3 669.8L535.1 668.5Z" fill="#9daa00"/>
<path d="M419.8 733.3L417.0 732.3L418.5 730.6L421.2 731.6Z" fill="#3c0b90"/>
<path d="M468.5 717.1L466.2 716.5L467.5 714.8L469.8 715.4Z" fill="#042576"/>
<path d="M542.9 652.4L540.1 653.4L541.4 649.4L544.2 648.6Z" fill="#d64d00"/>
<path d="M495.0 704.8L491.9 704.2L493.2 702.3L496.3 702.8Z" fill="#009390"/>
<path d="M511.4 693.1L511.1 691.9L512.4 689.3L512.6 690.7Z" fill="#20b416"/>
<path d="M442.3 728.4L439.6 727.9L441.0 726.2L443.7 726.6Z" fill="#2a0984"/>
<path d="M509.8 694.6L507.1 694.6L508.4 692.2L511.1 691.9Z" fill="#0e9a1d"/>
<path d="M405.7 737.2L403.0 736.2L404.5 734.4L407.2 735.4Z" fill="#400a81"/>
<path d="M472.3 715.4L469.8 715.4L471.2 713.7L473.6 713.7Z" fill="#022e71"/>
<path d="M424.1 732.9L421.2 731.6L422.7 729.9L425.5 731.2Z" fill="#3b0b92"/>
<path d="M459.8 721.1L455.9 721.0L457.3 719.3L461.2 719.3Z" fill="#0a0c77"/>
<path d="M485.3 709.2L482.6 708.5L483.9 706.7L486.6 707.3Z" fill="#007999"/>
<path d="M504.6 699.2L501.9 699.1L503.1 696.9L505.8 696.9Z" fill="#028d4f"/>
<path d="M541.7 656.3L538.9 657.5L540.1 653.4L542.9 652.4Z" fill="#d26f00"/>
<path d="M453.1 724.5L449.8 723.8L451.2 722.1L454.5 722.8Z" fill="#150879"/>
<path d="M428.4 732.6L425.5 731.2L427.0 729.6L429.8 730.9Z" fill="#3a0b92"/>
<path d="M532.5 675.2L529.7 676.5L531.0 673.4L533.8 672.1Z" fill="#91ac00"/>
<path d="M409.9 736.4L407.2 735.4L408.7 733.7L411.4 734.7Z" fill="#410b87"/>
<path d="M548.3 641.7L546.8 639.8L548.1 635.5L549.6 636.8Z" fill="#d70e00"/>
<path d="M520.2 689.8L517.1 689.1L518.3 686.5L521.5 687.2Z" fill="#39b103"/>
<path d="M547.0 646.6L545.5 644.2L546.8 639.8L548.3 641.7Z" fill="#db2400"/>
<path d="M476.1 713.6L473.6 713.7L474.9 711.9L477.4 711.8Z" fill="#01386c"/>
<path d="M526.0 685.2L522.8 684.6L524.0 682.0L527.2 682.6Z" fill="#57a200"/>
<path d="M432.7 732.2L429.8 730.9L431.2 729.3L434.1 730.6Z" fill="#380b91"/>
<path d="M499.3 703.4L496.3 702.8L497.5 700.8L500.6 701.3Z" fill="#009181"/>
<path d="M489.3 707.9L486.6 707.3L487.9 705.4L490.6 706.1Z" fill="#00899d"/>
<path d="M540.4 660.2L537.6 661.5L538.9 657.5L541.7 656.3Z" fill="#ce9000"/>
<path d="M545.7 651.5L544.2 648.6L545.5 644.2L547.0 646.6Z" fill="#df3900"/>
<path d="M514.5 693.8L511.4 693.1L512.6 690.7L515.8 691.4Z" fill="#1cbb1a"/>
<path d="M447.0 727.3L443.7 726.6L445.1 724.8L448.4 725.5Z" fill="#21087c"/>
<path d="M414.1 735.7L411.4 734.7L412.8 733.0L415.6 734.0Z" fill="#3f0b8a"/>
<path d="M544.4 655.7L542.9 652.4L544.2 648.6L545.7 651.5Z" fill="#e05700"/>
<path d="M510.1 695.4L509.8 694.6L511.1 691.9L511.4 693.1Z" fill="#0fb022"/>
<path d="M436.8 731.3L434.1 730.6L435.5 729.0L438.2 729.6Z" fill="#340a8c"/>
<path d="M400.0 739.9L397.3 738.9L398.8 737.1L401.5 738.1Z" fill="#3d0871"/>
<path d="M508.6 697.0L505.8 696.9L507.1 694.6L509.8 694.6Z" fill="#059830"/>
<path d="M463.5 719.9L461.2 719.3L462.5 717.6L464.8 718.2Z" fill="#061678"/>
<path d="M480.0 712.2L477.4 711.8L478.7 710.0L481.3 710.4Z" fill="#004f7c"/>
<path d="M539.1 663.7L536.3 665.0L537.6 661.5L540.4 660.2Z" fill="#c9a700"/>
<path d="M493.7 706.8L490.6 706.1L491.9 704.2L495.0 704.8Z" fill="#009199"/>
<path d="M418.3 735.0L415.6 734.0L417.0 732.3L419.8 733.3Z" fill="#3e0b8d"/>
<path d="M531.3 678.3L528.5 679.5L529.7 676.5L532.5 675.2Z" fill="#81a900"/>
<path d="M467.1 718.7L464.8 718.2L466.2 716.5L468.5 717.1Z" fill="#051e76"/>
<path d="M543.2 659.9L541.7 656.3L542.9 652.4L544.4 655.7Z" fill="#de7e00"/>
<path d="M503.3 701.6L500.6 701.3L501.9 699.1L504.6 699.2Z" fill="#018f68"/>
<path d="M404.2 739.1L401.5 738.1L403.0 736.2L405.7 737.2Z" fill="#3f0979"/>
<path d="M440.9 730.2L438.2 729.6L439.6 727.9L442.3 728.4Z" fill="#2d0983"/>
<path d="M470.9 717.1L468.5 717.1L469.8 715.4L472.3 715.4Z" fill="#032772"/>
<path d="M484.0 711.0L481.3 710.4L482.6 708.5L485.3 709.2Z" fill="#006c95"/>
<path d="M422.6 734.6L419.8 733.3L421.2 731.6L424.1 732.9Z" fill="#3d0b8f"/>
<path d="M458.4 722.9L454.5 722.8L455.9 721.0L459.8 721.1Z" fill="#0d0a77"/>
<path d="M524.7 687.9L521.5 687.2L522.8 684.6L526.0 685.2Z" fill="#469f01"/>
<path d="M541.9 664.1L540.4 660.2L541.7 656.3L543.2 659.9Z" fill="#dca500"/>
<path d="M519.0 692.1L515.8 691.4L517.1 689.1L520.2 689.8Z" fill="#28ae0a"/>
<path d="M451.7 726.3L448.4 725.5L449.8 723.8L453.1 724.5Z" fill="#190879"/>
<path d="M537.9 667.2L535.1 668.5L536.3 665.0L539.1 663.7Z" fill="#c3b400"/>
<path d="M426.9 734.2L424.1 732.9L425.5 731.2L428.4 732.6Z" fill="#3c0b90"/>
<path d="M513.3 696.1L510.1 695.4L511.4 693.1L514.5 693.8Z" fill="#0db527"/>
<path d="M408.4 738.2L405.7 737.2L407.2 735.4L409.9 736.4Z" fill="#410a82"/>
<path d="M498.0 705.5L495.0 704.8L496.3 702.8L499.3 703.4Z" fill="#00918b"/>
<path d="M488.0 709.8L485.3 709.2L486.6 707.3L489.3 707.9Z" fill="#007c9a"/>
<path d="M530.0 681.4L527.2 682.6L528.5 679.5L531.3 678.3Z" fill="#72a600"/>
<path d="M474.7 715.4L472.3 715.4L473.6 713.7L476.1 713.6Z" fill="#01326d"/>
<path d="M549.2 650.8L545.7 651.5L547.0 646.6L550.5 645.7Z" fill="#bb3700"/>
<path d="M508.8 697.6L508.6 697.0L509.8 694.6L510.1 695.4Z" fill="#06ab35"/>
<path d="M550.5 645.7L547.0 646.6L548.3 641.7L551.8 640.7Z" fill="#b42200"/>
<path d="M431.2 733.9L428.4 732.6L429.8 730.9L432.7 732.2Z" fill="#3a0b90"/>
<path d="M540.6 667.7L539.1 663.7L540.4 660.2L541.9 664.1Z" fill="#d8be00"/>
<path d="M551.8 640.7L548.3 641.7L549.6 636.8L553.1 635.7Z" fill="#ad0e00"/>
<path d="M547.9 655.1L544.4 655.7L545.7 651.5L549.2 650.8Z" fill="#bf5400"/>
<path d="M445.6 729.1L442.3 728.4L443.7 726.6L447.0 727.3Z" fill="#25097d"/>
<path d="M507.3 699.4L504.6 699.2L505.8 696.9L508.6 697.0Z" fill="#039649"/>
<path d="M412.6 737.4L409.9 736.4L411.4 734.7L414.1 735.7Z" fill="#410b88"/>
<path d="M536.6 670.7L533.8 672.1L535.1 668.5L537.9 667.2Z" fill="#bcc100"/>
<path d="M546.6 659.4L543.2 659.9L544.4 655.7L547.9 655.1Z" fill="#c17a00"/>
<path d="M398.5 741.7L395.8 740.7L397.3 738.9L400.0 739.9Z" fill="#3b0669"/>
<path d="M435.4 733.0L432.7 732.2L434.1 730.6L436.8 731.3Z" fill="#360a8b"/>
<path d="M478.6 714.1L476.1 713.6L477.4 711.8L480.0 712.2Z" fill="#00477c"/>
<path d="M492.4 708.7L489.3 707.9L490.6 706.1L493.7 706.8Z" fill="#008a9c"/>
<path d="M462.1 721.6L459.8 721.1L461.2 719.3L463.5 719.9Z" fill="#081178"/>
<path d="M523.4 690.5L520.2 689.8L521.5 687.2L524.7 687.9Z" fill="#359c02"/>
<path d="M502.0 703.7L499.3 703.4L500.6 701.3L503.3 701.6Z" fill="#00907a"/>
<path d="M416.9 736.7L414.1 735.7L415.6 734.0L418.3 735.0Z" fill="#400b8b"/>
<path d="M465.7 720.4L463.5 719.9L464.8 718.2L467.1 718.7Z" fill="#061877"/>
<path d="M539.3 671.3L537.9 667.2L539.1 663.7L540.6 667.7Z" fill="#d1ca00"/>
<path d="M545.3 663.6L541.9 664.1L543.2 659.9L546.6 659.4Z" fill="#c3a000"/>
<path d="M517.7 694.5L514.5 693.8L515.8 691.4L519.0 692.1Z" fill="#1baa16"/>
<path d="M402.7 740.9L400.0 739.9L401.5 738.1L404.2 739.1Z" fill="#3e0872"/>
<path d="M439.5 731.9L436.8 731.3L438.2 729.6L440.9 730.2Z" fill="#300983"/>
<path d="M528.7 684.2L526.0 685.2L527.2 682.6L530.0 681.4Z" fill="#61a400"/>
<path d="M482.7 712.8L480.0 712.2L481.3 710.4L484.0 711.0Z" fill="#006092"/>
<path d="M469.6 718.9L467.1 718.7L468.5 717.1L470.9 717.1Z" fill="#042174"/>
<path d="M535.3 673.9L532.5 675.2L533.8 672.1L536.6 670.7Z" fill="#b1c600"/>
<path d="M457.0 724.7L453.1 724.5L454.5 722.8L458.4 722.9Z" fill="#110978"/>
<path d="M421.2 736.3L418.3 735.0L419.8 733.3L422.6 734.6Z" fill="#3e0b8d"/>
<path d="M512.0 698.3L508.8 697.6L510.1 695.4L513.3 696.1Z" fill="#05b03a"/>
<path d="M544.1 667.3L540.6 667.7L541.9 664.1L545.3 663.6Z" fill="#c1b700"/>
<path d="M450.4 728.0L447.0 727.3L448.4 725.5L451.7 726.3Z" fill="#1e0879"/>
<path d="M496.7 707.5L493.7 706.8L495.0 704.8L498.0 705.5Z" fill="#009096"/>
<path d="M507.6 699.8L507.3 699.4L508.6 697.0L508.8 697.6Z" fill="#03a54e"/>
<path d="M538.1 674.9L536.6 670.7L537.9 667.2L539.3 671.3Z" fill="#cad500"/>
<path d="M406.9 740.1L404.2 739.1L405.7 737.2L408.4 738.2Z" fill="#3f097a"/>
<path d="M425.5 735.9L422.6 734.6L424.1 732.9L426.9 734.2Z" fill="#3d0b8e"/>
<path d="M486.7 711.6L484.0 711.0L485.3 709.2L488.0 709.8Z" fill="#006f97"/>
<path d="M506.0 701.8L503.3 701.6L504.6 699.2L507.3 699.4Z" fill="#019462"/>
<path d="M473.4 717.2L470.9 717.1L472.3 715.4L474.7 715.4Z" fill="#022d70"/>
<path d="M429.8 735.5L426.9 734.2L428.4 732.6L431.2 733.9Z" fill="#3c0b8e"/>
<path d="M444.2 730.8L440.9 730.2L442.3 728.4L445.6 729.1Z" fill="#29097d"/>
<path d="M542.8 671.0L539.3 671.3L540.6 667.7L544.1 667.3Z" fill="#bcc000"/>
<path d="M522.2 692.9L519.0 692.1L520.2 689.8L523.4 690.5Z" fill="#269a08"/>
<path d="M411.2 739.2L408.4 738.2L409.9 736.4L412.6 737.4Z" fill="#410a83"/>
<path d="M534.1 677.0L531.3 678.3L532.5 675.2L535.3 673.9Z" fill="#a1c300"/>
<path d="M397.0 743.5L394.3 742.5L395.8 740.7L398.5 741.7Z" fill="#390560"/>
<path d="M527.5 686.9L524.7 687.9L526.0 685.2L528.7 684.2Z" fill="#50a101"/>
<path d="M500.7 705.8L498.0 705.5L499.3 703.4L502.0 703.7Z" fill="#009085"/>
<path d="M477.3 715.9L474.7 715.4L476.1 713.6L478.6 714.1Z" fill="#013f7b"/>
<path d="M491.0 710.5L488.0 709.8L489.3 707.9L492.4 708.7Z" fill="#007d99"/>
<path d="M516.5 696.8L513.3 696.1L514.5 693.8L517.7 694.5Z" fill="#0da722"/>
<path d="M433.9 734.7L431.2 733.9L432.7 732.2L435.4 733.0Z" fill="#380a8a"/>
<path d="M460.7 723.4L458.4 722.9L459.8 721.1L462.1 721.6Z" fill="#0b0d78"/>
<path d="M536.8 678.0L535.3 673.9L536.6 670.7L538.1 674.9Z" fill="#bdda00"/>
<path d="M464.4 722.1L462.1 721.6L463.5 719.9L465.7 720.4Z" fill="#071278"/>
<path d="M415.4 738.4L412.6 737.4L414.1 735.7L416.9 736.7Z" fill="#420b88"/>
<path d="M541.5 674.6L538.1 674.9L539.3 671.3L542.8 671.0Z" fill="#b6c900"/>
<path d="M510.7 700.5L507.6 699.8L508.8 697.6L512.0 698.3Z" fill="#03aa52"/>
<path d="M401.2 742.7L398.5 741.7L400.0 739.9L402.7 740.9Z" fill="#3c066a"/>
<path d="M481.3 714.6L478.6 714.1L480.0 712.2L482.7 712.8Z" fill="#00558f"/>
<path d="M438.1 733.7L435.4 733.0L436.8 731.3L439.5 731.9Z" fill="#320982"/>
<path d="M506.3 702.0L506.0 701.8L507.3 699.4L507.6 699.8Z" fill="#019f66"/>
<path d="M468.2 720.6L465.7 720.4L467.1 718.7L469.6 718.9Z" fill="#051b76"/>
<path d="M455.7 726.5L451.7 726.3L453.1 724.5L457.0 724.7Z" fill="#150878"/>
<path d="M419.7 738.0L416.9 736.7L418.3 735.0L421.2 736.3Z" fill="#400b8b"/>
<path d="M495.4 709.4L492.4 708.7L493.7 706.8L496.7 707.5Z" fill="#008999"/>
<path d="M504.7 703.9L502.0 703.7L503.3 701.6L506.0 701.8Z" fill="#009274"/>
<path d="M532.8 680.2L530.0 681.4L531.3 678.3L534.1 677.0Z" fill="#91c100"/>
<path d="M449.0 729.8L445.6 729.1L447.0 727.3L450.4 728.0Z" fill="#220879"/>
<path d="M405.5 741.9L402.7 740.9L404.2 739.1L406.9 740.1Z" fill="#3e0873"/>
<path d="M535.6 681.0L534.1 677.0L535.3 673.9L536.8 678.0Z" fill="#abd700"/>
<path d="M485.4 713.4L482.7 712.8L484.0 711.0L486.7 711.6Z" fill="#006494"/>
<path d="M424.0 737.6L421.2 736.3L422.6 734.6L425.5 735.9Z" fill="#3f0b8c"/>
<path d="M552.7 650.0L549.2 650.8L550.5 645.7L554.0 644.9Z" fill="#872500"/>
<path d="M520.9 695.2L517.7 694.5L519.0 692.1L522.2 692.9Z" fill="#199912"/>
<path d="M526.2 689.7L523.4 690.5L524.7 687.9L527.5 686.9Z" fill="#409e01"/>
<path d="M472.0 719.0L469.6 718.9L470.9 717.1L473.4 717.2Z" fill="#032773"/>
<path d="M551.4 654.4L547.9 655.1L549.2 650.8L552.7 650.0Z" fill="#8b3a00"/>
<path d="M554.0 644.9L550.5 645.7L551.8 640.7L555.3 639.7Z" fill="#821700"/>
<path d="M540.3 677.8L536.8 678.0L538.1 674.9L541.5 674.6Z" fill="#aacc00"/>
<path d="M555.3 639.7L551.8 640.7L553.1 635.7L556.6 634.6Z" fill="#7e0900"/>
<path d="M442.8 732.6L439.5 731.9L440.9 730.2L444.2 730.8Z" fill="#2c097c"/>
<path d="M428.3 737.2L425.5 735.9L426.9 734.2L429.8 735.5Z" fill="#3e0b8d"/>
<path d="M515.2 699.0L512.0 698.3L513.3 696.1L516.5 696.8Z" fill="#05a333"/>
<path d="M550.1 658.8L546.6 659.4L547.9 655.1L551.4 654.4Z" fill="#8e5600"/>
<path d="M409.7 741.1L406.9 740.1L408.4 738.2L411.2 739.2Z" fill="#40097b"/>
<path d="M499.4 707.9L496.7 707.5L498.0 705.5L500.7 705.8Z" fill="#008f90"/>
<path d="M395.5 745.3L392.8 744.3L394.3 742.5L397.0 743.5Z" fill="#370357"/>
<path d="M489.7 712.4L486.7 711.6L488.0 709.8L491.0 710.5Z" fill="#007196"/>
<path d="M476.0 717.7L473.4 717.2L474.7 715.4L477.3 715.9Z" fill="#02377c"/>
<path d="M548.8 663.2L545.3 663.6L546.6 659.4L550.1 658.8Z" fill="#917200"/>
<path d="M459.3 725.2L457.0 724.7L458.4 722.9L460.7 723.4Z" fill="#0e0a78"/>
<path d="M432.5 736.4L429.8 735.5L431.2 733.9L433.9 734.7Z" fill="#3a0a89"/>
<path d="M531.6 683.1L528.7 684.2L530.0 681.4L532.8 680.2Z" fill="#80be00"/>
<path d="M509.4 702.7L506.3 702.0L507.6 699.8L510.7 700.5Z" fill="#01a56a"/>
<path d="M534.3 684.1L532.8 680.2L534.1 677.0L535.6 681.0Z" fill="#98d400"/>
<path d="M463.0 723.9L460.7 723.4L462.1 721.6L464.4 722.1Z" fill="#0a0e79"/>
<path d="M413.9 740.3L411.2 739.2L412.6 737.4L415.4 738.4Z" fill="#420b84"/>
<path d="M505.0 704.1L504.7 703.9L506.0 701.8L506.3 702.0Z" fill="#009b78"/>
<path d="M539.0 680.9L535.6 681.0L536.8 678.0L540.3 677.8Z" fill="#98ca00"/>
<path d="M399.7 744.5L397.0 743.5L398.5 741.7L401.2 742.7Z" fill="#390561"/>
<path d="M480.0 716.4L477.3 715.9L478.6 714.1L481.3 714.6Z" fill="#014b8c"/>
<path d="M547.5 666.9L544.1 667.3L545.3 663.6L548.8 663.2Z" fill="#938600"/>
<path d="M436.6 735.5L433.9 734.7L435.4 733.0L438.1 733.7Z" fill="#340a80"/>
<path d="M503.4 706.1L500.7 705.8L502.0 703.7L504.7 703.9Z" fill="#008f7e"/>
<path d="M466.8 722.4L464.4 722.1L465.7 720.4L468.2 720.6Z" fill="#071678"/>
<path d="M454.3 728.4L450.4 728.0L451.7 726.3L455.7 726.5Z" fill="#190878"/>
<path d="M525.0 692.2L522.2 692.9L523.4 690.5L526.2 689.7Z" fill="#309d06"/>
<path d="M494.1 711.3L491.0 710.5L492.4 708.7L495.4 709.4Z" fill="#007d96"/>
<path d="M418.2 739.7L415.4 738.4L416.9 736.7L419.7 738.0Z" fill="#420b89"/>
<path d="M519.7 697.6L516.5 696.8L517.7 694.5L520.9 695.2Z" fill="#0d981c"/>
<path d="M447.5 731.5L444.2 730.8L445.6 729.1L449.0 729.8Z" fill="#260879"/>
<path d="M404.0 743.7L401.2 742.7L402.7 740.9L405.5 741.9Z" fill="#3c076a"/>
<path d="M484.0 715.1L481.3 714.6L482.7 712.8L485.4 713.4Z" fill="#005a91"/>
<path d="M422.6 739.3L419.7 738.0L421.2 736.3L424.0 737.6Z" fill="#410b8a"/>
<path d="M546.2 670.7L542.8 671.0L544.1 667.3L547.5 666.9Z" fill="#929200"/>
<path d="M470.7 720.8L468.2 720.6L469.6 718.9L472.0 719.0Z" fill="#042177"/>
<path d="M513.9 701.2L510.7 700.5L512.0 698.3L515.2 699.0Z" fill="#03a04a"/>
<path d="M530.3 686.0L527.5 686.9L528.7 684.2L531.6 683.1Z" fill="#6dba00"/>
<path d="M533.0 686.8L531.6 683.1L532.8 680.2L534.3 684.1Z" fill="#84d000"/>
<path d="M537.7 684.1L534.3 684.1L535.6 681.0L539.0 680.9Z" fill="#85c800"/>
<path d="M498.1 709.8L495.4 709.4L496.7 707.5L499.4 707.9Z" fill="#008894"/>
<path d="M441.4 734.4L438.1 733.7L439.5 731.9L442.8 732.6Z" fill="#2e097b"/>
<path d="M426.9 738.9L424.0 737.6L425.5 735.9L428.3 737.2Z" fill="#400b8b"/>
<path d="M408.2 742.9L405.5 741.9L406.9 740.1L409.7 741.1Z" fill="#3f0874"/>
<path d="M488.4 714.1L485.4 713.4L486.7 711.6L489.7 712.4Z" fill="#006693"/>
<path d="M508.2 704.8L505.0 704.1L506.3 702.0L509.4 702.7Z" fill="#00a17c"/>
<path d="M474.6 719.5L472.0 719.0L473.4 717.2L476.0 717.7Z" fill="#032f7d"/>
<path d="M458.0 727.0L455.7 726.5L457.0 724.7L459.3 725.2Z" fill="#110879"/>
<path d="M545.0 674.4L541.5 674.6L542.8 671.0L546.2 670.7Z" fill="#929d00"/>
<path d="M503.7 706.2L503.4 706.1L504.7 703.9L505.0 704.1Z" fill="#009884"/>
<path d="M431.1 738.2L428.3 737.2L429.8 735.5L432.5 736.4Z" fill="#3c0b87"/>
<path d="M523.7 694.7L520.9 695.2L522.2 692.9L525.0 692.2Z" fill="#219c0d"/>
<path d="M461.6 725.6L459.3 725.2L460.7 723.4L463.0 723.9Z" fill="#0c0a7a"/>
<path d="M412.4 742.1L409.7 741.1L411.2 739.2L413.9 740.3Z" fill="#40097c"/>
<path d="M502.1 708.3L499.4 707.9L500.7 705.8L503.4 706.1Z" fill="#008d89"/>
<path d="M398.2 746.4L395.5 745.3L397.0 743.5L399.7 744.5Z" fill="#370358"/>
<path d="M478.7 718.2L476.0 717.7L477.3 715.9L480.0 716.4Z" fill="#01418a"/>
<path d="M518.4 699.8L515.2 699.0L516.5 696.8L519.7 697.6Z" fill="#05972c"/>
<path d="M435.2 737.3L432.5 736.4L433.9 734.7L436.6 735.5Z" fill="#360a7f"/>
<path d="M529.0 688.9L526.2 689.7L527.5 686.9L530.3 686.0Z" fill="#5ab700"/>
<path d="M492.8 713.1L489.7 712.4L491.0 710.5L494.1 711.3Z" fill="#007093"/>
<path d="M465.5 724.2L463.0 723.9L464.4 722.1L466.8 722.4Z" fill="#09107a"/>
<path d="M452.9 730.2L449.0 729.8L450.4 728.0L454.3 728.4Z" fill="#1e0878"/>
<path d="M531.8 689.5L530.3 686.0L531.6 683.1L533.0 686.8Z" fill="#6ecb00"/>
<path d="M536.5 686.8L533.0 686.8L534.3 684.1L537.7 684.1Z" fill="#71c400"/>
<path d="M416.8 741.6L413.9 740.3L415.4 738.4L418.2 739.7Z" fill="#420a84"/>
<path d="M543.7 677.6L540.3 677.8L541.5 674.6L545.0 674.4Z" fill="#8ba400"/>
<path d="M446.1 733.3L442.8 732.6L444.2 730.8L447.5 731.5Z" fill="#280878"/>
<path d="M512.6 703.4L509.4 702.7L510.7 700.5L513.9 701.2Z" fill="#019d61"/>
<path d="M402.5 745.6L399.7 744.5L401.2 742.7L404.0 743.7Z" fill="#3a0561"/>
<path d="M556.2 649.3L552.7 650.0L554.0 644.9L557.5 644.0Z" fill="#521200"/>
<path d="M482.7 716.9L480.0 716.4L481.3 714.6L484.0 715.1Z" fill="#004f8e"/>
<path d="M554.9 653.8L551.4 654.4L552.7 650.0L556.2 649.3Z" fill="#561f00"/>
<path d="M557.5 644.0L554.0 644.9L555.3 639.7L558.9 638.7Z" fill="#500b00"/>
<path d="M469.3 722.6L466.8 722.4L468.2 720.6L470.7 720.8Z" fill="#061a7a"/>
<path d="M421.1 741.0L418.2 739.7L419.7 738.0L422.6 739.3Z" fill="#430b88"/>
<path d="M553.6 658.2L550.1 658.8L551.4 654.4L554.9 653.8Z" fill="#5b3200"/>
<path d="M558.9 638.7L555.3 639.7L556.6 634.6L560.2 633.5Z" fill="#4e0400"/>
<path d="M496.8 711.7L494.1 711.3L495.4 709.4L498.1 709.8Z" fill="#007c91"/>
<path d="M440.0 736.2L436.6 735.5L438.1 733.7L441.4 734.4Z" fill="#30097a"/>
<path d="M506.9 706.9L503.7 706.2L505.0 704.1L508.2 704.8Z" fill="#009f89"/>
<path d="M406.7 744.7L404.0 743.7L405.5 741.9L408.2 742.9Z" fill="#3d076b"/>
<path d="M552.3 662.7L548.8 663.2L550.1 658.8L553.6 658.2Z" fill="#604500"/>
<path d="M425.4 740.6L422.6 739.3L424.0 737.6L426.9 738.9Z" fill="#420b8a"/>
<path d="M522.4 697.2L519.7 697.6L520.9 695.2L523.7 694.7Z" fill="#129b15"/>
<path d="M487.1 715.9L484.0 715.1L485.4 713.4L488.4 714.1Z" fill="#005c90"/>
<path d="M502.4 708.3L502.1 708.3L503.4 706.1L503.7 706.2Z" fill="#00968f"/>
<path d="M473.3 721.3L470.7 720.8L472.0 719.0L474.6 719.5Z" fill="#04287f"/>
<path d="M542.5 680.8L539.0 680.9L540.3 677.8L543.7 677.6Z" fill="#7fa400"/>
<path d="M456.6 728.8L454.3 728.4L455.7 726.5L458.0 727.0Z" fill="#160879"/>
<path d="M527.8 691.5L525.0 692.2L526.2 689.7L529.0 688.9Z" fill="#46b403"/>
<path d="M530.5 692.2L529.0 688.9L530.3 686.0L531.8 689.5Z" fill="#59c601"/>
<path d="M535.2 689.6L531.8 689.5L533.0 686.8L536.5 686.8Z" fill="#5cbf01"/>
<path d="M429.6 739.9L426.9 738.9L428.3 737.2L431.1 738.2Z" fill="#3e0b86"/>
<path d="M500.8 710.2L498.1 709.8L499.4 707.9L502.1 708.3Z" fill="#00868e"/>
<path d="M517.1 701.9L513.9 701.2L515.2 699.0L518.4 699.8Z" fill="#039642"/>
<path d="M551.0 666.5L547.5 666.9L548.8 663.2L552.3 662.7Z" fill="#655500"/>
<path d="M410.9 743.9L408.2 742.9L409.7 741.1L412.4 742.1Z" fill="#3f0875"/>
<path d="M460.2 727.4L458.0 727.0L459.3 725.2L461.6 725.6Z" fill="#10087b"/>
<path d="M477.3 720.0L474.6 719.5L476.0 717.7L478.7 718.2Z" fill="#023889"/>
<path d="M491.5 714.9L488.4 714.1L489.7 712.4L492.8 713.1Z" fill="#006590"/>
<path d="M433.8 739.1L431.1 738.2L432.5 736.4L435.2 737.3Z" fill="#380a7e"/>
<path d="M464.1 726.0L461.6 725.6L463.0 723.9L465.5 724.2Z" fill="#0b0b7d"/>
<path d="M451.5 732.1L447.5 731.5L449.0 729.8L452.9 730.2Z" fill="#220878"/>
<path d="M511.3 705.5L508.2 704.8L509.4 702.7L512.6 703.4Z" fill="#009b73"/>
<path d="M415.3 743.4L412.4 742.1L413.9 740.3L416.8 741.6Z" fill="#41097c"/>
<path d="M549.7 670.3L546.2 670.7L547.5 666.9L551.0 666.5Z" fill="#696400"/>
<path d="M444.7 735.0L441.4 734.4L442.8 732.6L446.1 733.3Z" fill="#2b0978"/>
<path d="M541.2 684.1L537.7 684.1L539.0 680.9L542.5 680.8Z" fill="#72a500"/>
<path d="M401.0 747.4L398.2 746.4L399.7 744.5L402.5 745.6Z" fill="#380358"/>
<path d="M481.4 718.7L478.7 718.2L480.0 716.4L482.7 716.9Z" fill="#01458c"/>
<path d="M468.0 724.5L465.5 724.2L466.8 722.4L469.3 722.6Z" fill="#07147c"/>
<path d="M419.6 742.9L416.8 741.6L418.2 739.7L421.1 741.0Z" fill="#430a83"/>
<path d="M495.5 713.6L492.8 713.1L494.1 711.3L496.8 711.7Z" fill="#00708e"/>
<path d="M505.6 709.0L502.4 708.3L503.7 706.2L506.9 706.9Z" fill="#009e95"/>
<path d="M521.2 699.5L518.4 699.8L519.7 697.6L522.4 697.2Z" fill="#099b24"/>
<path d="M529.3 694.6L527.8 691.5L529.0 688.9L530.5 692.2Z" fill="#44c205"/>
<path d="M526.5 694.2L523.7 694.7L525.0 692.2L527.8 691.5Z" fill="#32b308"/>
<path d="M534.0 692.3L530.5 692.2L531.8 689.5L535.2 689.6Z" fill="#48ba01"/>
<path d="M548.5 674.2L545.0 674.4L546.2 670.7L549.7 670.3Z" fill="#6d7200"/>
<path d="M438.5 738.0L435.2 737.3L436.6 735.5L440.0 736.2Z" fill="#320979"/>
<path d="M405.2 746.6L402.5 745.6L404.0 743.7L406.7 744.7Z" fill="#3b0562"/>
<path d="M501.1 710.2L500.8 710.2L502.1 708.3L502.4 708.3Z" fill="#008f94"/>
<path d="M424.0 742.4L421.1 741.0L422.6 739.3L425.4 740.6Z" fill="#440b88"/>
<path d="M485.7 717.7L482.7 716.9L484.0 715.1L487.1 715.9Z" fill="#00518d"/>
<path d="M471.9 723.2L469.3 722.6L470.7 720.8L473.3 721.3Z" fill="#052080"/>
<path d="M515.8 704.1L512.6 703.4L513.9 701.2L517.1 701.9Z" fill="#019658"/>
<path d="M455.2 730.6L452.9 730.2L454.3 728.4L456.6 728.8Z" fill="#1b087a"/>
<path d="M499.5 712.1L496.8 711.7L498.1 709.8L500.8 710.2Z" fill="#007b8b"/>
<path d="M428.2 741.7L425.4 740.6L426.9 738.9L429.6 739.9Z" fill="#400a84"/>
<path d="M539.9 686.9L536.5 686.8L537.7 684.1L541.2 684.1Z" fill="#63a400"/>
<path d="M409.5 745.8L406.7 744.7L408.2 742.9L410.9 743.9Z" fill="#3d076c"/>
<path d="M458.9 729.2L456.6 728.8L458.0 727.0L460.2 727.4Z" fill="#15087c"/>
<path d="M476.0 721.8L473.3 721.3L474.6 719.5L477.3 720.0Z" fill="#042e88"/>
<path d="M547.2 677.4L543.7 677.6L545.0 674.4L548.5 674.2Z" fill="#6c7b00"/>
<path d="M510.1 707.7L506.9 706.9L508.2 704.8L511.3 705.5Z" fill="#009b82"/>
<path d="M490.1 716.7L487.1 715.9L488.4 714.1L491.5 714.9Z" fill="#005b8c"/>
<path d="M432.3 741.0L429.6 739.9L431.1 738.2L433.8 739.1Z" fill="#390a7c"/>
<path d="M462.7 727.8L460.2 727.4L461.6 725.6L464.1 726.0Z" fill="#0e097e"/>
<path d="M450.1 733.9L446.1 733.3L447.5 731.5L451.5 732.1Z" fill="#260878"/>
<path d="M413.8 745.3L410.9 743.9L412.4 742.1L415.3 743.4Z" fill="#400874"/>
<path d="M525.2 696.8L522.4 697.2L523.7 694.7L526.5 694.2Z" fill="#1eb10d"/>
<path d="M532.7 694.8L529.3 694.6L530.5 692.2L534.0 692.3Z" fill="#35b606"/>
<path d="M528.0 697.0L526.5 694.2L527.8 691.5L529.3 694.6Z" fill="#2fbe0c"/>
<path d="M443.3 736.8L440.0 736.2L441.4 734.4L444.7 735.0Z" fill="#2e0977"/>
<path d="M480.0 720.5L477.3 720.0L478.7 718.2L481.4 718.7Z" fill="#023c8a"/>
<path d="M519.9 701.9L517.1 701.9L518.4 699.8L521.2 699.5Z" fill="#069b39"/>
<path d="M466.6 726.3L464.1 726.0L465.5 724.2L468.0 724.5Z" fill="#090d7f"/>
<path d="M504.3 711.0L501.1 710.2L502.4 708.3L505.6 709.0Z" fill="#00989c"/>
<path d="M418.2 744.8L415.3 743.4L416.8 741.6L419.6 742.9Z" fill="#42097b"/>
<path d="M494.2 715.3L491.5 714.9L492.8 713.1L495.5 713.6Z" fill="#00658b"/>
<path d="M545.9 680.7L542.5 680.8L543.7 677.6L547.2 677.4Z" fill="#667f00"/>
<path d="M499.8 712.1L499.5 712.1L500.8 710.2L501.1 710.2Z" fill="#008594"/>
<path d="M538.7 689.7L535.2 689.6L536.5 686.8L539.9 686.9Z" fill="#53a100"/>
<path d="M437.1 739.8L433.8 739.1L435.2 737.3L438.5 738.0Z" fill="#340978"/>
<path d="M514.6 706.3L511.3 705.5L512.6 703.4L515.8 704.1Z" fill="#00966b"/>
<path d="M403.7 748.4L401.0 747.4L402.5 745.6L405.2 746.6Z" fill="#380459"/>
<path d="M470.5 725.0L468.0 724.5L469.3 722.6L471.9 723.2Z" fill="#061881"/>
<path d="M422.5 744.2L419.6 742.9L421.1 741.0L424.0 742.4Z" fill="#440a83"/>
<path d="M484.4 719.4L481.4 718.7L482.7 716.9L485.7 717.7Z" fill="#01488b"/>
<path d="M453.8 732.5L451.5 732.1L452.9 730.2L455.2 730.6Z" fill="#1f087a"/>
<path d="M498.2 714.0L495.5 713.6L496.8 711.7L499.5 712.1Z" fill="#007089"/>
<path d="M408.0 747.6L405.2 746.6L406.7 744.7L409.5 745.8Z" fill="#3b0563"/>
<path d="M426.7 743.5L424.0 742.4L425.4 740.6L428.2 741.7Z" fill="#410a82"/>
<path d="M457.5 731.0L455.2 730.6L456.6 728.8L458.9 729.2Z" fill="#19087c"/>
<path d="M508.8 709.8L505.6 709.0L506.9 706.9L510.1 707.7Z" fill="#009b90"/>
<path d="M474.6 723.6L471.9 723.2L473.3 721.3L476.0 721.8Z" fill="#052587"/>
<path d="M526.7 699.4L525.2 696.8L526.5 694.2L528.0 697.0Z" fill="#1bba13"/>
<path d="M523.9 699.3L521.2 699.5L522.4 697.2L525.2 696.8Z" fill="#11af1a"/>
<path d="M544.7 684.0L541.2 684.1L542.5 680.8L545.9 680.7Z" fill="#5f8200"/>
<path d="M531.4 697.2L528.0 697.0L529.3 694.6L532.7 694.8Z" fill="#24b210"/>
<path d="M488.8 718.4L485.7 717.7L487.1 715.9L490.1 716.7Z" fill="#005189"/>
<path d="M430.9 742.8L428.2 741.7L429.6 739.9L432.3 741.0Z" fill="#3b0a7a"/>
<path d="M461.3 729.6L458.9 729.2L460.2 727.4L462.7 727.8Z" fill="#13097e"/>
<path d="M448.7 735.8L444.7 735.0L446.1 733.3L450.1 733.9Z" fill="#2a0878"/>
<path d="M412.3 747.2L409.5 745.8L410.9 743.9L413.8 745.3Z" fill="#3e066c"/>
<path d="M518.6 704.2L515.8 704.1L517.1 701.9L519.9 701.9Z" fill="#029b4f"/>
<path d="M537.4 692.5L534.0 692.3L535.2 689.6L538.7 689.7Z" fill="#439f01"/>
<path d="M441.9 738.6L438.5 738.0L440.0 736.2L443.3 736.8Z" fill="#2f0976"/>
<path d="M478.7 722.2L476.0 721.8L477.3 720.0L480.0 720.5Z" fill="#033389"/>
<path d="M503.0 713.0L499.8 712.1L501.1 710.2L504.3 711.0Z" fill="#008f9e"/>
<path d="M465.2 728.2L462.7 727.8L464.1 726.0L466.6 726.3Z" fill="#0c0981"/>
<path d="M416.7 746.7L413.8 745.3L415.3 743.4L418.2 744.8Z" fill="#400773"/>
<path d="M492.8 717.1L490.1 716.7L491.5 714.9L494.2 715.3Z" fill="#005c89"/>
<path d="M513.3 708.4L510.1 707.7L511.3 705.5L514.6 706.3Z" fill="#00977b"/>
<path d="M498.5 714.1L498.2 714.0L499.5 712.1L499.8 712.1Z" fill="#007b94"/>
<path d="M435.6 741.6L432.3 741.0L433.8 739.1L437.1 739.8Z" fill="#360976"/>
<path d="M543.4 686.9L539.9 686.9L541.2 684.1L544.7 684.0Z" fill="#568400"/>
<path d="M469.2 726.9L466.6 726.3L468.0 724.5L470.5 725.0Z" fill="#080f82"/>
<path d="M421.0 746.1L418.2 744.8L419.6 742.9L422.5 744.2Z" fill="#42097a"/>
<path d="M483.1 721.2L480.0 720.5L481.4 718.7L484.4 719.4Z" fill="#023f89"/>
<path d="M452.4 734.3L450.1 733.9L451.5 732.1L453.8 732.5Z" fill="#24087b"/>
<path d="M496.9 715.7L494.2 715.3L495.5 713.6L498.2 714.0Z" fill="#006687"/>
<path d="M525.5 701.6L523.9 699.3L525.2 696.8L526.7 699.4Z" fill="#0eb722"/>
<path d="M522.7 701.8L519.9 701.9L521.2 699.5L523.9 699.3Z" fill="#0aae30"/>
<path d="M530.2 699.7L526.7 699.4L528.0 697.0L531.4 697.2Z" fill="#13ae19"/>
<path d="M507.5 711.8L504.3 711.0L505.6 709.0L508.8 709.8Z" fill="#009699"/>
<path d="M406.5 749.5L403.7 748.4L405.2 746.6L408.0 747.6Z" fill="#39045a"/>
<path d="M456.1 732.8L453.8 732.5L455.2 730.6L457.5 731.0Z" fill="#1e087c"/>
<path d="M425.2 745.4L422.5 744.2L424.0 742.4L426.7 743.5Z" fill="#41097d"/>
<path d="M536.2 695.0L532.7 694.8L534.0 692.3L537.4 692.5Z" fill="#339c04"/>
<path d="M473.2 725.4L470.5 725.0L471.9 723.2L474.6 723.6Z" fill="#061c86"/>
<path d="M517.3 706.4L514.6 706.3L515.8 704.1L518.6 704.2Z" fill="#009b63"/>
<path d="M487.5 720.2L484.4 719.4L485.7 717.7L488.8 718.4Z" fill="#004887"/>
<path d="M459.9 731.5L457.5 731.0L458.9 729.2L461.3 729.6Z" fill="#18097f"/>
<path d="M429.4 744.6L426.7 743.5L428.2 741.7L430.9 742.8Z" fill="#3c0977"/>
<path d="M447.2 737.6L443.3 736.8L444.7 735.0L448.7 735.8Z" fill="#2c0978"/>
<path d="M410.8 749.0L408.0 747.6L409.5 745.8L412.3 747.2Z" fill="#3b0563"/>
<path d="M501.7 714.9L498.5 714.1L499.8 712.1L503.0 713.0Z" fill="#0086a0"/>
<path d="M542.2 689.7L538.7 689.7L539.9 686.9L543.4 686.9Z" fill="#4a8400"/>
<path d="M440.4 740.4L437.1 739.8L438.5 738.0L441.9 738.6Z" fill="#310974"/>
<path d="M555.6 657.5L551.0 666.5L552.3 662.7L556.9 652.3Z" fill="#5b2f00"/>
<path d="M556.9 652.3L552.3 662.7L553.6 658.2L558.3 645.7Z" fill="#521f00"/>
<path d="M477.3 724.1L474.6 723.6L476.0 721.8L478.7 722.2Z" fill="#042a88"/>
<path d="M512.0 710.5L508.8 709.8L510.1 707.7L513.3 708.4Z" fill="#00988b"/>
<path d="M463.8 730.0L461.3 729.6L462.7 727.8L465.2 728.2Z" fill="#110981"/>
<path d="M415.2 748.5L412.3 747.2L413.8 745.3L416.7 746.7Z" fill="#3e066a"/>
<path d="M554.3 662.7L549.7 670.3L551.0 666.5L555.6 657.5Z" fill="#634500"/>
<path d="M491.5 718.8L488.8 718.4L490.1 716.7L492.8 717.1Z" fill="#005286"/>
<path d="M497.2 715.9L496.9 715.7L498.2 714.0L498.5 714.1Z" fill="#007294"/>
<path d="M558.3 645.7L553.6 658.2L554.9 653.8L559.7 639.1Z" fill="#481500"/>
<path d="M552.9 667.9L548.5 674.2L549.7 670.3L554.3 662.7Z" fill="#6a5b00"/>
<path d="M434.2 743.4L430.9 742.8L432.3 741.0L435.6 741.6Z" fill="#370974"/>
<path d="M521.4 704.2L518.6 704.2L519.9 701.9L522.7 701.8Z" fill="#03ac46"/>
<path d="M524.2 703.9L522.7 701.8L523.9 699.3L525.5 701.6Z" fill="#09b338"/>
<path d="M467.8 728.7L465.2 728.2L466.6 726.3L469.2 726.9Z" fill="#0b0b82"/>
<path d="M528.9 702.0L525.5 701.6L526.7 699.4L530.2 699.7Z" fill="#08aa28"/>
<path d="M419.6 748.0L416.7 746.7L418.2 744.8L421.0 746.1Z" fill="#400772"/>
<path d="M559.7 639.1L554.9 653.8L556.2 649.3L561.1 632.5Z" fill="#3e0b00"/>
<path d="M481.7 723.0L478.7 722.2L480.0 720.5L483.1 721.2Z" fill="#033688"/>
<path d="M450.9 736.1L448.7 735.8L450.1 733.9L452.4 734.3Z" fill="#29097b"/>
<path d="M534.9 697.5L531.4 697.2L532.7 694.8L536.2 695.0Z" fill="#239a0b"/>
<path d="M506.2 713.8L503.0 713.0L504.3 711.0L507.5 711.8Z" fill="#008e9b"/>
<path d="M495.6 717.5L492.8 717.1L494.2 715.3L496.9 715.7Z" fill="#005d85"/>
<path d="M551.6 672.0L547.2 677.4L548.5 674.2L552.9 667.9Z" fill="#6e6b00"/>
<path d="M423.8 747.3L421.0 746.1L422.5 744.2L425.2 745.4Z" fill="#400875"/>
<path d="M454.7 734.7L452.4 734.3L453.8 732.5L456.1 732.8Z" fill="#23097d"/>
<path d="M516.0 708.6L513.3 708.4L514.6 706.3L517.3 706.4Z" fill="#009b76"/>
<path d="M540.9 692.6L537.4 692.5L538.7 689.7L542.2 689.7Z" fill="#3e8300"/>
<path d="M471.9 727.3L469.2 726.9L470.5 725.0L473.2 725.4Z" fill="#071485"/>
<path d="M561.1 632.5L556.2 649.3L557.5 644.0L562.6 624.2Z" fill="#360500"/>
<path d="M458.5 733.3L456.1 732.8L457.5 731.0L459.9 731.5Z" fill="#1c097f"/>
<path d="M486.1 721.9L483.1 721.2L484.4 719.4L487.5 720.2Z" fill="#014086"/>
<path d="M445.8 739.5L441.9 738.6L443.3 736.8L447.2 737.6Z" fill="#2e0977"/>
<path d="M428.0 746.5L425.2 745.4L426.7 743.5L429.4 744.6Z" fill="#3c0972"/>
<path d="M409.3 750.9L406.5 749.5L408.0 747.6L410.8 749.0Z" fill="#390359"/>
<path d="M550.3 676.1L545.9 680.7L547.2 677.4L551.6 672.0Z" fill="#6c7400"/>
<path d="M500.4 716.8L497.2 715.9L498.5 714.1L501.7 714.9Z" fill="#007da2"/>
<path d="M510.7 712.6L507.5 711.8L508.8 709.8L512.0 710.5Z" fill="#009495"/>
<path d="M439.0 742.2L435.6 741.6L437.1 739.8L440.4 740.4Z" fill="#330974"/>
<path d="M476.0 725.9L473.2 725.4L474.6 723.6L477.3 724.1Z" fill="#062187"/>
<path d="M462.4 731.9L459.9 731.5L461.3 729.6L463.8 730.0Z" fill="#160981"/>
<path d="M413.7 750.4L410.8 749.0L412.3 747.2L415.2 748.5Z" fill="#3c0461"/>
<path d="M522.9 706.1L521.4 704.2L522.7 701.8L524.2 703.9Z" fill="#03b04f"/>
<path d="M520.1 706.5L517.3 706.4L518.6 704.2L521.4 704.2Z" fill="#00ab5c"/>
<path d="M490.2 720.6L487.5 720.2L488.8 718.4L491.5 718.8Z" fill="#004a85"/>
<path d="M495.9 717.7L495.6 717.5L496.9 715.7L497.2 715.9Z" fill="#006994"/>
<path d="M527.6 704.2L524.2 703.9L525.5 701.6L528.9 702.0Z" fill="#05a63e"/>
<path d="M533.6 700.0L530.2 699.7L531.4 697.2L534.9 697.5Z" fill="#149811"/>
<path d="M562.6 624.2L557.5 644.0L558.9 638.7L564.1 615.8Z" fill="#310300"/>
<path d="M432.7 745.3L429.4 744.6L430.9 742.8L434.2 743.4Z" fill="#390972"/>
<path d="M549.0 680.2L544.7 684.0L545.9 680.7L550.3 676.1Z" fill="#6b7d00"/>
<path d="M466.4 730.6L463.8 730.0L465.2 728.2L467.8 728.7Z" fill="#0f0a81"/>
<path d="M418.1 749.9L415.2 748.5L416.7 746.7L419.6 748.0Z" fill="#3e0569"/>
<path d="M539.6 695.1L536.2 695.0L537.4 692.5L540.9 692.6Z" fill="#318302"/>
<path d="M504.9 715.8L501.7 714.9L503.0 713.0L506.2 713.8Z" fill="#00859e"/>
<path d="M480.4 724.8L477.3 724.1L478.7 722.2L481.7 723.0Z" fill="#042d87"/>
<path d="M449.5 738.0L447.2 737.6L448.7 735.8L450.9 736.1Z" fill="#2c097b"/>
<path d="M514.7 710.8L512.0 710.5L513.3 708.4L516.0 708.6Z" fill="#009c89"/>
<path d="M494.2 719.2L491.5 718.8L492.8 717.1L495.6 717.5Z" fill="#005584"/>
<path d="M422.3 749.2L419.6 748.0L421.0 746.1L423.8 747.3Z" fill="#3e066c"/>
<path d="M453.2 736.5L450.9 736.1L452.4 734.3L454.7 734.7Z" fill="#27097d"/>
<path d="M470.5 729.1L467.8 728.7L469.2 726.9L471.9 727.3Z" fill="#0a0e84"/>
<path d="M547.7 683.5L543.4 686.9L544.7 684.0L549.0 680.2Z" fill="#658200"/>
<path d="M457.1 735.2L454.7 734.7L456.1 732.8L458.5 733.3Z" fill="#21097f"/>
<path d="M426.5 748.4L423.8 747.3L425.2 745.4L428.0 746.5Z" fill="#3a076a"/>
<path d="M444.4 741.4L440.4 740.4L441.9 738.6L445.8 739.5Z" fill="#300976"/>
<path d="M484.8 723.7L481.7 723.0L483.1 721.2L486.1 721.9Z" fill="#023785"/>
<path d="M564.1 615.8L558.9 638.7L560.2 633.5L565.6 607.3Z" fill="#2d0100"/>
<path d="M509.4 714.6L506.2 713.8L507.5 711.8L510.7 712.6Z" fill="#008c98"/>
<path d="M499.0 718.7L495.9 717.7L497.2 715.9L500.4 716.8Z" fill="#0074a3"/>
<path d="M521.7 708.2L520.1 706.5L521.4 704.2L522.9 706.1Z" fill="#00ac64"/>
<path d="M518.8 708.8L516.0 708.6L517.3 706.4L520.1 706.5Z" fill="#00a873"/>
<path d="M437.5 744.1L434.2 743.4L435.6 741.6L439.0 742.2Z" fill="#350973"/>
<path d="M532.4 702.3L528.9 702.0L530.2 699.7L533.6 700.0Z" fill="#0b961e"/>
<path d="M474.6 727.7L471.9 727.3L473.2 725.4L476.0 725.9Z" fill="#071887"/>
<path d="M526.4 706.5L522.9 706.1L524.2 703.9L527.6 704.2Z" fill="#02a253"/>
<path d="M461.0 733.8L458.5 733.3L459.9 731.5L462.4 731.9Z" fill="#1b0981"/>
<path d="M412.2 752.3L409.3 750.9L410.8 749.0L413.7 750.4Z" fill="#390357"/>
<path d="M538.4 697.7L534.9 697.5L536.2 695.0L539.6 695.1Z" fill="#238206"/>
<path d="M488.8 722.3L486.1 721.9L487.5 720.2L490.2 720.6Z" fill="#014285"/>
<path d="M494.5 719.5L494.2 719.2L495.6 717.5L495.9 717.7Z" fill="#006195"/>
<path d="M431.3 747.2L428.0 746.5L429.4 744.6L432.7 745.3Z" fill="#39086d"/>
<path d="M465.0 732.4L462.4 731.9L463.8 730.0L466.4 730.6Z" fill="#140981"/>
<path d="M416.6 751.8L413.7 750.4L415.2 748.5L418.1 749.9Z" fill="#3c045f"/>
<path d="M503.6 717.7L500.4 716.8L501.7 714.9L504.9 715.8Z" fill="#007c9f"/>
<path d="M513.5 712.9L510.7 712.6L512.0 710.5L514.7 710.8Z" fill="#009894"/>
<path d="M546.5 686.8L542.2 689.7L543.4 686.9L547.7 683.5Z" fill="#5a8300"/>
<path d="M448.1 739.9L445.8 739.5L447.2 737.6L449.5 738.0Z" fill="#2e097a"/>
<path d="M479.0 726.6L476.0 725.9L477.3 724.1L480.4 724.8Z" fill="#052587"/>
<path d="M492.9 720.9L490.2 720.6L491.5 718.8L494.2 719.2Z" fill="#004e84"/>
<path d="M420.8 751.1L418.1 749.9L419.6 748.0L422.3 749.2Z" fill="#3c0563"/>
<path d="M451.8 738.4L449.5 738.0L450.9 736.1L453.2 736.5Z" fill="#2b097c"/>
<path d="M469.1 731.0L466.4 730.6L467.8 728.7L470.5 729.1Z" fill="#0e0c82"/>
<path d="M425.0 750.3L422.3 749.2L423.8 747.3L426.5 748.4Z" fill="#390662"/>
<path d="M455.7 737.0L453.2 736.5L454.7 734.7L457.1 735.2Z" fill="#26097f"/>
<path d="M442.9 743.3L439.0 742.2L440.4 740.4L444.4 741.4Z" fill="#320975"/>
<path d="M508.1 716.7L504.9 715.8L506.2 713.8L509.4 714.6Z" fill="#00859b"/>
<path d="M483.4 725.5L480.4 724.8L481.7 723.0L484.8 723.7Z" fill="#032f85"/>
<path d="M520.4 710.3L518.8 708.8L520.1 706.5L521.7 708.2Z" fill="#00a978"/>
<path d="M517.5 711.1L514.7 710.8L516.0 708.6L518.8 708.8Z" fill="#00a689"/>
<path d="M531.1 704.6L527.6 704.2L528.9 702.0L532.4 702.3Z" fill="#079330"/>
<path d="M537.1 700.3L533.6 700.0L534.9 697.5L538.4 697.7Z" fill="#168209"/>
<path d="M497.7 720.5L494.5 719.5L495.9 717.7L499.0 718.7Z" fill="#006ba5"/>
<path d="M525.1 708.6L521.7 708.2L522.9 706.1L526.4 706.5Z" fill="#009e66"/>
<path d="M545.2 690.1L540.9 692.6L542.2 689.7L546.5 686.8Z" fill="#4f8300"/>
<path d="M473.2 729.6L470.5 729.1L471.9 727.3L474.6 727.7Z" fill="#091286"/>
<path d="M436.1 745.9L432.7 745.3L434.2 743.4L437.5 744.1Z" fill="#380972"/>
<path d="M459.6 735.7L457.1 735.2L458.5 733.3L461.0 733.8Z" fill="#200981"/>
<path d="M493.2 721.3L492.9 720.9L494.2 719.2L494.5 719.5Z" fill="#005a97"/>
<path d="M487.5 724.1L484.8 723.7L486.1 721.9L488.8 722.3Z" fill="#023b85"/>
<path d="M429.8 749.2L426.5 748.4L428.0 746.5L431.3 747.2Z" fill="#380766"/>
<path d="M556.7 668.1L552.9 667.9L554.3 662.7L558.0 662.6Z" fill="#8f6400"/>
<path d="M512.2 714.9L509.4 714.6L510.7 712.6L513.5 712.9Z" fill="#009097"/>
<path d="M463.6 734.3L461.0 733.8L462.4 731.9L465.0 732.4Z" fill="#18097f"/>
<path d="M415.1 753.8L412.2 752.3L413.7 750.4L416.6 751.8Z" fill="#390255"/>
<path d="M502.2 719.6L499.0 718.7L500.4 716.8L503.6 717.7Z" fill="#0072a0"/>
<path d="M555.4 672.3L551.6 672.0L552.9 667.9L556.7 668.1Z" fill="#927b00"/>
<path d="M558.0 662.6L554.3 662.7L555.6 657.5L559.4 657.2Z" fill="#884400"/>
<path d="M446.7 741.8L444.4 741.4L445.8 739.5L448.1 739.9Z" fill="#300979"/>
<path d="M477.6 728.4L474.6 727.7L476.0 725.9L479.0 726.6Z" fill="#061c87"/>
<path d="M559.4 657.2L555.6 657.5L556.9 652.3L560.7 651.7Z" fill="#802400"/>
<path d="M491.6 722.7L488.8 722.3L490.2 720.6L492.9 720.9Z" fill="#014786"/>
<path d="M419.3 753.0L416.6 751.8L418.1 749.9L420.8 751.1Z" fill="#3a035a"/>
<path d="M450.4 740.3L448.1 739.9L449.5 738.0L451.8 738.4Z" fill="#2d097b"/>
<path d="M554.0 676.5L550.3 676.1L551.6 672.0L555.4 672.3Z" fill="#928b00"/>
<path d="M543.9 692.9L539.6 695.1L540.9 692.6L545.2 690.1Z" fill="#428201"/>
<path d="M467.7 732.8L465.0 732.4L466.4 730.6L469.1 731.0Z" fill="#110a80"/>
<path d="M535.8 702.6L532.4 702.3L533.6 700.0L537.1 700.3Z" fill="#0d8113"/>
<path d="M529.8 706.9L526.4 706.5L527.6 704.2L531.1 704.6Z" fill="#039142"/>
<path d="M519.1 712.4L517.5 711.1L518.8 708.8L520.4 710.3Z" fill="#00a58b"/>
<path d="M516.2 713.1L513.5 712.9L514.7 710.8L517.5 711.1Z" fill="#00a196"/>
<path d="M506.8 718.6L503.6 717.7L504.9 715.8L508.1 716.7Z" fill="#007b9d"/>
<path d="M454.3 738.9L451.8 738.4L453.2 736.5L455.7 737.0Z" fill="#2a097e"/>
<path d="M423.5 752.2L420.8 751.1L422.3 749.2L425.0 750.3Z" fill="#37045a"/>
<path d="M560.7 651.7L556.9 652.3L558.3 645.7L562.2 644.7Z" fill="#761100"/>
<path d="M441.5 745.3L437.5 744.1L439.0 742.2L442.9 743.3Z" fill="#350975"/>
<path d="M523.8 710.8L520.4 710.3L521.7 708.2L525.1 708.6Z" fill="#009c75"/>
<path d="M482.1 727.3L479.0 726.6L480.4 724.8L483.4 725.5Z" fill="#052785"/>
<path d="M552.7 680.8L549.0 680.2L550.3 676.1L554.0 676.5Z" fill="#919a00"/>
<path d="M496.4 722.4L493.2 721.3L494.5 719.5L497.7 720.5Z" fill="#0062a7"/>
<path d="M434.6 747.9L431.3 747.2L432.7 745.3L436.1 745.9Z" fill="#38096f"/>
<path d="M471.8 731.4L469.1 731.0L470.5 729.1L473.2 729.6Z" fill="#0c0e85"/>
<path d="M458.2 737.6L455.7 737.0L457.1 735.2L459.6 735.7Z" fill="#250980"/>
<path d="M510.9 717.0L508.1 716.7L509.4 714.6L512.2 714.9Z" fill="#00889b"/>
<path d="M491.9 723.2L491.6 722.7L492.9 720.9L493.2 721.3Z" fill="#01539a"/>
<path d="M486.1 725.9L483.4 725.5L484.8 723.7L487.5 724.1Z" fill="#033386"/>
<path d="M551.5 684.1L547.7 683.5L549.0 680.2L552.7 680.8Z" fill="#89a100"/>
<path d="M428.4 751.1L425.0 750.3L426.5 748.4L429.8 749.2Z" fill="#36065f"/>
<path d="M500.9 721.5L497.7 720.5L499.0 718.7L502.2 719.6Z" fill="#0069a1"/>
<path d="M462.2 736.1L459.6 735.7L461.0 733.8L463.6 734.3Z" fill="#1d097e"/>
<path d="M542.7 695.8L538.4 697.7L539.6 695.1L543.9 692.9Z" fill="#348102"/>
<path d="M562.2 644.7L558.3 645.7L559.7 639.1L563.6 637.7Z" fill="#680a00"/>
<path d="M445.2 743.7L442.9 743.3L444.4 741.4L446.7 741.8Z" fill="#330978"/>
<path d="M476.3 730.3L473.2 729.6L474.6 727.7L477.6 728.4Z" fill="#081587"/>
<path d="M534.6 704.9L531.1 704.6L532.4 702.3L535.8 702.6Z" fill="#088121"/>
<path d="M417.8 754.9L415.1 753.8L416.6 751.8L419.3 753.0Z" fill="#370250"/>
<path d="M528.6 709.1L525.1 708.6L526.4 706.5L529.8 706.9Z" fill="#008f53"/>
<path d="M490.2 724.4L487.5 724.1L488.8 722.3L491.6 722.7Z" fill="#014188"/>
<path d="M449.0 742.2L446.7 741.8L448.1 739.9L450.4 740.3Z" fill="#2f0979"/>
<path d="M517.8 714.4L516.2 713.1L517.5 711.1L519.1 712.4Z" fill="#009f96"/>
<path d="M466.3 734.7L463.6 734.3L465.0 732.4L467.7 732.8Z" fill="#15097f"/>
<path d="M514.9 715.2L512.2 714.9L513.5 712.9L516.2 713.1Z" fill="#00989a"/>
<path d="M522.5 712.9L519.1 712.4L520.4 710.3L523.8 710.8Z" fill="#009985"/>
<path d="M505.5 720.6L502.2 719.6L503.6 717.7L506.8 718.6Z" fill="#00719d"/>
<path d="M550.2 687.5L546.5 686.8L547.7 683.5L551.5 684.1Z" fill="#7b9f00"/>
<path d="M452.9 740.8L450.4 740.3L451.8 738.4L454.3 738.9Z" fill="#2c097c"/>
<path d="M422.1 754.1L419.3 753.0L420.8 751.1L423.5 752.2Z" fill="#350352"/>
<path d="M440.1 747.2L436.1 745.9L437.5 744.1L441.5 745.3Z" fill="#380975"/>
<path d="M480.7 729.2L477.6 728.4L479.0 726.6L482.1 727.3Z" fill="#061f85"/>
<path d="M563.6 637.7L559.7 639.1L561.1 632.5L565.0 630.7Z" fill="#5a0300"/>
<path d="M495.1 724.2L491.9 723.2L493.2 721.3L496.4 722.4Z" fill="#0159ab"/>
<path d="M433.2 749.9L429.8 749.2L431.3 747.2L434.6 747.9Z" fill="#380769"/>
<path d="M470.4 733.3L467.7 732.8L469.1 731.0L471.8 731.4Z" fill="#0f0b84"/>
<path d="M456.8 739.5L454.3 738.9L455.7 737.0L458.2 737.6Z" fill="#28097f"/>
<path d="M541.4 698.6L537.1 700.3L538.4 697.7L542.7 695.8Z" fill="#278003"/>
<path d="M560.4 668.3L556.7 668.1L558.0 662.6L561.8 662.6Z" fill="#b97700"/>
<path d="M559.1 672.7L555.4 672.3L556.7 668.1L560.4 668.3Z" fill="#b99400"/>
<path d="M509.6 718.9L506.8 718.6L508.1 716.7L510.9 717.0Z" fill="#007e9c"/>
<path d="M484.8 727.7L482.1 727.3L483.4 725.5L486.1 725.9Z" fill="#042b87"/>
<path d="M490.5 725.0L490.2 724.4L491.6 722.7L491.9 723.2Z" fill="#024b9d"/>
<path d="M561.8 662.6L558.0 662.6L559.4 657.2L563.2 656.9Z" fill="#b55000"/>
<path d="M426.9 753.1L423.5 752.2L425.0 750.3L428.4 751.1Z" fill="#350457"/>
<path d="M548.9 690.8L545.2 690.1L546.5 686.8L550.2 687.5Z" fill="#6d9e00"/>
<path d="M499.6 723.4L496.4 722.4L497.7 720.5L500.9 721.5Z" fill="#005fa2"/>
<path d="M557.8 677.0L554.0 676.5L555.4 672.3L559.1 672.7Z" fill="#b5a600"/>
<path d="M460.8 738.0L458.2 737.6L459.6 735.7L462.2 736.1Z" fill="#21097d"/>
<path d="M533.3 707.3L529.8 706.9L531.1 704.6L534.6 704.9Z" fill="#038030"/>
<path d="M443.8 745.7L441.5 745.3L442.9 743.3L445.2 743.7Z" fill="#350977"/>
<path d="M474.9 732.2L471.8 731.4L473.2 729.6L476.3 730.3Z" fill="#0b1087"/>
<path d="M563.2 656.9L559.4 657.2L560.7 651.7L564.5 651.2Z" fill="#b12900"/>
<path d="M527.3 711.2L523.8 710.8L525.1 708.6L528.6 709.1Z" fill="#008e64"/>
<path d="M556.5 681.4L552.7 680.8L554.0 676.5L557.8 677.0Z" fill="#b1b900"/>
<path d="M447.5 744.1L445.2 743.7L446.7 741.8L449.0 742.2Z" fill="#310978"/>
<path d="M516.5 716.4L514.9 715.2L516.2 713.1L517.8 714.4Z" fill="#009698"/>
<path d="M513.6 717.3L510.9 717.0L512.2 714.9L514.9 715.2Z" fill="#00909d"/>
<path d="M488.9 726.3L486.1 725.9L487.5 724.1L490.2 724.4Z" fill="#023a8a"/>
<path d="M521.3 714.9L517.8 714.4L519.1 712.4L522.5 712.9Z" fill="#00948d"/>
<path d="M464.9 736.5L462.2 736.1L463.6 734.3L466.3 734.7Z" fill="#1a097e"/>
<path d="M504.1 722.5L500.9 721.5L502.2 719.6L505.5 720.6Z" fill="#00669c"/>
<path d="M565.0 630.7L561.1 632.5L562.6 624.2L566.5 621.6Z" fill="#4b0000"/>
<path d="M451.5 742.7L449.0 742.2L450.4 740.3L452.9 740.8Z" fill="#2e097a"/>
<path d="M438.6 749.2L434.6 747.9L436.1 745.9L440.1 747.2Z" fill="#390972"/>
<path d="M420.6 756.0L417.8 754.9L419.3 753.0L422.1 754.1Z" fill="#330149"/>
<path d="M540.1 701.1L535.8 702.6L537.1 700.3L541.4 698.6Z" fill="#1b7f09"/>
<path d="M564.5 651.2L560.7 651.7L562.2 644.7L566.0 643.7Z" fill="#a81200"/>
<path d="M479.3 731.0L476.3 730.3L477.6 728.4L480.7 729.2Z" fill="#081886"/>
<path d="M547.6 693.6L543.9 692.9L545.2 690.1L548.9 690.8Z" fill="#5d9b00"/>
<path d="M555.2 684.8L551.5 684.1L552.7 680.8L556.5 681.4Z" fill="#a6c000"/>
<path d="M493.7 726.1L490.5 725.0L491.9 723.2L495.1 724.2Z" fill="#0251ae"/>
<path d="M431.7 751.9L428.4 751.1L429.8 749.2L433.2 749.9Z" fill="#370662"/>
<path d="M469.1 735.1L466.3 734.7L467.7 732.8L470.4 733.3Z" fill="#130983"/>
<path d="M455.4 741.4L452.9 740.8L454.3 738.9L456.8 739.5Z" fill="#2b097d"/>
<path d="M508.2 720.9L505.5 720.6L506.8 718.6L509.6 718.9Z" fill="#00729a"/>
<path d="M532.0 709.5L528.6 709.1L529.8 706.9L533.3 707.3Z" fill="#018041"/>
<path d="M483.4 729.6L480.7 729.2L482.1 727.3L484.8 727.7Z" fill="#052389"/>
<path d="M489.2 726.9L488.9 726.3L490.2 724.4L490.5 725.0Z" fill="#0343a1"/>
<path d="M425.4 755.0L422.1 754.1L423.5 752.2L426.9 753.1Z" fill="#33034f"/>
<path d="M498.3 725.3L495.1 724.2L496.4 722.4L499.6 723.4Z" fill="#0156a4"/>
<path d="M459.4 739.8L456.8 739.5L458.2 737.6L460.8 738.0Z" fill="#25097c"/>
<path d="M526.0 713.4L522.5 712.9L523.8 710.8L527.3 711.2Z" fill="#008c74"/>
<path d="M442.4 747.6L440.1 747.2L441.5 745.3L443.8 745.7Z" fill="#380a77"/>
<path d="M553.9 688.2L550.2 687.5L551.5 684.1L555.2 684.8Z" fill="#94bd00"/>
<path d="M473.5 734.0L470.4 733.3L471.8 731.4L474.9 732.2Z" fill="#0e0b87"/>
<path d="M515.2 718.3L513.6 717.3L514.9 715.2L516.5 716.4Z" fill="#008d9a"/>
<path d="M566.0 643.7L562.2 644.7L563.6 637.7L567.5 636.3Z" fill="#9b0b00"/>
<path d="M512.3 719.2L509.6 718.9L510.9 717.0L513.6 717.3Z" fill="#00849c"/>
<path d="M546.4 696.5L542.7 695.8L543.9 692.9L547.6 693.6Z" fill="#4d9700"/>
<path d="M446.1 746.1L443.8 745.7L445.2 743.7L447.5 744.1Z" fill="#340977"/>
<path d="M487.5 728.1L484.8 727.7L486.1 725.9L488.9 726.3Z" fill="#04328e"/>
<path d="M520.0 716.9L516.5 716.4L517.8 714.4L521.3 714.9Z" fill="#008d90"/>
<path d="M538.8 703.6L534.6 704.9L535.8 702.6L540.1 701.1Z" fill="#127f13"/>
<path d="M463.5 738.4L460.8 738.0L462.2 736.1L464.9 736.5Z" fill="#1e087d"/>
<path d="M502.8 724.5L499.6 723.4L500.9 721.5L504.1 722.5Z" fill="#005c9d"/>
<path d="M437.2 751.3L433.2 749.9L434.6 747.9L438.6 749.2Z" fill="#38086c"/>
<path d="M450.0 744.7L447.5 744.1L449.0 742.2L451.5 742.7Z" fill="#300978"/>
<path d="M566.5 621.6L562.6 624.2L564.1 615.8L568.1 612.5Z" fill="#3b0001"/>
<path d="M478.0 732.9L474.9 732.2L476.3 730.3L479.3 731.0Z" fill="#0a1287"/>
<path d="M552.6 691.6L548.9 690.8L550.2 687.5L553.9 688.2Z" fill="#82b900"/>
<path d="M492.4 728.0L489.2 726.9L490.5 725.0L493.7 726.1Z" fill="#0347b1"/>
<path d="M430.2 753.9L426.9 753.1L428.4 751.1L431.7 751.9Z" fill="#36055b"/>
<path d="M467.7 737.0L464.9 736.5L466.3 734.7L469.1 735.1Z" fill="#180983"/>
<path d="M454.0 743.3L451.5 742.7L452.9 740.8L455.4 741.4Z" fill="#2d097b"/>
<path d="M530.8 711.7L527.3 711.2L528.6 709.1L532.0 709.5Z" fill="#008052"/>
<path d="M506.9 722.8L504.1 722.5L505.5 720.6L508.2 720.9Z" fill="#006698"/>
<path d="M567.5 636.3L563.6 637.7L565.0 630.7L568.9 628.8Z" fill="#8e0400"/>
<path d="M545.1 699.3L541.4 698.6L542.7 695.8L546.4 696.5Z" fill="#3d9400"/>
<path d="M482.1 731.5L479.3 731.0L480.7 729.2L483.4 729.6Z" fill="#071c8b"/>
<path d="M487.8 728.8L487.5 728.1L488.9 726.3L489.2 726.9Z" fill="#043aa5"/>
<path d="M423.9 756.9L420.6 756.0L422.1 754.1L425.4 755.0Z" fill="#310147"/>
<path d="M524.7 715.4L521.3 714.9L522.5 712.9L526.0 713.4Z" fill="#008a7f"/>
<path d="M496.9 727.2L493.7 726.1L495.1 724.2L498.3 725.3Z" fill="#024da7"/>
<path d="M458.0 741.7L455.4 741.4L456.8 739.5L459.4 739.8Z" fill="#28097a"/>
<path d="M440.9 749.7L438.6 749.2L440.1 747.2L442.4 747.6Z" fill="#390973"/>
<path d="M472.1 735.9L469.1 735.1L470.4 733.3L473.5 734.0Z" fill="#120987"/>
<path d="M537.6 706.2L533.3 707.3L534.6 704.9L538.8 703.6Z" fill="#097f1d"/>
<path d="M513.9 720.2L512.3 719.2L513.6 717.3L515.2 718.3Z" fill="#008299"/>
<path d="M551.4 694.4L547.6 693.6L548.9 690.8L552.6 691.6Z" fill="#6fb500"/>
<path d="M511.0 721.2L508.2 720.9L509.6 718.9L512.3 719.2Z" fill="#007697"/>
<path d="M444.7 748.0L442.4 747.6L443.8 745.7L446.1 746.1Z" fill="#360976"/>
<path d="M518.7 718.9L515.2 718.3L516.5 716.4L520.0 716.9Z" fill="#008592"/>
<path d="M486.2 730.0L483.4 729.6L484.8 727.7L487.5 728.1Z" fill="#052b91"/>
<path d="M462.1 740.3L459.4 739.8L460.8 738.0L463.5 738.4Z" fill="#23087c"/>
<path d="M501.5 726.4L498.3 725.3L499.6 723.4L502.8 724.5Z" fill="#01529e"/>
<path d="M435.7 753.3L431.7 751.9L433.2 749.9L437.2 751.3Z" fill="#380765"/>
<path d="M448.6 746.6L446.1 746.1L447.5 744.1L450.0 744.7Z" fill="#330977"/>
<path d="M476.6 734.8L473.5 734.0L474.9 732.2L478.0 732.9Z" fill="#0d0c88"/>
<path d="M491.0 729.9L487.8 728.8L489.2 726.9L492.4 728.0Z" fill="#053cb3"/>
<path d="M428.8 755.9L425.4 755.0L426.9 753.1L430.2 753.9Z" fill="#340353"/>
<path d="M568.1 612.5L564.1 615.8L565.6 607.3L569.6 603.3Z" fill="#2b0001"/>
<path d="M543.8 701.8L540.1 701.1L541.4 698.6L545.1 699.3Z" fill="#2d9104"/>
<path d="M529.5 713.9L526.0 713.4L527.3 711.2L530.8 711.7Z" fill="#008064"/>
<path d="M452.5 745.3L450.0 744.7L451.5 742.7L454.0 743.3Z" fill="#300979"/>
<path d="M466.3 738.9L463.5 738.4L464.9 736.5L467.7 737.0Z" fill="#1d0983"/>
<path d="M505.6 724.8L502.8 724.5L504.1 722.5L506.9 722.8Z" fill="#005b96"/>
<path d="M568.9 628.8L565.0 630.7L566.5 621.6L570.5 619.0Z" fill="#780001"/>
<path d="M550.1 697.2L546.4 696.5L547.6 693.6L551.4 694.4Z" fill="#5caf00"/>
<path d="M523.4 717.4L520.0 716.9L521.3 714.9L524.7 715.4Z" fill="#008584"/>
<path d="M480.7 733.4L478.0 732.9L479.3 731.0L482.1 731.5Z" fill="#09158d"/>
<path d="M486.5 730.7L486.2 730.0L487.5 728.1L487.8 728.8Z" fill="#0631a8"/>
<path d="M536.3 708.6L532.0 709.5L533.3 707.3L537.6 706.2Z" fill="#03802c"/>
<path d="M495.6 729.2L492.4 728.0L493.7 726.1L496.9 727.2Z" fill="#0342a8"/>
<path d="M439.5 751.8L437.2 751.3L438.6 749.2L440.9 749.7Z" fill="#38086d"/>
<path d="M456.6 743.6L454.0 743.3L455.4 741.4L458.0 741.7Z" fill="#2b0979"/>
<path d="M470.7 737.8L467.7 737.0L469.1 735.1L472.1 735.9Z" fill="#170988"/>
<path d="M512.6 722.0L511.0 721.2L512.3 719.2L513.9 720.2Z" fill="#007594"/>
<path d="M509.7 723.1L506.9 722.8L508.2 720.9L511.0 721.2Z" fill="#006992"/>
<path d="M443.2 750.1L440.9 749.7L442.4 747.6L444.7 748.0Z" fill="#370973"/>
<path d="M517.4 720.8L513.9 720.2L515.2 718.3L518.7 718.9Z" fill="#007c92"/>
<path d="M484.8 731.9L482.1 731.5L483.4 729.6L486.2 730.0Z" fill="#072295"/>
<path d="M500.2 728.4L496.9 727.2L498.3 725.3L501.5 726.4Z" fill="#02489f"/>
<path d="M460.7 742.2L458.0 741.7L459.4 739.8L462.1 740.3Z" fill="#26097b"/>
<path d="M434.2 755.4L430.2 753.9L431.7 751.9L435.7 753.3Z" fill="#37055e"/>
<path d="M542.6 704.4L538.8 703.6L540.1 701.1L543.8 701.8Z" fill="#1e900b"/>
<path d="M447.2 748.6L444.7 748.0L446.1 746.1L448.6 746.6Z" fill="#350976"/>
<path d="M475.2 736.7L472.1 735.9L473.5 734.0L476.6 734.8Z" fill="#11098a"/>
<path d="M548.8 700.0L545.1 699.3L546.4 696.5L550.1 697.2Z" fill="#49a900"/>
<path d="M489.7 731.9L486.5 730.7L487.8 728.8L491.0 729.9Z" fill="#0730b6"/>
<path d="M528.2 715.9L524.7 715.4L526.0 713.4L529.5 713.9Z" fill="#007f71"/>
<path d="M427.3 757.9L423.9 756.9L425.4 755.0L428.8 755.9Z" fill="#32024b"/>
<path d="M451.1 747.2L448.6 746.6L450.0 744.7L452.5 745.3Z" fill="#320977"/>
<path d="M464.8 740.8L462.1 740.3L463.5 738.4L466.3 738.9Z" fill="#220983"/>
<path d="M504.3 726.7L501.5 726.4L502.8 724.5L505.6 724.8Z" fill="#015196"/>
<path d="M535.0 710.9L530.8 711.7L532.0 709.5L536.3 708.6Z" fill="#028140"/>
<path d="M522.1 719.5L518.7 718.9L520.0 716.9L523.4 717.4Z" fill="#00818a"/>
<path d="M438.0 753.9L435.7 753.3L437.2 751.3L439.5 751.8Z" fill="#380767"/>
<path d="M485.1 732.6L484.8 731.9L486.2 730.0L486.5 730.7Z" fill="#0827ab"/>
<path d="M479.3 735.3L476.6 734.8L478.0 732.9L480.7 733.4Z" fill="#0b0e8f"/>
<path d="M494.2 731.1L491.0 729.9L492.4 728.0L495.6 729.2Z" fill="#0537aa"/>
<path d="M455.1 745.6L452.5 745.3L454.0 743.3L456.6 743.6Z" fill="#2e0977"/>
<path d="M469.3 739.7L466.3 738.9L467.7 737.0L470.7 737.8Z" fill="#1c0988"/>
<path d="M511.3 723.9L509.7 723.1L511.0 721.2L512.6 722.0Z" fill="#00688f"/>
<path d="M508.4 725.0L505.6 724.8L506.9 722.8L509.7 723.1Z" fill="#005c8f"/>
<path d="M441.8 752.3L439.5 751.8L440.9 749.7L443.2 750.1Z" fill="#37086d"/>
<path d="M570.5 619.0L566.5 621.6L568.1 612.5L572.1 609.1Z" fill="#5a0002"/>
<path d="M541.3 706.9L537.6 706.2L538.8 703.6L542.6 704.4Z" fill="#0f8f12"/>
<path d="M516.1 722.6L512.6 722.0L513.9 720.2L517.4 720.8Z" fill="#007290"/>
<path d="M483.4 733.9L480.7 733.4L482.1 731.5L484.8 731.9Z" fill="#081998"/>
<path d="M547.6 702.5L543.8 701.8L545.1 699.3L548.8 700.0Z" fill="#36a503"/>
<path d="M498.8 730.3L495.6 729.2L496.9 727.2L500.2 728.4Z" fill="#033ea0"/>
<path d="M459.3 744.1L456.6 743.6L458.0 741.7L460.7 742.2Z" fill="#2a097a"/>
<path d="M432.8 757.4L428.8 755.9L430.2 753.9L434.2 755.4Z" fill="#350456"/>
<path d="M445.7 750.7L443.2 750.1L444.7 748.0L447.2 748.6Z" fill="#360972"/>
<path d="M526.9 718.0L523.4 717.4L524.7 715.4L528.2 715.9Z" fill="#007e79"/>
<path d="M473.8 738.6L470.7 737.8L472.1 735.9L475.2 736.7Z" fill="#16098b"/>
<path d="M488.3 733.8L485.1 732.6L486.5 730.7L489.7 731.9Z" fill="#0926b7"/>
<path d="M533.7 713.3L529.5 713.9L530.8 711.7L535.0 710.9Z" fill="#018255"/>
<path d="M449.7 749.2L447.2 748.6L448.6 746.6L451.1 747.2Z" fill="#330975"/>
<path d="M463.4 742.7L460.7 742.2L462.1 740.3L464.8 740.8Z" fill="#270983"/>
<path d="M502.9 728.6L500.2 728.4L501.5 726.4L504.3 726.7Z" fill="#024795"/>
<path d="M520.8 721.3L517.4 720.8L518.7 718.9L522.1 719.5Z" fill="#007b8c"/>
<path d="M436.5 755.9L434.2 755.4L435.7 753.3L438.0 753.9Z" fill="#37065f"/>
<path d="M483.7 734.6L483.4 733.9L484.8 731.9L485.1 732.6Z" fill="#0a1cad"/>
<path d="M477.9 737.2L475.2 736.7L476.6 734.8L479.3 735.3Z" fill="#100a91"/>
<path d="M492.9 733.1L489.7 731.9L491.0 729.9L494.2 731.1Z" fill="#072cac"/>
<path d="M453.7 747.5L451.1 747.2L452.5 745.3L455.1 745.6Z" fill="#300976"/>
<path d="M540.0 709.3L536.3 708.6L537.6 706.2L541.3 706.9Z" fill="#079021"/>
<path d="M546.3 705.1L542.6 704.4L543.8 701.8L547.6 702.5Z" fill="#25a409"/>
<path d="M440.3 754.4L438.0 753.9L439.5 751.8L441.8 752.3Z" fill="#370767"/>
<path d="M467.9 741.6L464.8 740.8L466.3 738.9L469.3 739.7Z" fill="#220989"/>
<path d="M507.1 727.0L504.3 726.7L505.6 724.8L508.4 725.0Z" fill="#00528c"/>
<path d="M510.0 725.7L508.4 725.0L509.7 723.1L511.3 723.9Z" fill="#005d8c"/>
<path d="M514.8 724.5L511.3 723.9L512.6 722.0L516.1 722.6Z" fill="#00678d"/>
<path d="M482.0 735.8L479.3 735.3L480.7 733.4L483.4 733.9Z" fill="#0a109b"/>
<path d="M497.5 732.3L494.2 731.1L495.6 729.2L498.8 730.3Z" fill="#0533a1"/>
<path d="M431.3 759.4L427.3 757.9L428.8 755.9L432.8 757.4Z" fill="#33024d"/>
<path d="M444.3 752.8L441.8 752.3L443.2 750.1L445.7 750.7Z" fill="#36086d"/>
<path d="M457.9 746.1L455.1 745.6L456.6 743.6L459.3 744.1Z" fill="#2d097a"/>
<path d="M572.1 609.1L568.1 612.5L569.6 603.3L573.7 599.3Z" fill="#3c0003"/>
<path d="M525.6 720.0L522.1 719.5L523.4 717.4L526.9 718.0Z" fill="#007e81"/>
<path d="M532.4 715.6L528.2 715.9L529.5 713.9L533.7 713.3Z" fill="#008566"/>
<path d="M486.9 735.8L483.7 734.6L485.1 732.6L488.3 733.8Z" fill="#0c1cb7"/>
<path d="M472.4 740.5L469.3 739.7L470.7 737.8L473.8 738.6Z" fill="#1b0a8d"/>
<path d="M448.2 751.3L445.7 750.7L447.2 748.6L449.7 749.2Z" fill="#350972"/>
<path d="M501.6 730.6L498.8 730.3L500.2 728.4L502.9 728.6Z" fill="#033c95"/>
<path d="M462.0 744.6L459.3 744.1L460.7 742.2L463.4 742.7Z" fill="#2c0983"/>
<path d="M538.7 711.8L535.0 710.9L536.3 708.6L540.0 709.3Z" fill="#049238"/>
<path d="M519.5 723.2L516.1 722.6L517.4 720.8L520.8 721.3Z" fill="#00728b"/>
<path d="M435.1 758.0L432.8 757.4L434.2 755.4L436.5 755.9Z" fill="#350456"/>
<path d="M545.0 707.6L541.3 706.9L542.6 704.4L546.3 705.1Z" fill="#13a210"/>
<path d="M482.3 736.5L482.0 735.8L483.4 733.9L483.7 734.6Z" fill="#0c12af"/>
<path d="M491.5 735.0L488.3 733.8L489.7 731.9L492.9 733.1Z" fill="#0922ad"/>
<path d="M476.5 739.2L473.8 738.6L475.2 736.7L477.9 737.2Z" fill="#150a93"/>
<path d="M452.3 749.5L449.7 749.2L451.1 747.2L453.7 747.5Z" fill="#320975"/>
<path d="M438.8 756.5L436.5 755.9L438.0 753.9L440.3 754.4Z" fill="#36065f"/>
<path d="M505.7 728.9L502.9 728.6L504.3 726.7L507.1 727.0Z" fill="#014789"/>
<path d="M466.5 743.5L463.4 742.7L464.8 740.8L467.9 741.6Z" fill="#27098a"/>
<path d="M508.7 727.6L507.1 727.0L508.4 725.0L510.0 725.7Z" fill="#00538a"/>
<path d="M513.4 726.4L510.0 725.7L511.3 723.9L514.8 724.5Z" fill="#005e8c"/>
<path d="M480.7 737.8L477.9 737.2L479.3 735.3L482.0 735.8Z" fill="#0f0b9e"/>
<path d="M496.1 734.3L492.9 733.1L494.2 731.1L497.5 732.3Z" fill="#0728a2"/>
<path d="M442.8 754.9L440.3 754.4L441.8 752.3L444.3 752.8Z" fill="#360767"/>
<path d="M456.4 748.1L453.7 747.5L455.1 745.6L457.9 746.1Z" fill="#300979"/>
<path d="M524.3 721.9L520.8 721.3L522.1 719.5L525.6 720.0Z" fill="#007985"/>
<path d="M531.2 717.8L526.9 718.0L528.2 715.9L532.4 715.6Z" fill="#008876"/>
<path d="M485.6 737.7L482.3 736.5L483.7 734.6L486.9 735.8Z" fill="#0f11b7"/>
<path d="M471.0 742.4L467.9 741.6L469.3 739.7L472.4 740.5Z" fill="#210a8e"/>
<path d="M446.8 753.4L444.3 752.8L445.7 750.7L448.2 751.3Z" fill="#35086c"/>
<path d="M543.8 710.1L540.0 709.3L541.3 706.9L545.0 707.6Z" fill="#08a220"/>
<path d="M537.5 714.2L533.7 713.3L535.0 710.9L538.7 711.8Z" fill="#019450"/>
<path d="M500.3 732.6L497.5 732.3L498.8 730.3L501.6 730.6Z" fill="#043295"/>
<path d="M460.6 746.6L457.9 746.1L459.3 744.1L462.0 744.6Z" fill="#2f0983"/>
<path d="M433.6 760.1L431.3 759.4L432.8 757.4L435.1 758.0Z" fill="#33024e"/>
<path d="M518.2 725.1L514.8 724.5L516.1 722.6L519.5 723.2Z" fill="#006889"/>
<path d="M481.0 738.5L480.7 737.8L482.0 735.8L482.3 736.5Z" fill="#110cb0"/>
<path d="M490.2 737.0L486.9 735.8L488.3 733.8L491.5 735.0Z" fill="#0c19ac"/>
<path d="M475.1 741.1L472.4 740.5L473.8 738.6L476.5 739.2Z" fill="#1b0a95"/>
<path d="M450.8 751.6L448.2 751.3L449.7 749.2L452.3 749.5Z" fill="#330972"/>
<path d="M437.4 758.6L435.1 758.0L436.5 755.9L438.8 756.5Z" fill="#340456"/>
<path d="M504.4 730.8L501.6 730.6L502.9 728.6L505.7 728.9Z" fill="#023d88"/>
<path d="M465.1 745.5L462.0 744.6L463.4 742.7L466.5 743.5Z" fill="#2d0a8b"/>
<path d="M507.3 729.4L505.7 728.9L507.1 727.0L508.7 727.6Z" fill="#004a88"/>
<path d="M479.3 739.8L476.5 739.2L477.9 737.2L480.7 737.8Z" fill="#150ba0"/>
<path d="M441.3 757.0L438.8 756.5L440.3 754.4L442.8 754.9Z" fill="#350660"/>
<path d="M512.1 728.2L508.7 727.6L510.0 725.7L513.4 726.4Z" fill="#00568c"/>
<path d="M494.8 736.2L491.5 735.0L492.9 733.1L496.1 734.3Z" fill="#091fa2"/>
<path d="M455.0 750.1L452.3 749.5L453.7 747.5L456.4 748.1Z" fill="#320979"/>
<path d="M529.9 720.1L525.6 720.0L526.9 718.0L531.2 717.8Z" fill="#008c85"/>
<path d="M523.0 723.8L519.5 723.2L520.8 721.3L524.3 721.9Z" fill="#007285"/>
<path d="M542.5 712.7L538.7 711.8L540.0 709.3L543.8 710.1Z" fill="#05a43a"/>
<path d="M536.2 716.6L532.4 715.6L533.7 713.3L537.5 714.2Z" fill="#009867"/>
<path d="M484.2 739.7L481.0 738.5L482.3 736.5L485.6 737.7Z" fill="#140cb6"/>
<path d="M445.3 755.5L442.8 754.9L444.3 752.8L446.8 753.4Z" fill="#350867"/>
<path d="M469.6 744.3L466.5 743.5L467.9 741.6L471.0 742.4Z" fill="#270a90"/>
<path d="M498.9 734.5L496.1 734.3L497.5 732.3L500.3 732.6Z" fill="#062795"/>
<path d="M459.2 748.6L456.4 748.1L457.9 746.1L460.6 746.6Z" fill="#320982"/>
<path d="M516.9 727.0L513.4 726.4L514.8 724.5L518.2 725.1Z" fill="#006089"/>
<path d="M479.6 740.5L479.3 739.8L480.7 737.8L481.0 738.5Z" fill="#180cb0"/>
<path d="M449.4 753.7L446.8 753.4L448.2 751.3L450.8 751.6Z" fill="#35096e"/>
<path d="M488.8 738.9L485.6 737.7L486.9 735.8L490.2 737.0Z" fill="#0f10ac"/>
<path d="M473.7 743.1L471.0 742.4L472.4 740.5L475.1 741.1Z" fill="#220a97"/>
<path d="M435.9 760.7L433.6 760.1L435.1 758.0L437.4 758.6Z" fill="#32034d"/>
<path d="M503.1 732.8L500.3 732.6L501.6 730.6L504.4 730.8Z" fill="#033387"/>
<path d="M463.7 747.5L460.6 746.6L462.0 744.6L465.1 745.5Z" fill="#310a8b"/>
<path d="M506.0 731.3L504.4 730.8L505.7 728.9L507.3 729.4Z" fill="#014087"/>
<path d="M439.9 759.2L437.4 758.6L438.8 756.5L441.3 757.0Z" fill="#330556"/>
<path d="M477.9 741.8L475.1 741.1L476.5 739.2L479.3 739.8Z" fill="#1c0ba2"/>
<path d="M493.4 738.2L490.2 737.0L491.5 735.0L494.8 736.2Z" fill="#0c17a1"/>
<path d="M541.2 715.2L537.5 714.2L538.7 711.8L542.5 712.7Z" fill="#02a654"/>
<path d="M510.8 730.1L507.3 729.4L508.7 727.6L512.1 728.2Z" fill="#004e8c"/>
<path d="M453.5 752.2L450.8 751.6L452.3 749.5L455.0 750.1Z" fill="#340977"/>
<path d="M528.6 722.2L524.3 721.9L525.6 720.0L529.9 720.1Z" fill="#008b90"/>
<path d="M534.9 719.0L531.2 717.8L532.4 715.6L536.2 716.6Z" fill="#009f7f"/>
<path d="M521.7 725.8L518.2 725.1L519.5 723.2L523.0 723.8Z" fill="#006a86"/>
<path d="M443.9 757.6L441.3 757.0L442.8 754.9L445.3 755.5Z" fill="#340760"/>
<path d="M482.8 741.6L479.6 740.5L481.0 738.5L484.2 739.7Z" fill="#1b0cb4"/>
<path d="M468.2 746.3L465.1 745.5L466.5 743.5L469.6 744.3Z" fill="#2e0a92"/>
<path d="M497.6 736.5L494.8 736.2L496.1 734.3L498.9 734.5Z" fill="#081e95"/>
<path d="M457.7 750.6L455.0 750.1L456.4 748.1L459.2 748.6Z" fill="#340a82"/>
<path d="M478.2 742.4L477.9 741.8L479.3 739.8L479.6 740.5Z" fill="#1f0cb0"/>
<path d="M447.9 755.9L445.3 755.5L446.8 753.4L449.4 753.7Z" fill="#36086b"/>
<path d="M515.6 728.9L512.1 728.2L513.4 726.4L516.9 727.0Z" fill="#00598a"/>
<path d="M487.4 740.9L484.2 739.7L485.6 737.7L488.8 738.9Z" fill="#130bab"/>
<path d="M472.3 745.1L469.6 744.3L471.0 742.4L473.7 743.1Z" fill="#290a99"/>
<path d="M501.7 734.8L498.9 734.5L500.3 732.6L503.1 732.8Z" fill="#042a86"/>
<path d="M539.9 717.7L536.2 716.6L537.5 714.2L541.2 715.2Z" fill="#00aa70"/>
<path d="M462.2 749.5L459.2 748.6L460.6 746.6L463.7 747.5Z" fill="#340a8a"/>
<path d="M504.7 733.3L503.1 732.8L504.4 730.8L506.0 731.3Z" fill="#023787"/>
<path d="M438.4 761.3L435.9 760.7L437.4 758.6L439.9 759.2Z" fill="#31034d"/>
<path d="M476.5 743.9L473.7 743.1L475.1 741.1L477.9 741.8Z" fill="#230ba4"/>
<path d="M533.6 721.4L529.9 720.1L531.2 717.8L534.9 719.0Z" fill="#00a596"/>
<path d="M452.1 754.4L449.4 753.7L450.8 751.6L453.5 752.2Z" fill="#360975"/>
<path d="M492.0 740.2L488.8 738.9L490.2 737.0L493.4 738.2Z" fill="#0e0fa1"/>
<path d="M509.5 732.0L506.0 731.3L507.3 729.4L510.8 730.1Z" fill="#01458d"/>
<path d="M527.3 724.3L523.0 723.8L524.3 721.9L528.6 722.2Z" fill="#008795"/>
<path d="M442.4 759.7L439.9 759.2L441.3 757.0L443.9 757.6Z" fill="#320557"/>
<path d="M520.4 727.7L516.9 727.0L518.2 725.1L521.7 725.8Z" fill="#006387"/>
<path d="M481.4 743.6L478.2 742.4L479.6 740.5L482.8 741.6Z" fill="#210cb1"/>
<path d="M466.7 748.3L463.7 747.5L465.1 745.5L468.2 746.3Z" fill="#320a92"/>
<path d="M496.2 738.5L493.4 738.2L494.8 736.2L497.6 736.5Z" fill="#0a1696"/>
<path d="M456.3 752.8L453.5 752.2L455.0 750.1L457.7 750.6Z" fill="#370a80"/>
<path d="M446.4 758.0L443.9 757.6L445.3 755.5L447.9 755.9Z" fill="#360765"/>
<path d="M476.8 744.5L476.5 743.9L477.9 741.8L478.2 742.4Z" fill="#260caf"/>
<path d="M514.3 730.8L510.8 730.1L512.1 728.2L515.6 728.9Z" fill="#00518b"/>
<path d="M486.0 742.8L482.8 741.6L484.2 739.7L487.4 740.9Z" fill="#1a0ba9"/>
<path d="M470.9 747.2L468.2 746.3L469.6 744.3L472.3 745.1Z" fill="#2f0b9b"/>
<path d="M538.6 720.2L534.9 719.0L536.2 716.6L539.9 717.7Z" fill="#00b18c"/>
<path d="M500.4 736.8L497.6 736.5L498.9 734.5L501.7 734.8Z" fill="#062186"/>
<path d="M460.8 751.5L457.7 750.6L459.2 748.6L462.2 749.5Z" fill="#360a8a"/>
<path d="M503.3 735.2L501.7 734.8L503.1 732.8L504.7 733.3Z" fill="#042e87"/>
<path d="M532.3 723.6L528.6 722.2L529.9 720.1L533.6 721.4Z" fill="#00a6a7"/>
<path d="M475.1 746.0L472.3 745.1L473.7 743.1L476.5 743.9Z" fill="#2b0ba6"/>
<path d="M450.6 756.5L447.9 755.9L449.4 753.7L452.1 754.4Z" fill="#390973"/>
<path d="M490.7 742.1L487.4 740.9L488.8 738.9L492.0 740.2Z" fill="#130ba0"/>
<path d="M526.0 726.4L521.7 725.8L523.0 723.8L527.3 724.3Z" fill="#00829b"/>
<path d="M508.1 734.0L504.7 733.3L506.0 731.3L509.5 732.0Z" fill="#023d8f"/>
<path d="M440.9 761.8L438.4 761.3L439.9 759.2L442.4 759.7Z" fill="#30044e"/>
<path d="M519.1 729.5L515.6 728.9L516.9 727.0L520.4 727.7Z" fill="#005c89"/>
<path d="M480.0 745.6L476.8 744.5L478.2 742.4L481.4 743.6Z" fill="#280cb0"/>
<path d="M465.3 750.3L462.2 749.5L463.7 747.5L466.7 748.3Z" fill="#350a92"/>
<path d="M454.8 755.0L452.1 754.4L453.5 752.2L456.3 752.8Z" fill="#390a7e"/>
<path d="M494.8 740.5L492.0 740.2L493.4 738.2L496.2 738.5Z" fill="#0d0f96"/>
<path d="M537.3 722.7L533.6 721.4L534.9 719.0L538.6 720.2Z" fill="#00b7a8"/>
<path d="M445.0 760.1L442.4 759.7L443.9 757.6L446.4 758.0Z" fill="#34065c"/>
<path d="M475.4 746.5L475.1 746.0L476.5 743.9L476.8 744.5Z" fill="#2e0caf"/>
<path d="M484.6 744.8L481.4 743.6L482.8 741.6L486.0 742.8Z" fill="#200ba8"/>
<path d="M513.0 732.7L509.5 732.0L510.8 730.1L514.3 730.8Z" fill="#014a8d"/>
<path d="M469.5 749.2L466.7 748.3L468.2 746.3L470.9 747.2Z" fill="#350b9c"/>
<path d="M499.0 738.8L496.2 738.5L497.6 736.5L500.4 736.8Z" fill="#081889"/>
<path d="M531.0 725.9L527.3 724.3L528.6 722.2L532.3 723.6Z" fill="#00a2b2"/>
<path d="M459.4 753.6L456.3 752.8L457.7 750.6L460.8 751.5Z" fill="#390a88"/>
<path d="M502.0 737.3L500.4 736.8L501.7 734.8L503.3 735.2Z" fill="#052589"/>
<path d="M449.2 758.7L446.4 758.0L447.9 755.9L450.6 756.5Z" fill="#39086d"/>
<path d="M473.7 748.0L470.9 747.2L472.3 745.1L475.1 746.0Z" fill="#320ba7"/>
<path d="M524.7 728.4L520.4 727.7L521.7 725.8L526.0 726.4Z" fill="#007ca0"/>
<path d="M489.3 744.0L486.0 742.8L487.4 740.9L490.7 742.1Z" fill="#190b9f"/>
<path d="M506.8 735.9L503.3 735.2L504.7 733.3L508.1 734.0Z" fill="#043491"/>
<path d="M478.6 747.6L475.4 746.5L476.8 744.5L480.0 745.6Z" fill="#2f0cae"/>
<path d="M517.8 731.4L514.3 730.8L515.6 728.9L519.1 729.5Z" fill="#00558b"/>
<path d="M453.4 757.2L450.6 756.5L452.1 754.4L454.8 755.0Z" fill="#3c0a7b"/>
<path d="M463.9 752.3L460.8 751.5L462.2 749.5L465.3 750.3Z" fill="#380b91"/>
<path d="M536.0 725.1L532.3 723.6L533.6 721.4L537.3 722.7Z" fill="#00b7bb"/>
<path d="M493.5 742.5L490.7 742.1L492.0 740.2L494.8 740.5Z" fill="#110b97"/>
<path d="M443.5 762.3L440.9 761.8L442.4 759.7L445.0 760.1Z" fill="#320454"/>
<path d="M474.0 748.5L473.7 748.0L475.1 746.0L475.4 746.5Z" fill="#360caf"/>
<path d="M483.3 746.8L480.0 745.6L481.4 743.6L484.6 744.8Z" fill="#270ba6"/>
<path d="M468.1 751.2L465.3 750.3L466.7 748.3L469.5 749.2Z" fill="#380b9b"/>
<path d="M511.6 734.7L508.1 734.0L509.5 732.0L513.0 732.7Z" fill="#02418f"/>
<path d="M529.7 728.1L526.0 726.4L527.3 724.3L531.0 725.9Z" fill="#009dbc"/>
<path d="M457.9 755.8L454.8 755.0L456.3 752.8L459.4 753.6Z" fill="#3c0a85"/>
<path d="M497.6 740.8L494.8 740.5L496.2 738.5L499.0 738.8Z" fill="#0a108c"/>
<path d="M500.6 739.4L499.0 738.8L500.4 736.8L502.0 737.3Z" fill="#071b8c"/>
<path d="M447.7 760.9L445.0 760.1L446.4 758.0L449.2 758.7Z" fill="#370765"/>
<path d="M472.3 750.1L469.5 749.2L470.9 747.2L473.7 748.0Z" fill="#380ca8"/>
<path d="M523.4 730.4L519.1 729.5L520.4 727.7L524.7 728.4Z" fill="#0074a4"/>
<path d="M487.9 746.0L484.6 744.8L486.0 742.8L489.3 744.0Z" fill="#1f0b9e"/>
<path d="M505.4 738.0L502.0 737.3L503.3 735.2L506.8 735.9Z" fill="#052a93"/>
<path d="M477.2 749.7L474.0 748.5L475.4 746.5L478.6 747.6Z" fill="#360cac"/>
<path d="M451.9 759.4L449.2 758.7L450.6 756.5L453.4 757.2Z" fill="#3c0975"/>
<path d="M534.7 727.5L531.0 725.9L532.3 723.6L536.0 725.1Z" fill="#00aec4"/>
<path d="M516.5 733.4L513.0 732.7L514.3 730.8L517.8 731.4Z" fill="#014e8d"/>
<path d="M462.5 754.5L459.4 753.6L460.8 751.5L463.9 752.3Z" fill="#3b0b8f"/>
<path d="M492.1 744.4L489.3 744.0L490.7 742.1L493.5 742.5Z" fill="#170b98"/>
<path d="M472.6 750.6L472.3 750.1L473.7 748.0L474.0 748.5Z" fill="#3b0cae"/>
<path d="M466.6 753.3L463.9 752.3L465.3 750.3L468.1 751.2Z" fill="#3b0b9a"/>
<path d="M481.9 748.8L478.6 747.6L480.0 745.6L483.3 746.8Z" fill="#2d0ba5"/>
<path d="M510.3 736.6L506.8 735.9L508.1 734.0L511.6 734.7Z" fill="#033992"/>
<path d="M528.4 730.3L524.7 728.4L526.0 726.4L529.7 728.1Z" fill="#0096c3"/>
<path d="M456.5 758.0L453.4 757.2L454.8 755.0L457.9 755.8Z" fill="#3e0b82"/>
<path d="M496.3 742.8L493.5 742.5L494.8 740.5L497.6 740.8Z" fill="#0d0c90"/>
<path d="M499.3 741.5L497.6 740.8L499.0 738.8L500.6 739.4Z" fill="#081190"/>
<path d="M446.2 763.1L443.5 762.3L445.0 760.1L447.7 760.9Z" fill="#35055c"/>
<path d="M470.8 752.2L468.1 751.2L469.5 749.2L472.3 750.1Z" fill="#3c0ca6"/>
<path d="M504.1 740.1L500.6 739.4L502.0 737.3L505.4 738.0Z" fill="#071f95"/>
<path d="M522.0 732.5L517.8 731.4L519.1 729.5L523.4 730.4Z" fill="#006ca7"/>
<path d="M486.5 748.0L483.3 746.8L484.6 744.8L487.9 746.0Z" fill="#250b9d"/>
<path d="M533.4 729.9L529.7 728.1L531.0 725.9L534.7 727.5Z" fill="#00a6ce"/>
<path d="M450.5 761.6L447.7 760.9L449.2 758.7L451.9 759.4Z" fill="#3a076b"/>
<path d="M461.0 756.6L457.9 755.8L459.4 753.6L462.5 754.5Z" fill="#3e0b8c"/>
<path d="M475.8 751.7L472.6 750.6L474.0 748.5L477.2 749.7Z" fill="#3b0caa"/>
<path d="M515.1 735.4L511.6 734.7L513.0 732.7L516.5 733.4Z" fill="#024690"/>
<path d="M490.7 746.4L487.9 746.0L489.3 744.0L492.1 744.4Z" fill="#1d0a99"/>
<path d="M471.1 752.6L470.8 752.2L472.3 750.1L472.6 750.6Z" fill="#3e0cab"/>
<path d="M465.2 755.5L462.5 754.5L463.9 752.3L466.6 753.3Z" fill="#3e0b98"/>
<path d="M480.4 750.8L477.2 749.7L478.6 747.6L481.9 748.8Z" fill="#340ba5"/>
<path d="M527.1 732.4L523.4 730.4L524.7 728.4L528.4 730.3Z" fill="#008ac7"/>
<path d="M455.0 760.2L451.9 759.4L453.4 757.2L456.5 758.0Z" fill="#3e0a7c"/>
<path d="M508.9 738.7L505.4 738.0L506.8 735.9L510.3 736.6Z" fill="#042f93"/>
<path d="M494.9 744.9L492.1 744.4L493.5 742.5L496.3 742.8Z" fill="#130b94"/>
<path d="M497.9 743.7L496.3 742.8L497.6 740.8L499.3 741.5Z" fill="#0c0c93"/>
<path d="M469.4 754.3L466.6 753.3L468.1 751.2L470.8 752.2Z" fill="#3f0ca5"/>
<path d="M502.7 742.2L499.3 741.5L500.6 739.4L504.1 740.1Z" fill="#091597"/>
<path d="M520.7 734.5L516.5 733.4L517.8 731.4L522.0 732.5Z" fill="#0163aa"/>
<path d="M485.1 750.0L481.9 748.8L483.3 746.8L486.5 748.0Z" fill="#2b0b9d"/>
<path d="M532.1 732.2L528.4 730.3L529.7 728.1L533.4 729.9Z" fill="#009ad4"/>
<path d="M449.0 763.8L446.2 763.1L447.7 760.9L450.5 761.6Z" fill="#380661"/>
<path d="M459.6 758.8L456.5 758.0L457.9 755.8L461.0 756.6Z" fill="#400b88"/>
<path d="M474.4 753.8L471.1 752.6L472.6 750.6L475.8 751.7Z" fill="#3e0ca7"/>
<path d="M513.8 737.3L510.3 736.6L511.6 734.7L515.1 735.4Z" fill="#033e93"/>
<path d="M489.3 748.5L486.5 748.0L487.9 746.0L490.7 746.4Z" fill="#230a99"/>
<path d="M469.7 754.7L469.4 754.3L470.8 752.2L471.1 752.6Z" fill="#410ca8"/>
<path d="M463.8 757.7L461.0 756.6L462.5 754.5L465.2 755.5Z" fill="#410b94"/>
<path d="M453.5 762.4L450.5 761.6L451.9 759.4L455.0 760.2Z" fill="#3c0871"/>
<path d="M525.8 734.6L522.0 732.5L523.4 730.4L527.1 732.4Z" fill="#007fcb"/>
<path d="M507.6 740.8L504.1 740.1L505.4 738.0L508.9 738.7Z" fill="#062494"/>
<path d="M479.0 752.9L475.8 751.7L477.2 749.7L480.4 750.8Z" fill="#390ba3"/>
<path d="M496.5 745.9L494.9 744.9L496.3 742.8L497.9 743.7Z" fill="#130c96"/>
<path d="M493.5 746.9L490.7 746.4L492.1 744.4L494.9 744.9Z" fill="#190b98"/>
<path d="M468.0 756.5L465.2 755.5L466.6 753.3L469.4 754.3Z" fill="#430ca2"/>
<path d="M501.4 744.3L497.9 743.7L499.3 741.5L502.7 742.2Z" fill="#0d0e98"/>
<path d="M530.8 734.5L527.1 732.4L528.4 730.3L532.1 732.2Z" fill="#008ad7"/>
<path d="M519.4 736.5L515.1 735.4L516.5 733.4L520.7 734.5Z" fill="#0258ac"/>
<path d="M483.7 752.0L480.4 750.8L481.9 748.8L485.1 750.0Z" fill="#320b9d"/>
<path d="M458.1 761.0L455.0 760.2L456.5 758.0L459.6 758.8Z" fill="#400a81"/>
<path d="M472.9 755.9L469.7 754.7L471.1 752.6L474.4 753.8Z" fill="#400ca4"/>
<path d="M512.5 739.4L508.9 738.7L510.3 736.6L513.8 737.3Z" fill="#043494"/>
<path d="M487.9 750.5L485.1 750.0L486.5 748.0L489.3 748.5Z" fill="#290b9a"/>
<path d="M468.3 756.9L468.0 756.5L469.4 754.3L469.7 754.7Z" fill="#450ca5"/>
<path d="M462.3 759.9L459.6 758.8L461.0 756.6L463.8 757.7Z" fill="#430c90"/>
<path d="M452.1 764.6L449.0 763.8L450.5 761.6L453.5 762.4Z" fill="#3a0667"/>
<path d="M524.4 736.7L520.7 734.5L522.0 732.5L525.8 734.6Z" fill="#0172cd"/>
<path d="M506.2 742.9L502.7 742.2L504.1 740.1L507.6 740.8Z" fill="#081995"/>
<path d="M477.6 755.0L474.4 753.8L475.8 751.7L479.0 752.9Z" fill="#3c0ca1"/>
<path d="M495.1 748.0L493.5 746.9L494.9 744.9L496.5 745.9Z" fill="#190b99"/>
<path d="M466.5 758.7L463.8 757.7L465.2 755.5L468.0 756.5Z" fill="#450c9e"/>
<path d="M492.1 748.9L489.3 748.5L490.7 746.4L493.5 746.9Z" fill="#200b9b"/>
<path d="M500.0 746.5L496.5 745.9L497.9 743.7L501.4 744.3Z" fill="#130d97"/>
<path d="M529.5 736.8L525.8 734.6L527.1 732.4L530.8 734.5Z" fill="#017bda"/>
<path d="M518.1 738.6L513.8 737.3L515.1 735.4L519.4 736.5Z" fill="#034dae"/>
<path d="M482.3 754.1L479.0 752.9L480.4 750.8L483.7 752.0Z" fill="#370b9c"/>
<path d="M456.7 763.2L453.5 762.4L455.0 760.2L458.1 761.0Z" fill="#3e0977"/>
<path d="M471.5 758.1L468.3 756.9L469.7 754.7L472.9 755.9Z" fill="#430ca1"/>
<path d="M511.1 741.5L507.6 740.8L508.9 738.7L512.5 739.4Z" fill="#052993"/>
<path d="M466.8 759.2L466.5 758.7L468.0 756.5L468.3 756.9Z" fill="#480da2"/>
<path d="M486.5 752.5L483.7 752.0L485.1 750.0L487.9 750.5Z" fill="#300b9b"/>
<path d="M460.9 762.1L458.1 761.0L459.6 758.8L462.3 759.9Z" fill="#430b89"/>
<path d="M504.9 745.0L501.4 744.3L502.7 742.2L506.2 742.9Z" fill="#0b1294"/>
<path d="M523.1 738.8L519.4 736.5L520.7 734.5L524.4 736.7Z" fill="#0263cd"/>
<path d="M476.2 757.1L472.9 755.9L474.4 753.8L477.6 755.0Z" fill="#3e0c9f"/>
<path d="M493.7 750.1L492.1 748.9L493.5 746.9L495.1 748.0Z" fill="#200a99"/>
<path d="M465.1 760.9L462.3 759.9L463.8 757.7L466.5 758.7Z" fill="#480c9b"/>
<path d="M490.7 751.0L487.9 750.5L489.3 748.5L492.1 748.9Z" fill="#270b9c"/>
<path d="M498.6 748.7L495.1 748.0L496.5 745.9L500.0 746.5Z" fill="#190b95"/>
<path d="M528.2 738.9L524.4 736.7L525.8 734.6L529.5 736.8Z" fill="#026bda"/>
<path d="M516.7 740.5L512.5 739.4L513.8 737.3L518.1 738.6Z" fill="#0442ad"/>
<path d="M480.9 756.2L477.6 755.0L479.0 752.9L482.3 754.1Z" fill="#3a0b9b"/>
<path d="M455.2 765.4L452.1 764.6L453.5 762.4L456.7 763.2Z" fill="#3c076d"/>
<path d="M470.1 760.4L466.8 759.2L468.3 756.9L471.5 758.1Z" fill="#470c9e"/>
<path d="M509.8 743.6L506.2 742.9L507.6 740.8L511.1 741.5Z" fill="#071e92"/>
<path d="M465.4 761.4L465.1 760.9L466.5 758.7L466.8 759.2Z" fill="#4b0d9e"/>
<path d="M485.1 754.7L482.3 754.1L483.7 752.0L486.5 752.5Z" fill="#340b9a"/>
<path d="M459.4 764.3L456.7 763.2L458.1 761.0L460.9 762.1Z" fill="#41097f"/>
<path d="M503.5 747.2L500.0 746.5L501.4 744.3L504.9 745.0Z" fill="#100f91"/>
<path d="M521.8 740.8L518.1 738.6L519.4 736.5L523.1 738.8Z" fill="#0455cd"/>
<path d="M474.8 759.3L471.5 758.1L472.9 755.9L476.2 757.1Z" fill="#410c9c"/>
<path d="M463.6 763.1L460.9 762.1L462.3 759.9L465.1 760.9Z" fill="#480c93"/>
<path d="M492.4 752.2L490.7 751.0L492.1 748.9L493.7 750.1Z" fill="#250a97"/>
<path d="M489.3 753.1L486.5 752.5L487.9 750.5L490.7 751.0Z" fill="#2e0b9d"/>
<path d="M497.2 750.7L493.7 750.1L495.1 748.0L498.6 748.7Z" fill="#1e0a92"/>
<path d="M526.9 741.0L523.1 738.8L524.4 736.7L528.2 738.9Z" fill="#045ad8"/>
<path d="M515.4 742.5L511.1 741.5L512.5 739.4L516.7 740.5Z" fill="#0535a9"/>
<path d="M479.5 758.3L476.2 757.1L477.6 755.0L480.9 756.2Z" fill="#3d0b99"/>
<path d="M468.6 762.7L465.4 761.4L466.8 759.2L470.1 760.4Z" fill="#4a0d9a"/>
<path d="M508.4 745.7L504.9 745.0L506.2 742.9L509.8 743.6Z" fill="#09168f"/>
<path d="M463.9 763.6L463.6 763.1L465.1 760.9L465.4 761.4Z" fill="#4b0c97"/>
<path d="M457.9 766.5L455.2 765.4L456.7 763.2L459.4 764.3Z" fill="#3f0874"/>
<path d="M483.7 756.8L480.9 756.2L482.3 754.1L485.1 754.7Z" fill="#370b97"/>
<path d="M502.1 749.3L498.6 748.7L500.0 746.5L503.5 747.2Z" fill="#150b8e"/>
<path d="M473.3 761.6L470.1 760.4L471.5 758.1L474.8 759.3Z" fill="#450c99"/>
<path d="M520.5 742.8L516.7 740.5L518.1 738.6L521.8 740.8Z" fill="#0547ca"/>
<path d="M462.2 765.3L459.4 764.3L460.9 762.1L463.6 763.1Z" fill="#460a88"/>
<path d="M491.0 754.2L489.3 753.1L490.7 751.0L492.4 752.2Z" fill="#2b0a95"/>
<path d="M487.9 755.2L485.1 754.7L486.5 752.5L489.3 753.1Z" fill="#320b9b"/>
<path d="M495.8 752.8L492.4 752.2L493.7 750.1L497.2 750.7Z" fill="#230a8d"/>
<path d="M525.5 743.1L521.8 740.8L523.1 738.8L526.9 741.0Z" fill="#064ad6"/>
<path d="M478.0 760.6L474.8 759.3L476.2 757.1L479.5 758.3Z" fill="#400b97"/>
<path d="M467.2 764.9L463.9 763.6L465.4 761.4L468.6 762.7Z" fill="#4a0c93"/>
<path d="M514.0 744.5L509.8 743.6L511.1 741.5L515.4 742.5Z" fill="#0728a6"/>
<path d="M507.0 747.8L503.5 747.2L504.9 745.0L508.4 745.7Z" fill="#0d118b"/>
<path d="M462.5 765.9L462.2 765.3L463.6 763.1L463.9 763.6Z" fill="#490a8b"/>
<path d="M482.3 758.9L479.5 758.3L480.9 756.2L483.7 756.8Z" fill="#3a0b94"/>
<path d="M471.9 763.9L468.6 762.7L470.1 760.4L473.3 761.6Z" fill="#480c96"/>
<path d="M500.7 751.4L497.2 750.7L498.6 748.7L502.1 749.3Z" fill="#190989"/>
<path d="M519.1 744.7L515.4 742.5L516.7 740.5L520.5 742.8Z" fill="#0739c4"/>
<path d="M460.7 767.5L457.9 766.5L459.4 764.3L462.2 765.3Z" fill="#44087d"/>
<path d="M489.6 756.1L487.9 755.2L489.3 753.1L491.0 754.2Z" fill="#2e0a8f"/>
<path d="M486.5 757.4L483.7 756.8L485.1 754.7L487.9 755.2Z" fill="#340b94"/>
<path d="M494.5 754.9L491.0 754.2L492.4 752.2L495.8 752.8Z" fill="#280987"/>
<path d="M524.2 745.0L520.5 742.8L521.8 740.8L525.5 743.1Z" fill="#083bd2"/>
<path d="M476.6 762.9L473.3 761.6L474.8 759.3L478.0 760.6Z" fill="#430c94"/>
<path d="M465.7 767.2L462.5 765.9L463.9 763.6L467.2 764.9Z" fill="#480a87"/>
<path d="M512.7 746.4L508.4 745.7L509.8 743.6L514.0 744.5Z" fill="#091ea1"/>
<path d="M505.7 749.9L502.1 749.3L503.5 747.2L507.0 747.8Z" fill="#110b86"/>
<path d="M461.0 768.1L460.7 767.5L462.2 765.3L462.5 765.9Z" fill="#470880"/>
<path d="M480.9 761.2L478.0 760.6L479.5 758.3L482.3 758.9Z" fill="#3b0b8f"/>
<path d="M470.5 766.2L467.2 764.9L468.6 762.7L471.9 763.9Z" fill="#480b8f"/>
<path d="M499.4 753.5L495.8 752.8L497.2 750.7L500.7 751.4Z" fill="#1e0984"/>
<path d="M517.8 746.6L514.0 744.5L515.4 742.5L519.1 744.7Z" fill="#082bbe"/>
<path d="M485.1 759.5L482.3 758.9L483.7 756.8L486.5 757.4Z" fill="#360a8e"/>
<path d="M488.1 757.9L486.5 757.4L487.9 755.2L489.6 756.1Z" fill="#2e0986"/>
<path d="M493.1 756.8L489.6 756.1L491.0 754.2L494.5 754.9Z" fill="#290980"/>
<path d="M475.2 765.2L471.9 763.9L473.3 761.6L476.6 762.9Z" fill="#460c92"/>
<path d="M522.9 746.9L519.1 744.7L520.5 742.8L524.2 745.0Z" fill="#092dcc"/>
<path d="M464.3 769.5L461.0 768.1L462.5 765.9L465.7 767.2Z" fill="#46087c"/>
<path d="M511.3 748.3L507.0 747.8L508.4 745.7L512.7 746.4Z" fill="#0b169a"/>
<path d="M504.3 752.0L500.7 751.4L502.1 749.3L505.7 749.9Z" fill="#150981"/>
<path d="M479.4 763.5L476.6 762.9L478.0 760.6L480.9 761.2Z" fill="#3c0b88"/>
<path d="M469.0 768.5L465.7 767.2L467.2 764.9L470.5 766.2Z" fill="#460983"/>
<path d="M498.0 755.5L494.5 754.9L495.8 752.8L499.4 753.5Z" fill="#22097f"/>
<path d="M516.4 748.4L512.7 746.4L514.0 744.5L517.8 746.6Z" fill="#0a20b8"/>
<path d="M483.7 761.9L480.9 761.2L482.3 758.9L485.1 759.5Z" fill="#350a83"/>
<path d="M486.7 759.8L485.1 759.5L486.5 757.4L488.1 757.9Z" fill="#2e097c"/>
<path d="M473.7 767.5L470.5 766.2L471.9 763.9L475.2 765.2Z" fill="#460b8a"/>
<path d="M491.6 758.7L488.1 757.9L489.6 756.1L493.1 756.8Z" fill="#290877"/>
<path d="M521.5 748.8L517.8 746.6L519.1 744.7L522.9 746.9Z" fill="#0b20c6"/>
<path d="M509.9 750.2L505.7 749.9L507.0 747.8L511.3 748.3Z" fill="#0d0e94"/>
<path d="M502.9 754.1L499.4 753.5L500.7 751.4L504.3 752.0Z" fill="#19087c"/>
<path d="M478.0 765.9L475.2 765.2L476.6 762.9L479.4 763.5Z" fill="#3d0a81"/>
<path d="M467.6 770.8L464.3 769.5L465.7 767.2L469.0 768.5Z" fill="#430777"/>
<path d="M496.6 757.5L493.1 756.8L494.5 754.9L498.0 755.5Z" fill="#25087a"/>
<path d="M482.3 764.2L479.4 763.5L480.9 761.2L483.7 761.9Z" fill="#310973"/>
<path d="M472.3 769.8L469.0 768.5L470.5 766.2L473.7 767.5Z" fill="#44097e"/>
<path d="M515.1 750.3L511.3 748.3L512.7 746.4L516.4 748.4Z" fill="#0c17b1"/>
<path d="M485.3 761.4L483.7 761.9L485.1 759.5L486.7 759.8Z" fill="#2b086e"/>
<path d="M490.2 760.6L486.7 759.8L488.1 757.9L491.6 758.7Z" fill="#28086d"/>
<path d="M520.2 750.5L516.4 748.4L517.8 746.6L521.5 748.8Z" fill="#0d17bf"/>
<path d="M508.6 752.2L504.3 752.0L505.7 749.9L509.9 750.2Z" fill="#110a8e"/>
<path d="M476.6 768.2L473.7 767.5L475.2 765.2L478.0 765.9Z" fill="#3c0977"/>
<path d="M501.5 756.2L498.0 755.5L499.4 753.5L502.9 754.1Z" fill="#1d0877"/>
<path d="M480.8 766.6L478.0 765.9L479.4 763.5L482.3 764.2Z" fill="#2e0863"/>
<path d="M495.2 759.4L491.6 758.7L493.1 756.8L496.6 757.5Z" fill="#260874"/>
<path d="M470.8 772.2L467.6 770.8L469.0 768.5L472.3 769.8Z" fill="#410772"/>
<path d="M513.7 752.1L509.9 750.2L511.3 748.3L515.1 750.3Z" fill="#0e0faa"/>
<path d="M483.9 763.1L482.3 764.2L483.7 761.9L485.3 761.4Z" fill="#26075d"/>
<path d="M488.8 762.3L485.3 761.4L486.7 759.8L490.2 760.6Z" fill="#260763"/>
<path d="M518.9 752.3L515.1 750.3L516.4 748.4L520.2 750.5Z" fill="#1012b9"/>
<path d="M475.1 770.6L472.3 769.8L473.7 767.5L476.6 768.2Z" fill="#39086a"/>
<path d="M507.2 754.1L502.9 754.1L504.3 752.0L508.6 752.2Z" fill="#150989"/>
<path d="M500.1 758.2L496.6 757.5L498.0 755.5L501.5 756.2Z" fill="#200874"/>
<path d="M479.4 768.9L476.6 768.2L478.0 765.9L480.8 766.6Z" fill="#2a0754"/>
<path d="M493.8 761.4L490.2 760.6L491.6 758.7L495.2 759.4Z" fill="#27086f"/>
<path d="M512.3 754.0L508.6 752.2L509.9 750.2L513.7 752.1Z" fill="#120ba4"/>
<path d="M482.4 764.8L480.8 766.6L482.3 764.2L483.9 763.1Z" fill="#21064b"/>
<path d="M473.7 772.9L470.8 772.2L472.3 769.8L475.1 770.6Z" fill="#35065e"/>
<path d="M505.8 756.1L501.5 756.2L502.9 754.1L507.2 754.1Z" fill="#1a0985"/>
<path d="M517.5 754.1L513.7 752.1L515.1 750.3L518.9 752.3Z" fill="#130eb3"/>
<path d="M487.4 764.1L483.9 763.1L485.3 761.4L488.8 762.3Z" fill="#220658"/>
<path d="M498.7 760.2L495.2 759.4L496.6 757.5L500.1 758.2Z" fill="#230872"/>
<path d="M478.0 771.3L475.1 770.6L476.6 768.2L479.4 768.9Z" fill="#250547"/>
<path d="M492.3 763.2L488.8 762.3L490.2 760.6L493.8 761.4Z" fill="#28086a"/>
<path d="M511.0 755.9L507.2 754.1L508.6 752.2L512.3 754.0Z" fill="#170ba0"/>
<path d="M481.0 766.3L479.4 768.9L480.8 766.6L482.4 764.8Z" fill="#1c053e"/>
<path d="M504.4 758.3L500.1 758.2L501.5 756.2L505.8 756.1Z" fill="#1f0984"/>
<path d="M516.1 755.9L512.3 754.0L513.7 752.1L517.5 754.1Z" fill="#170cae"/>
<path d="M497.3 762.2L493.8 761.4L495.2 759.4L498.7 760.2Z" fill="#260870"/>
<path d="M476.5 773.7L473.7 772.9L475.1 770.6L478.0 771.3Z" fill="#20043a"/>
<path d="M486.0 765.8L482.4 764.8L483.9 763.1L487.4 764.1Z" fill="#1f064d"/>
<path d="M490.9 765.0L487.4 764.1L488.8 762.3L492.3 763.2Z" fill="#270766"/>
<path d="M509.6 757.8L505.8 756.1L507.2 754.1L511.0 755.9Z" fill="#1c0b9d"/>
<path d="M479.5 767.9L478.0 771.3L479.4 768.9L481.0 766.3Z" fill="#190435"/>
<path d="M503.0 760.4L498.7 760.2L500.1 758.2L504.4 758.3Z" fill="#250986"/>
<path d="M495.9 764.1L492.3 763.2L493.8 761.4L497.3 762.2Z" fill="#290871"/>
<path d="M514.8 757.7L511.0 755.9L512.3 754.0L516.1 755.9Z" fill="#1c0cab"/>
<path d="M484.5 767.5L481.0 766.3L482.4 764.8L486.0 765.8Z" fill="#1d0546"/>
<path d="M489.5 766.9L486.0 765.8L487.4 764.1L490.9 765.0Z" fill="#270762"/>
<path d="M508.2 759.9L504.4 758.3L505.8 756.1L509.6 757.8Z" fill="#220b9c"/>
<path d="M478.1 769.5L476.5 773.7L478.0 771.3L479.5 767.9Z" fill="#15032b"/>
<path d="M501.6 762.5L497.3 762.2L498.7 760.2L503.0 760.4Z" fill="#2a0988"/>
<path d="M494.5 766.0L490.9 765.0L492.3 763.2L495.9 764.1Z" fill="#2c0874"/>
<path d="M513.4 759.5L509.6 757.8L511.0 755.9L514.8 757.7Z" fill="#200ba8"/>
<path d="M483.1 769.1L479.5 767.9L481.0 766.3L484.5 767.5Z" fill="#1d0544"/>
<path d="M506.8 761.9L503.0 760.4L504.4 758.3L508.2 759.9Z" fill="#290ba0"/>
<path d="M488.1 768.6L484.5 767.5L486.0 765.8L489.5 766.9Z" fill="#280761"/>
<path d="M500.2 765.0L495.9 764.1L497.3 762.2L501.6 762.5Z" fill="#300a8c"/>
<path d="M512.0 761.5L508.2 759.9L509.6 757.8L513.4 759.5Z" fill="#260ba8"/>
<path d="M493.0 767.9L489.5 766.9L490.9 765.0L494.5 766.0Z" fill="#2f0977"/>
<path d="M481.6 770.8L478.1 769.5L479.5 767.9L483.1 769.1Z" fill="#1d0541"/>
<path d="M505.4 764.0L501.6 762.5L503.0 760.4L506.8 761.9Z" fill="#310ba3"/>
<path d="M498.8 767.5L494.5 766.0L495.9 764.1L500.2 765.0Z" fill="#370b93"/>
<path d="M486.6 770.4L483.1 769.1L484.5 767.5L488.1 768.6Z" fill="#2a0863"/>
<path d="M510.6 763.5L506.8 761.9L508.2 759.9L512.0 761.5Z" fill="#2e0caa"/>
<path d="M491.6 769.8L488.1 768.6L489.5 766.9L493.0 767.9Z" fill="#33097c"/>
<path d="M504.0 766.5L500.2 765.0L501.6 762.5L505.4 764.0Z" fill="#380ca7"/>
<path d="M497.4 770.0L493.0 767.9L494.5 766.0L498.8 767.5Z" fill="#3d0b99"/>
<path d="M485.2 772.2L481.6 770.8L483.1 769.1L486.6 770.4Z" fill="#2d0864"/>
<path d="M509.2 765.5L505.4 764.0L506.8 761.9L510.6 763.5Z" fill="#350cad"/>
<path d="M490.2 771.7L486.6 770.4L488.1 768.6L491.6 769.8Z" fill="#380a82"/>
<path d="M502.6 769.0L498.8 767.5L500.2 765.0L504.0 766.5Z" fill="#3f0cab"/>
<path d="M495.9 772.6L491.6 769.8L493.0 767.9L497.4 770.0Z" fill="#430c9e"/>
<path d="M507.8 768.0L504.0 766.5L505.4 764.0L509.2 765.5Z" fill="#3b0cae"/>
<path d="M501.2 771.5L497.4 770.0L498.8 767.5L502.6 769.0Z" fill="#460daf"/>
<path d="M488.7 773.6L485.2 772.2L486.6 770.4L490.2 771.7Z" fill="#3c0b88"/>
<path d="M494.5 775.2L490.2 771.7L491.6 769.8L495.9 772.6Z" fill="#480ca1"/>
<path d="M506.4 770.5L502.6 769.0L504.0 766.5L507.8 768.0Z" fill="#400dad"/>
<path d="M499.7 774.1L495.9 772.6L497.4 770.0L501.2 771.5Z" fill="#4c0db0"/>
<path d="M493.0 777.8L488.7 773.6L490.2 771.7L494.5 775.2Z" fill="#4e0da5"/>
<path d="M505.0 772.9L501.2 771.5L502.6 769.0L506.4 770.5Z" fill="#460dad"/>
<path d="M498.3 776.7L494.5 775.2L495.9 772.6L499.7 774.1Z" fill="#500dac"/>
<path d="M503.6 775.6L499.7 774.1L501.2 771.5L505.0 772.9Z" fill="#490daa"/>
<path d="M496.9 779.3L493.0 777.8L494.5 775.2L498.3 776.7Z" fill="#550da9"/>
<path d="M502.1 778.2L498.3 776.7L499.7 774.1L503.6 775.6Z" fill="#4c0ca3"/>
<path d="M500.7 780.8L496.9 779.3L498.3 776.7L502.1 778.2Z" fill="#4e0c9c"/>
</g></defs>
<g filter="url(#sblur0)"><use href="#surf"/></g>
<g clip-path="url(#ssil)"><g filter="url(#sblur)"><use href="#surf"/></g></g>
<line x1="503.27" y1="806.38" x2="372.89" y2="755.04" stroke="#222" stroke-width="0.9"/>
<line x1="503.27" y1="806.38" x2="583.32" y2="734.09" stroke="#222" stroke-width="0.9"/>
<line x1="583.32" y1="734.09" x2="591.79" y2="593.77" stroke="#222" stroke-width="0.9"/>
<path d="M490.84 801.48L488.18 803.80M469.26 792.99L466.55 795.21M448.51 784.81L445.74 786.96M428.54 776.95L425.72 779.01M409.31 769.38L406.45 771.36M390.77 762.08L387.87 763.99M372.89 755.04L369.96 756.88M479.94 797.19L478.51 798.40M458.79 788.86L457.33 790.02M438.43 780.84L436.94 781.96M418.83 773.13L417.32 774.20M399.95 765.69L398.42 766.73M381.75 758.52L380.20 759.53M503.27 806.38L509.49 808.83M520.06 791.22L526.16 793.50M535.74 777.06L541.72 779.19M550.42 763.80L556.28 765.80M564.19 751.36L569.93 753.24M577.13 739.68L582.77 741.44M511.81 798.67L515.16 799.95M528.03 784.02L531.31 785.22M543.20 770.32L546.42 771.45M557.41 757.48L560.57 758.54M570.76 745.43L573.85 746.42M583.32 734.09l3 0.6M584.89 707.97l3 0.6M586.53 680.94l3 0.6M588.22 652.93l3 0.6M589.97 623.89l3 0.6M591.79 593.77l3 0.6" stroke="#222" stroke-width="0.8" fill="none"/>
<text transform="translate(597.0,598.5) rotate(9)" class="f3">10000.0</text>
<text transform="translate(594.8,629.3) rotate(9)" class="f3">8000.0</text>
<text transform="translate(593.0,657.9) rotate(9)" class="f3">6000.0</text>
<text transform="translate(590.8,686.8) rotate(9)" class="f3">4000.0</text>
<text transform="translate(588.8,714.2) rotate(9)" class="f3">2000.0</text>
<text transform="translate(586.5,739.0) rotate(9)" class="f3">0.0</text>
<text transform="translate(505.7,810.3) rotate(15) skewX(-15)" class="f3v">0.0</text>
<text transform="translate(524.0,795.7) rotate(15) skewX(-15)" class="f3v">10.0</text>
<text transform="translate(538.3,781.8) rotate(15) skewX(-15)" class="f3v">20.0</text>
<text transform="translate(553.9,768.8) rotate(15) skewX(-15)" class="f3v">30.0</text>
<text transform="translate(567.8,756.4) rotate(15) skewX(-15)" class="f3v">40.0</text>
<text transform="translate(580.9,744.0) rotate(15) skewX(-15)" class="f3v">50.0</text>
<text transform="translate(361.0,763.6) rotate(-40)" text-anchor="middle" dy="2.5" class="f3f">14.000</text>
<text transform="translate(378.5,771.2) rotate(-40)" text-anchor="middle" dy="2.5" class="f3f">12.000</text>
<text transform="translate(397.5,777.7) rotate(-40)" text-anchor="middle" dy="2.5" class="f3f">10.000</text>
<text transform="translate(417.4,784.2) rotate(-40)" text-anchor="middle" dy="2.5" class="f3f">8.000</text>
<text transform="translate(437.3,792.8) rotate(-40)" text-anchor="middle" dy="2.5" class="f3f">6.000</text>
<text transform="translate(457.2,801.3) rotate(-40)" text-anchor="middle" dy="2.5" class="f3f">4.000</text>
<text transform="translate(481.5,810.7) rotate(-40)" text-anchor="middle" dy="2.5" class="f3f">2.000</text>
<text transform="translate(356.5,782.5) rotate(22.2)" class="f3t">Switching Frequency (<tspan font-style="italic">f</tspan><tspan font-size="5.5" dy="1.6">sw</tspan><tspan dy="-1.6"> , kHz)</tspan></text>
<text transform="translate(549.5,806.5) rotate(-43.4)" class="f3t2">Set Input Voltage (<tspan font-style="italic">V</tspan><tspan font-size="4.2" dy="1.3">in,set</tspan><tspan dy="-1.3"> , V)</tspan></text>
<text transform="translate(621.3,751.5) rotate(-84.5)" class="f3z">Secondary Peak-to-Peak Voltage (<tspan>V</tspan><tspan font-size="6" dy="1.8">hv,pp</tspan><tspan dy="-1.8"> , V)</tspan></text>
<defs><linearGradient id="cb" x1="0" y1="0" x2="0" y2="1"><stop offset="0.000" stop-color="#580008"/><stop offset="0.100" stop-color="#a00000"/><stop offset="0.200" stop-color="#e80000"/><stop offset="0.300" stop-color="#ff0000"/><stop offset="0.350" stop-color="#ff2000"/><stop offset="0.400" stop-color="#ff5000"/><stop offset="0.440" stop-color="#f89000"/><stop offset="0.470" stop-color="#f0d000"/><stop offset="0.500" stop-color="#f0f000"/><stop offset="0.550" stop-color="#d0f000"/><stop offset="0.600" stop-color="#90e800"/><stop offset="0.640" stop-color="#50e000"/><stop offset="0.670" stop-color="#10e010"/><stop offset="0.700" stop-color="#00e060"/><stop offset="0.720" stop-color="#00e0b0"/><stop offset="0.750" stop-color="#00e8f0"/><stop offset="0.800" stop-color="#0080f0"/><stop offset="0.850" stop-color="#1010f0"/><stop offset="0.900" stop-color="#5010e8"/><stop offset="0.950" stop-color="#6010c0"/><stop offset="1.000" stop-color="#480060"/></linearGradient></defs>
<rect x="639.6" y="667.6" width="14.1" height="145" fill="#fff" stroke="#888" stroke-width="0.7"/>
<rect x="639.8" y="669.0" width="13.8" height="143.4" fill="url(#cb)"/>
<line x1="653.7" y1="669.30" x2="656.5" y2="669.30" stroke="#444" stroke-width="0.8"/>
<text x="659.6" y="671.70" class="cbl">9750.0</text>
<line x1="653.7" y1="683.57" x2="656.5" y2="683.57" stroke="#444" stroke-width="0.8"/>
<text x="659.6" y="685.97" class="cbl">8830.0</text>
<line x1="653.7" y1="697.84" x2="656.5" y2="697.84" stroke="#444" stroke-width="0.8"/>
<text x="659.6" y="700.24" class="cbl">7910.0</text>
<line x1="653.7" y1="712.11" x2="656.5" y2="712.11" stroke="#444" stroke-width="0.8"/>
<text x="659.6" y="714.51" class="cbl">6990.0</text>
<line x1="653.7" y1="726.38" x2="656.5" y2="726.38" stroke="#444" stroke-width="0.8"/>
<text x="659.6" y="728.78" class="cbl">6070.0</text>
<line x1="653.7" y1="740.65" x2="656.5" y2="740.65" stroke="#444" stroke-width="0.8"/>
<text x="659.6" y="743.05" class="cbl">5150.0</text>
<line x1="653.7" y1="754.92" x2="656.5" y2="754.92" stroke="#444" stroke-width="0.8"/>
<text x="659.6" y="757.32" class="cbl">4230.0</text>
<line x1="653.7" y1="769.19" x2="656.5" y2="769.19" stroke="#444" stroke-width="0.8"/>
<text x="659.6" y="771.59" class="cbl">3310.0</text>
<line x1="653.7" y1="783.46" x2="656.5" y2="783.46" stroke="#444" stroke-width="0.8"/>
<text x="659.6" y="785.86" class="cbl">2390.0</text>
<line x1="653.7" y1="797.73" x2="656.5" y2="797.73" stroke="#444" stroke-width="0.8"/>
<text x="659.6" y="800.13" class="cbl">1470.0</text>
<line x1="653.7" y1="812.00" x2="656.5" y2="812.00" stroke="#444" stroke-width="0.8"/>
<text x="659.6" y="814.40" class="cbl">550.0</text>
<text x="642.6" y="658.8" class="cbt">V<tspan font-size="6.5" dy="2.2">hv,pp</tspan><tspan dy="-2.2"> (V)</tspan></text>
</svg></body></html>
